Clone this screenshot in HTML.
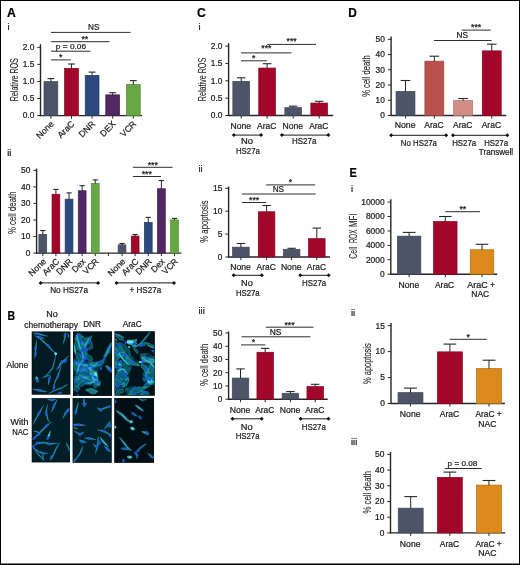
<!DOCTYPE html>
<html><head><meta charset="utf-8"><style>
html,body{margin:0;padding:0;background:#fff;}
body{width:520px;height:565px;overflow:hidden;}
svg{display:block;font-family:"Liberation Sans", sans-serif;will-change:transform;}
text{stroke:#1a1a1a;stroke-width:0.22px;paint-order:stroke;}
</style></head><body>
<svg width="520" height="565" viewBox="0 0 520 565">
<rect x="0" y="0" width="520" height="565" fill="#fff"/>
<text x="7.00" y="17.00" font-size="12.2" text-anchor="start" fill="#000" font-weight="bold">A</text>
<text x="7.50" y="29.50" font-size="9.4" text-anchor="start" fill="#1a1a1a">i</text>
<text x="197.00" y="17.00" font-size="12.2" text-anchor="start" fill="#000" font-weight="bold">C</text>
<text x="198.50" y="29.50" font-size="9.4" text-anchor="start" fill="#1a1a1a">i</text>
<text x="348.30" y="17.00" font-size="12.2" text-anchor="start" fill="#000" font-weight="bold" textLength="8.60" lengthAdjust="spacingAndGlyphs">D</text>
<text x="7.20" y="156.00" font-size="9.4" text-anchor="start" fill="#1a1a1a">ii</text>
<text x="7.50" y="320.00" font-size="12.2" text-anchor="start" fill="#000" font-weight="bold" textLength="7.60" lengthAdjust="spacingAndGlyphs">B</text>
<text x="198.50" y="171.80" font-size="9.4" text-anchor="start" fill="#1a1a1a">ii</text>
<text x="198.50" y="313.50" font-size="9.4" text-anchor="start" fill="#1a1a1a">iii</text>
<text x="349.60" y="176.50" font-size="12.2" text-anchor="start" fill="#000" font-weight="bold" textLength="7.30" lengthAdjust="spacingAndGlyphs">E</text>
<text x="351.00" y="191.50" font-size="9.4" text-anchor="start" fill="#1a1a1a">i</text>
<text x="351.00" y="315.50" font-size="9.4" text-anchor="start" fill="#1a1a1a">ii</text>
<text x="351.00" y="445.00" font-size="9.4" text-anchor="start" fill="#1a1a1a">iii</text>
<line x1="40.50" y1="44.20" x2="40.50" y2="116.10" stroke="#262626" stroke-width="1.4"/>
<line x1="37.30" y1="47.30" x2="40.50" y2="47.30" stroke="#262626" stroke-width="1.0"/>
<text x="34.30" y="50.19" font-size="8.4" text-anchor="end" fill="#1a1a1a">2.0</text>
<line x1="37.30" y1="64.38" x2="40.50" y2="64.38" stroke="#262626" stroke-width="1.0"/>
<text x="34.30" y="67.26" font-size="8.4" text-anchor="end" fill="#1a1a1a">1.5</text>
<line x1="37.30" y1="81.45" x2="40.50" y2="81.45" stroke="#262626" stroke-width="1.0"/>
<text x="34.30" y="84.34" font-size="8.4" text-anchor="end" fill="#1a1a1a">1.0</text>
<line x1="37.30" y1="98.52" x2="40.50" y2="98.52" stroke="#262626" stroke-width="1.0"/>
<text x="34.30" y="101.41" font-size="8.4" text-anchor="end" fill="#1a1a1a">0.5</text>
<line x1="37.30" y1="115.60" x2="40.50" y2="115.60" stroke="#262626" stroke-width="1.0"/>
<text x="34.30" y="118.49" font-size="8.4" text-anchor="end" fill="#1a1a1a">0.0</text>
<text transform="translate(17.70,79.75) rotate(-90)" font-size="10.4" text-anchor="middle" fill="#1a1a1a" textLength="43.10" lengthAdjust="spacingAndGlyphs" style="stroke-width:0.08px">Relative ROS</text>
<line x1="39.50" y1="115.60" x2="142.00" y2="115.60" stroke="#262626" stroke-width="1.4"/>
<line x1="50.90" y1="115.60" x2="50.90" y2="118.60" stroke="#262626" stroke-width="1.0"/>
<line x1="71.50" y1="115.60" x2="71.50" y2="118.60" stroke="#262626" stroke-width="1.0"/>
<line x1="92.10" y1="115.60" x2="92.10" y2="118.60" stroke="#262626" stroke-width="1.0"/>
<line x1="112.70" y1="115.60" x2="112.70" y2="118.60" stroke="#262626" stroke-width="1.0"/>
<line x1="133.30" y1="115.60" x2="133.30" y2="118.60" stroke="#262626" stroke-width="1.0"/>
<rect x="44.00" y="81.65" width="13.80" height="33.95" fill="#4c5567" stroke="#3e4554" stroke-width="0.7"/>
<line x1="50.90" y1="78.60" x2="50.90" y2="81.80" stroke="#262626" stroke-width="1.0"/>
<line x1="47.50" y1="78.60" x2="54.30" y2="78.60" stroke="#262626" stroke-width="1.1"/>
<rect x="64.60" y="68.35" width="13.80" height="47.25" fill="#a3062b" stroke="#850423" stroke-width="0.7"/>
<line x1="71.50" y1="64.00" x2="71.50" y2="68.50" stroke="#262626" stroke-width="1.0"/>
<line x1="68.10" y1="64.00" x2="74.90" y2="64.00" stroke="#262626" stroke-width="1.1"/>
<rect x="85.20" y="75.35" width="13.80" height="40.25" fill="#2c4a7e" stroke="#243c67" stroke-width="0.7"/>
<line x1="92.10" y1="72.10" x2="92.10" y2="75.50" stroke="#262626" stroke-width="1.0"/>
<line x1="88.70" y1="72.10" x2="95.50" y2="72.10" stroke="#262626" stroke-width="1.1"/>
<rect x="105.80" y="94.85" width="13.80" height="20.75" fill="#532761" stroke="#441f4f" stroke-width="0.7"/>
<line x1="112.70" y1="92.70" x2="112.70" y2="95.00" stroke="#262626" stroke-width="1.0"/>
<line x1="109.30" y1="92.70" x2="116.10" y2="92.70" stroke="#262626" stroke-width="1.1"/>
<rect x="126.40" y="84.55" width="13.80" height="31.05" fill="#66a843" stroke="#538936" stroke-width="0.7"/>
<line x1="133.30" y1="80.60" x2="133.30" y2="84.70" stroke="#262626" stroke-width="1.0"/>
<line x1="129.90" y1="80.60" x2="136.70" y2="80.60" stroke="#262626" stroke-width="1.1"/>
<text transform="translate(54.40,124.50) rotate(-45)" font-size="8.7" text-anchor="end" fill="#1a1a1a">None</text>
<text transform="translate(75.00,124.50) rotate(-45)" font-size="8.7" text-anchor="end" fill="#1a1a1a">AraC</text>
<text transform="translate(95.60,124.50) rotate(-45)" font-size="8.7" text-anchor="end" fill="#1a1a1a">DNR</text>
<text transform="translate(116.20,124.50) rotate(-45)" font-size="8.7" text-anchor="end" fill="#1a1a1a">DEX</text>
<text transform="translate(136.80,124.50) rotate(-45)" font-size="8.7" text-anchor="end" fill="#1a1a1a">VCR</text>
<line x1="51.00" y1="32.40" x2="130.50" y2="32.40" stroke="#2e2e2e" stroke-width="1.0"/>
<text x="93.70" y="30.30" font-size="8.7" text-anchor="middle" fill="#1a1a1a" textLength="11.40" lengthAdjust="spacingAndGlyphs">NS</text>
<line x1="51.00" y1="41.70" x2="109.50" y2="41.70" stroke="#2e2e2e" stroke-width="1.0"/>
<text x="84.85" y="42.00" font-size="8.7" text-anchor="middle" fill="#1a1a1a">**</text>
<line x1="51.00" y1="51.20" x2="90.50" y2="51.20" stroke="#2e2e2e" stroke-width="1.0"/>
<text x="70.95" y="48.90" font-size="7.9" text-anchor="middle" fill="#1a1a1a" textLength="30.20" lengthAdjust="spacingAndGlyphs">p = 0.06</text>
<line x1="51.00" y1="59.90" x2="70.80" y2="59.90" stroke="#2e2e2e" stroke-width="1.0"/>
<text x="60.80" y="60.10" font-size="8.7" text-anchor="middle" fill="#1a1a1a">*</text>
<line x1="36.60" y1="168.50" x2="36.60" y2="253.60" stroke="#262626" stroke-width="1.4"/>
<line x1="33.40" y1="170.35" x2="36.60" y2="170.35" stroke="#262626" stroke-width="1.0"/>
<text x="30.40" y="173.24" font-size="8.4" text-anchor="end" fill="#1a1a1a">50</text>
<line x1="33.40" y1="186.90" x2="36.60" y2="186.90" stroke="#262626" stroke-width="1.0"/>
<text x="30.40" y="189.79" font-size="8.4" text-anchor="end" fill="#1a1a1a">40</text>
<line x1="33.40" y1="203.45" x2="36.60" y2="203.45" stroke="#262626" stroke-width="1.0"/>
<text x="30.40" y="206.34" font-size="8.4" text-anchor="end" fill="#1a1a1a">30</text>
<line x1="33.40" y1="220.00" x2="36.60" y2="220.00" stroke="#262626" stroke-width="1.0"/>
<text x="30.40" y="222.89" font-size="8.4" text-anchor="end" fill="#1a1a1a">20</text>
<line x1="33.40" y1="236.55" x2="36.60" y2="236.55" stroke="#262626" stroke-width="1.0"/>
<text x="30.40" y="239.44" font-size="8.4" text-anchor="end" fill="#1a1a1a">10</text>
<line x1="33.40" y1="253.10" x2="36.60" y2="253.10" stroke="#262626" stroke-width="1.0"/>
<text x="30.40" y="255.99" font-size="8.4" text-anchor="end" fill="#1a1a1a">0</text>
<text transform="translate(16.00,212.75) rotate(-90)" font-size="10.4" text-anchor="middle" fill="#1a1a1a" textLength="42.50" lengthAdjust="spacingAndGlyphs" style="stroke-width:0.08px">% cell death</text>
<line x1="36.10" y1="253.10" x2="181.30" y2="253.10" stroke="#262626" stroke-width="1.4"/>
<line x1="42.80" y1="253.10" x2="42.80" y2="256.10" stroke="#262626" stroke-width="1.0"/>
<line x1="55.92" y1="253.10" x2="55.92" y2="256.10" stroke="#262626" stroke-width="1.0"/>
<line x1="69.04" y1="253.10" x2="69.04" y2="256.10" stroke="#262626" stroke-width="1.0"/>
<line x1="82.16" y1="253.10" x2="82.16" y2="256.10" stroke="#262626" stroke-width="1.0"/>
<line x1="95.28" y1="253.10" x2="95.28" y2="256.10" stroke="#262626" stroke-width="1.0"/>
<line x1="108.40" y1="253.10" x2="108.40" y2="256.10" stroke="#262626" stroke-width="1.0"/>
<line x1="122.02" y1="253.10" x2="122.02" y2="256.10" stroke="#262626" stroke-width="1.0"/>
<line x1="135.14" y1="253.10" x2="135.14" y2="256.10" stroke="#262626" stroke-width="1.0"/>
<line x1="148.26" y1="253.10" x2="148.26" y2="256.10" stroke="#262626" stroke-width="1.0"/>
<line x1="161.38" y1="253.10" x2="161.38" y2="256.10" stroke="#262626" stroke-width="1.0"/>
<line x1="174.50" y1="253.10" x2="174.50" y2="256.10" stroke="#262626" stroke-width="1.0"/>
<rect x="38.90" y="234.35" width="7.80" height="18.75" fill="#4c5567" stroke="#3e4554" stroke-width="0.7"/>
<line x1="42.80" y1="230.50" x2="42.80" y2="234.50" stroke="#262626" stroke-width="1.0"/>
<line x1="40.20" y1="230.50" x2="45.40" y2="230.50" stroke="#262626" stroke-width="1.1"/>
<text transform="translate(46.80,262.00) rotate(-45)" font-size="8.7" text-anchor="end" fill="#1a1a1a">None</text>
<rect x="52.02" y="194.25" width="7.80" height="58.85" fill="#a3062b" stroke="#850423" stroke-width="0.7"/>
<line x1="55.92" y1="189.40" x2="55.92" y2="194.40" stroke="#262626" stroke-width="1.0"/>
<line x1="53.32" y1="189.40" x2="58.52" y2="189.40" stroke="#262626" stroke-width="1.1"/>
<text transform="translate(59.92,262.00) rotate(-45)" font-size="8.7" text-anchor="end" fill="#1a1a1a">AraC</text>
<rect x="65.14" y="199.15" width="7.80" height="53.95" fill="#2c4a7e" stroke="#243c67" stroke-width="0.7"/>
<line x1="69.04" y1="192.90" x2="69.04" y2="199.30" stroke="#262626" stroke-width="1.0"/>
<line x1="66.44" y1="192.90" x2="71.64" y2="192.90" stroke="#262626" stroke-width="1.1"/>
<text transform="translate(73.04,262.00) rotate(-45)" font-size="8.7" text-anchor="end" fill="#1a1a1a">DNR</text>
<rect x="78.26" y="190.75" width="7.80" height="62.35" fill="#532761" stroke="#441f4f" stroke-width="0.7"/>
<line x1="82.16" y1="185.70" x2="82.16" y2="190.90" stroke="#262626" stroke-width="1.0"/>
<line x1="79.56" y1="185.70" x2="84.76" y2="185.70" stroke="#262626" stroke-width="1.1"/>
<text transform="translate(86.16,262.00) rotate(-45)" font-size="8.7" text-anchor="end" fill="#1a1a1a">Dex</text>
<rect x="91.38" y="183.35" width="7.80" height="69.75" fill="#66a843" stroke="#538936" stroke-width="0.7"/>
<line x1="95.28" y1="179.90" x2="95.28" y2="183.50" stroke="#262626" stroke-width="1.0"/>
<line x1="92.68" y1="179.90" x2="97.88" y2="179.90" stroke="#262626" stroke-width="1.1"/>
<text transform="translate(99.28,262.00) rotate(-45)" font-size="8.7" text-anchor="end" fill="#1a1a1a">VCR</text>
<rect x="118.12" y="244.85" width="7.80" height="8.25" fill="#4c5567" stroke="#3e4554" stroke-width="0.7"/>
<line x1="122.02" y1="243.50" x2="122.02" y2="245.00" stroke="#262626" stroke-width="1.0"/>
<line x1="119.42" y1="243.50" x2="124.62" y2="243.50" stroke="#262626" stroke-width="1.1"/>
<text transform="translate(126.02,262.00) rotate(-45)" font-size="8.7" text-anchor="end" fill="#1a1a1a">None</text>
<rect x="131.24" y="236.05" width="7.80" height="17.05" fill="#a3062b" stroke="#850423" stroke-width="0.7"/>
<line x1="135.14" y1="234.50" x2="135.14" y2="236.20" stroke="#262626" stroke-width="1.0"/>
<line x1="132.54" y1="234.50" x2="137.74" y2="234.50" stroke="#262626" stroke-width="1.1"/>
<text transform="translate(139.14,262.00) rotate(-45)" font-size="8.7" text-anchor="end" fill="#1a1a1a">AraC</text>
<rect x="144.36" y="222.35" width="7.80" height="30.75" fill="#2c4a7e" stroke="#243c67" stroke-width="0.7"/>
<line x1="148.26" y1="217.40" x2="148.26" y2="222.50" stroke="#262626" stroke-width="1.0"/>
<line x1="145.66" y1="217.40" x2="150.86" y2="217.40" stroke="#262626" stroke-width="1.1"/>
<text transform="translate(152.26,262.00) rotate(-45)" font-size="8.7" text-anchor="end" fill="#1a1a1a">DNR</text>
<rect x="157.48" y="188.75" width="7.80" height="64.35" fill="#532761" stroke="#441f4f" stroke-width="0.7"/>
<line x1="161.38" y1="180.50" x2="161.38" y2="188.90" stroke="#262626" stroke-width="1.0"/>
<line x1="158.78" y1="180.50" x2="163.98" y2="180.50" stroke="#262626" stroke-width="1.1"/>
<text transform="translate(165.38,262.00) rotate(-45)" font-size="8.7" text-anchor="end" fill="#1a1a1a">Dex</text>
<rect x="170.60" y="219.95" width="7.80" height="33.15" fill="#66a843" stroke="#538936" stroke-width="0.7"/>
<line x1="174.50" y1="218.40" x2="174.50" y2="220.10" stroke="#262626" stroke-width="1.0"/>
<line x1="171.90" y1="218.40" x2="177.10" y2="218.40" stroke="#262626" stroke-width="1.1"/>
<text transform="translate(178.50,262.00) rotate(-45)" font-size="8.7" text-anchor="end" fill="#1a1a1a">VCR</text>
<line x1="132.90" y1="167.30" x2="172.60" y2="167.30" stroke="#2e2e2e" stroke-width="1.0"/>
<text x="152.75" y="167.60" font-size="8.7" text-anchor="middle" fill="#1a1a1a">***</text>
<line x1="132.90" y1="176.50" x2="161.00" y2="176.50" stroke="#2e2e2e" stroke-width="1.0"/>
<text x="146.75" y="177.10" font-size="8.7" text-anchor="middle" fill="#1a1a1a">***</text>
<line x1="40.60" y1="282.90" x2="98.10" y2="282.90" stroke="#1a1a1a" stroke-width="1.0"/>
<path d="M38.60 282.90 L40.60 280.90 L42.60 282.90 L40.60 284.90 Z" fill="#111"/>
<path d="M96.10 282.90 L98.10 280.90 L100.10 282.90 L98.10 284.90 Z" fill="#111"/>
<line x1="116.50" y1="282.90" x2="174.00" y2="282.90" stroke="#1a1a1a" stroke-width="1.0"/>
<path d="M114.50 282.90 L116.50 280.90 L118.50 282.90 L116.50 284.90 Z" fill="#111"/>
<path d="M172.00 282.90 L174.00 280.90 L176.00 282.90 L174.00 284.90 Z" fill="#111"/>
<text x="69.10" y="293.30" font-size="8.7" text-anchor="middle" fill="#1a1a1a" textLength="37.80" lengthAdjust="spacingAndGlyphs">No HS27a</text>
<text x="145.40" y="293.30" font-size="8.7" text-anchor="middle" fill="#1a1a1a" textLength="31.60" lengthAdjust="spacingAndGlyphs">+ HS27a</text>
<line x1="228.60" y1="43.30" x2="228.60" y2="116.00" stroke="#262626" stroke-width="1.4"/>
<line x1="225.40" y1="46.10" x2="228.60" y2="46.10" stroke="#262626" stroke-width="1.0"/>
<text x="222.40" y="48.99" font-size="8.4" text-anchor="end" fill="#1a1a1a">2.0</text>
<line x1="225.40" y1="63.45" x2="228.60" y2="63.45" stroke="#262626" stroke-width="1.0"/>
<text x="222.40" y="66.34" font-size="8.4" text-anchor="end" fill="#1a1a1a">1.5</text>
<line x1="225.40" y1="80.80" x2="228.60" y2="80.80" stroke="#262626" stroke-width="1.0"/>
<text x="222.40" y="83.69" font-size="8.4" text-anchor="end" fill="#1a1a1a">1.0</text>
<line x1="225.40" y1="98.15" x2="228.60" y2="98.15" stroke="#262626" stroke-width="1.0"/>
<text x="222.40" y="101.04" font-size="8.4" text-anchor="end" fill="#1a1a1a">0.5</text>
<line x1="225.40" y1="115.50" x2="228.60" y2="115.50" stroke="#262626" stroke-width="1.0"/>
<text x="222.40" y="118.39" font-size="8.4" text-anchor="end" fill="#1a1a1a">0.0</text>
<text transform="translate(205.50,79.55) rotate(-90)" font-size="10.4" text-anchor="middle" fill="#1a1a1a" textLength="43.50" lengthAdjust="spacingAndGlyphs" style="stroke-width:0.08px">Relative ROS</text>
<line x1="228.10" y1="115.50" x2="333.20" y2="115.50" stroke="#262626" stroke-width="1.4"/>
<line x1="241.20" y1="115.50" x2="241.20" y2="118.50" stroke="#262626" stroke-width="1.0"/>
<line x1="267.10" y1="115.50" x2="267.10" y2="118.50" stroke="#262626" stroke-width="1.0"/>
<line x1="293.20" y1="115.50" x2="293.20" y2="118.50" stroke="#262626" stroke-width="1.0"/>
<line x1="319.20" y1="115.50" x2="319.20" y2="118.50" stroke="#262626" stroke-width="1.0"/>
<rect x="232.85" y="81.35" width="16.70" height="34.15" fill="#4c5567" stroke="#3e4554" stroke-width="0.7"/>
<line x1="241.20" y1="77.80" x2="241.20" y2="81.50" stroke="#262626" stroke-width="1.0"/>
<line x1="237.00" y1="77.80" x2="245.40" y2="77.80" stroke="#262626" stroke-width="1.1"/>
<rect x="258.75" y="68.05" width="16.70" height="47.45" fill="#a3062b" stroke="#850423" stroke-width="0.7"/>
<line x1="267.10" y1="63.70" x2="267.10" y2="68.20" stroke="#262626" stroke-width="1.0"/>
<line x1="262.90" y1="63.70" x2="271.30" y2="63.70" stroke="#262626" stroke-width="1.1"/>
<rect x="284.85" y="107.65" width="16.70" height="7.85" fill="#4c5567" stroke="#3e4554" stroke-width="0.7"/>
<line x1="293.20" y1="106.20" x2="293.20" y2="107.80" stroke="#262626" stroke-width="1.0"/>
<line x1="289.00" y1="106.20" x2="297.40" y2="106.20" stroke="#262626" stroke-width="1.1"/>
<rect x="310.85" y="103.05" width="16.70" height="12.45" fill="#a3062b" stroke="#850423" stroke-width="0.7"/>
<line x1="319.20" y1="101.30" x2="319.20" y2="103.20" stroke="#262626" stroke-width="1.0"/>
<line x1="315.00" y1="101.30" x2="323.40" y2="101.30" stroke="#262626" stroke-width="1.1"/>
<text x="240.80" y="128.80" font-size="8.7" text-anchor="middle" fill="#1a1a1a" textLength="20.60" lengthAdjust="spacingAndGlyphs">None</text>
<text x="266.70" y="128.80" font-size="8.7" text-anchor="middle" fill="#1a1a1a" textLength="19.20" lengthAdjust="spacingAndGlyphs">AraC</text>
<text x="292.80" y="128.80" font-size="8.7" text-anchor="middle" fill="#1a1a1a" textLength="20.60" lengthAdjust="spacingAndGlyphs">None</text>
<text x="318.80" y="128.80" font-size="8.7" text-anchor="middle" fill="#1a1a1a" textLength="19.20" lengthAdjust="spacingAndGlyphs">AraC</text>
<line x1="241.00" y1="60.80" x2="266.90" y2="60.80" stroke="#2e2e2e" stroke-width="1.0"/>
<text x="253.80" y="61.30" font-size="8.7" text-anchor="middle" fill="#1a1a1a">*</text>
<line x1="241.00" y1="52.90" x2="291.60" y2="52.90" stroke="#2e2e2e" stroke-width="1.0"/>
<text x="266.40" y="51.25" font-size="8.7" text-anchor="middle" fill="#1a1a1a">***</text>
<line x1="267.30" y1="44.40" x2="316.00" y2="44.40" stroke="#2e2e2e" stroke-width="1.0"/>
<text x="291.70" y="44.30" font-size="8.7" text-anchor="middle" fill="#1a1a1a">***</text>
<line x1="233.80" y1="135.10" x2="261.10" y2="135.10" stroke="#1a1a1a" stroke-width="1.0"/>
<path d="M231.80 135.10 L233.80 133.10 L235.80 135.10 L233.80 137.10 Z" fill="#111"/>
<path d="M259.10 135.10 L261.10 133.10 L263.10 135.10 L261.10 137.10 Z" fill="#111"/>
<line x1="281.90" y1="135.10" x2="328.40" y2="135.10" stroke="#1a1a1a" stroke-width="1.0"/>
<path d="M279.90 135.10 L281.90 133.10 L283.90 135.10 L281.90 137.10 Z" fill="#111"/>
<path d="M326.40 135.10 L328.40 133.10 L330.40 135.10 L328.40 137.10 Z" fill="#111"/>
<text x="247.00" y="143.80" font-size="8.7" text-anchor="middle" fill="#1a1a1a" textLength="12.00" lengthAdjust="spacingAndGlyphs">No</text>
<text x="247.90" y="153.80" font-size="8.7" text-anchor="middle" fill="#1a1a1a" textLength="23.80" lengthAdjust="spacingAndGlyphs">HS27a</text>
<text x="304.20" y="143.80" font-size="8.7" text-anchor="middle" fill="#1a1a1a" textLength="24.30" lengthAdjust="spacingAndGlyphs">HS27a</text>
<line x1="228.60" y1="186.50" x2="228.60" y2="257.50" stroke="#262626" stroke-width="1.4"/>
<line x1="225.40" y1="188.30" x2="228.60" y2="188.30" stroke="#262626" stroke-width="1.0"/>
<text x="222.40" y="191.19" font-size="8.4" text-anchor="end" fill="#1a1a1a">15</text>
<line x1="225.40" y1="211.20" x2="228.60" y2="211.20" stroke="#262626" stroke-width="1.0"/>
<text x="222.40" y="214.09" font-size="8.4" text-anchor="end" fill="#1a1a1a">10</text>
<line x1="225.40" y1="234.10" x2="228.60" y2="234.10" stroke="#262626" stroke-width="1.0"/>
<text x="222.40" y="236.99" font-size="8.4" text-anchor="end" fill="#1a1a1a">5</text>
<line x1="225.40" y1="257.00" x2="228.60" y2="257.00" stroke="#262626" stroke-width="1.0"/>
<text x="222.40" y="259.89" font-size="8.4" text-anchor="end" fill="#1a1a1a">0</text>
<text transform="translate(207.60,221.60) rotate(-90)" font-size="10.4" text-anchor="middle" fill="#1a1a1a" textLength="42.20" lengthAdjust="spacingAndGlyphs" style="stroke-width:0.08px">% apoptosis</text>
<line x1="228.10" y1="257.00" x2="330.00" y2="257.00" stroke="#262626" stroke-width="1.4"/>
<line x1="240.90" y1="257.00" x2="240.90" y2="260.00" stroke="#262626" stroke-width="1.0"/>
<line x1="266.60" y1="257.00" x2="266.60" y2="260.00" stroke="#262626" stroke-width="1.0"/>
<line x1="291.60" y1="257.00" x2="291.60" y2="260.00" stroke="#262626" stroke-width="1.0"/>
<line x1="316.80" y1="257.00" x2="316.80" y2="260.00" stroke="#262626" stroke-width="1.0"/>
<rect x="232.60" y="247.15" width="16.60" height="9.85" fill="#4c5567" stroke="#3e4554" stroke-width="0.7"/>
<line x1="240.90" y1="243.50" x2="240.90" y2="247.30" stroke="#262626" stroke-width="1.0"/>
<line x1="236.70" y1="243.50" x2="245.10" y2="243.50" stroke="#262626" stroke-width="1.1"/>
<rect x="258.30" y="211.75" width="16.60" height="45.25" fill="#a3062b" stroke="#850423" stroke-width="0.7"/>
<line x1="266.60" y1="205.50" x2="266.60" y2="211.90" stroke="#262626" stroke-width="1.0"/>
<line x1="262.40" y1="205.50" x2="270.80" y2="205.50" stroke="#262626" stroke-width="1.1"/>
<rect x="283.30" y="249.45" width="16.60" height="7.55" fill="#4c5567" stroke="#3e4554" stroke-width="0.7"/>
<line x1="291.60" y1="248.30" x2="291.60" y2="249.60" stroke="#262626" stroke-width="1.0"/>
<line x1="287.40" y1="248.30" x2="295.80" y2="248.30" stroke="#262626" stroke-width="1.1"/>
<rect x="308.50" y="238.65" width="16.60" height="18.35" fill="#a3062b" stroke="#850423" stroke-width="0.7"/>
<line x1="316.80" y1="228.10" x2="316.80" y2="238.80" stroke="#262626" stroke-width="1.0"/>
<line x1="312.60" y1="228.10" x2="321.00" y2="228.10" stroke="#262626" stroke-width="1.1"/>
<text x="240.50" y="270.40" font-size="8.7" text-anchor="middle" fill="#1a1a1a" textLength="20.60" lengthAdjust="spacingAndGlyphs">None</text>
<text x="266.20" y="270.40" font-size="8.7" text-anchor="middle" fill="#1a1a1a" textLength="19.20" lengthAdjust="spacingAndGlyphs">AraC</text>
<text x="291.20" y="270.40" font-size="8.7" text-anchor="middle" fill="#1a1a1a" textLength="20.60" lengthAdjust="spacingAndGlyphs">None</text>
<text x="316.40" y="270.40" font-size="8.7" text-anchor="middle" fill="#1a1a1a" textLength="19.20" lengthAdjust="spacingAndGlyphs">AraC</text>
<line x1="242.00" y1="202.50" x2="266.20" y2="202.50" stroke="#2e2e2e" stroke-width="1.0"/>
<text x="254.20" y="202.80" font-size="8.7" text-anchor="middle" fill="#1a1a1a">***</text>
<line x1="242.00" y1="194.00" x2="315.60" y2="194.00" stroke="#2e2e2e" stroke-width="1.0"/>
<text x="278.40" y="192.20" font-size="8.7" text-anchor="middle" fill="#1a1a1a" textLength="11.40" lengthAdjust="spacingAndGlyphs">NS</text>
<line x1="266.20" y1="184.90" x2="315.10" y2="184.90" stroke="#2e2e2e" stroke-width="1.0"/>
<text x="290.50" y="185.40" font-size="8.7" text-anchor="middle" fill="#1a1a1a">*</text>
<line x1="233.60" y1="275.30" x2="261.80" y2="275.30" stroke="#1a1a1a" stroke-width="1.0"/>
<path d="M231.60 275.30 L233.60 273.30 L235.60 275.30 L233.60 277.30 Z" fill="#111"/>
<path d="M259.80 275.30 L261.80 273.30 L263.80 275.30 L261.80 277.30 Z" fill="#111"/>
<line x1="300.30" y1="275.30" x2="328.70" y2="275.30" stroke="#1a1a1a" stroke-width="1.0"/>
<path d="M298.30 275.30 L300.30 273.30 L302.30 275.30 L300.30 277.30 Z" fill="#111"/>
<path d="M326.70 275.30 L328.70 273.30 L330.70 275.30 L328.70 277.30 Z" fill="#111"/>
<text x="246.90" y="285.80" font-size="8.7" text-anchor="middle" fill="#1a1a1a" textLength="11.80" lengthAdjust="spacingAndGlyphs">No</text>
<text x="247.80" y="296.40" font-size="8.7" text-anchor="middle" fill="#1a1a1a" textLength="23.80" lengthAdjust="spacingAndGlyphs">HS27a</text>
<text x="314.10" y="286.30" font-size="8.7" text-anchor="middle" fill="#1a1a1a" textLength="24.20" lengthAdjust="spacingAndGlyphs">HS27a</text>
<line x1="228.60" y1="331.50" x2="228.60" y2="399.70" stroke="#262626" stroke-width="1.4"/>
<line x1="225.40" y1="333.00" x2="228.60" y2="333.00" stroke="#262626" stroke-width="1.0"/>
<text x="222.40" y="335.89" font-size="8.4" text-anchor="end" fill="#1a1a1a">50</text>
<line x1="225.40" y1="346.24" x2="228.60" y2="346.24" stroke="#262626" stroke-width="1.0"/>
<text x="222.40" y="349.13" font-size="8.4" text-anchor="end" fill="#1a1a1a">40</text>
<line x1="225.40" y1="359.48" x2="228.60" y2="359.48" stroke="#262626" stroke-width="1.0"/>
<text x="222.40" y="362.37" font-size="8.4" text-anchor="end" fill="#1a1a1a">30</text>
<line x1="225.40" y1="372.72" x2="228.60" y2="372.72" stroke="#262626" stroke-width="1.0"/>
<text x="222.40" y="375.61" font-size="8.4" text-anchor="end" fill="#1a1a1a">20</text>
<line x1="225.40" y1="385.96" x2="228.60" y2="385.96" stroke="#262626" stroke-width="1.0"/>
<text x="222.40" y="388.85" font-size="8.4" text-anchor="end" fill="#1a1a1a">10</text>
<line x1="225.40" y1="399.20" x2="228.60" y2="399.20" stroke="#262626" stroke-width="1.0"/>
<text x="222.40" y="402.09" font-size="8.4" text-anchor="end" fill="#1a1a1a">0</text>
<text transform="translate(208.00,364.85) rotate(-90)" font-size="10.4" text-anchor="middle" fill="#1a1a1a" textLength="42.10" lengthAdjust="spacingAndGlyphs" style="stroke-width:0.08px">% cell death</text>
<line x1="228.10" y1="399.20" x2="327.70" y2="399.20" stroke="#262626" stroke-width="1.4"/>
<line x1="240.50" y1="399.20" x2="240.50" y2="402.20" stroke="#262626" stroke-width="1.0"/>
<line x1="265.20" y1="399.20" x2="265.20" y2="402.20" stroke="#262626" stroke-width="1.0"/>
<line x1="290.40" y1="399.20" x2="290.40" y2="402.20" stroke="#262626" stroke-width="1.0"/>
<line x1="315.20" y1="399.20" x2="315.20" y2="402.20" stroke="#262626" stroke-width="1.0"/>
<rect x="232.25" y="378.05" width="16.50" height="21.15" fill="#4c5567" stroke="#3e4554" stroke-width="0.7"/>
<line x1="240.50" y1="368.90" x2="240.50" y2="378.20" stroke="#262626" stroke-width="1.0"/>
<line x1="236.30" y1="368.90" x2="244.70" y2="368.90" stroke="#262626" stroke-width="1.1"/>
<rect x="256.95" y="352.25" width="16.50" height="46.95" fill="#a3062b" stroke="#850423" stroke-width="0.7"/>
<line x1="265.20" y1="348.40" x2="265.20" y2="352.40" stroke="#262626" stroke-width="1.0"/>
<line x1="261.00" y1="348.40" x2="269.40" y2="348.40" stroke="#262626" stroke-width="1.1"/>
<rect x="282.15" y="393.25" width="16.50" height="5.95" fill="#4c5567" stroke="#3e4554" stroke-width="0.7"/>
<line x1="290.40" y1="391.50" x2="290.40" y2="393.40" stroke="#262626" stroke-width="1.0"/>
<line x1="286.20" y1="391.50" x2="294.60" y2="391.50" stroke="#262626" stroke-width="1.1"/>
<rect x="306.95" y="386.55" width="16.50" height="12.65" fill="#a3062b" stroke="#850423" stroke-width="0.7"/>
<line x1="315.20" y1="384.30" x2="315.20" y2="386.70" stroke="#262626" stroke-width="1.0"/>
<line x1="311.00" y1="384.30" x2="319.40" y2="384.30" stroke="#262626" stroke-width="1.1"/>
<text x="240.10" y="412.70" font-size="8.7" text-anchor="middle" fill="#1a1a1a" textLength="20.60" lengthAdjust="spacingAndGlyphs">None</text>
<text x="264.80" y="412.70" font-size="8.7" text-anchor="middle" fill="#1a1a1a" textLength="19.20" lengthAdjust="spacingAndGlyphs">AraC</text>
<text x="290.00" y="412.70" font-size="8.7" text-anchor="middle" fill="#1a1a1a" textLength="20.60" lengthAdjust="spacingAndGlyphs">None</text>
<text x="314.80" y="412.70" font-size="8.7" text-anchor="middle" fill="#1a1a1a" textLength="19.20" lengthAdjust="spacingAndGlyphs">AraC</text>
<line x1="241.00" y1="344.90" x2="265.40" y2="344.90" stroke="#2e2e2e" stroke-width="1.0"/>
<text x="253.50" y="345.10" font-size="8.7" text-anchor="middle" fill="#1a1a1a">*</text>
<line x1="241.50" y1="336.80" x2="310.50" y2="336.80" stroke="#2e2e2e" stroke-width="1.0"/>
<text x="275.60" y="334.60" font-size="8.7" text-anchor="middle" fill="#1a1a1a" textLength="11.80" lengthAdjust="spacingAndGlyphs">NS</text>
<line x1="265.80" y1="327.20" x2="313.50" y2="327.20" stroke="#2e2e2e" stroke-width="1.0"/>
<text x="289.55" y="328.20" font-size="8.7" text-anchor="middle" fill="#1a1a1a">***</text>
<line x1="232.50" y1="418.80" x2="261.70" y2="418.80" stroke="#1a1a1a" stroke-width="1.0"/>
<path d="M230.50 418.80 L232.50 416.80 L234.50 418.80 L232.50 420.80 Z" fill="#111"/>
<path d="M259.70 418.80 L261.70 416.80 L263.70 418.80 L261.70 420.80 Z" fill="#111"/>
<line x1="300.60" y1="418.80" x2="328.50" y2="418.80" stroke="#1a1a1a" stroke-width="1.0"/>
<path d="M298.60 418.80 L300.60 416.80 L302.60 418.80 L300.60 420.80 Z" fill="#111"/>
<path d="M326.50 418.80 L328.50 416.80 L330.50 418.80 L328.50 420.80 Z" fill="#111"/>
<text x="246.70" y="429.50" font-size="8.7" text-anchor="middle" fill="#1a1a1a" textLength="11.80" lengthAdjust="spacingAndGlyphs">No</text>
<text x="247.60" y="438.80" font-size="8.7" text-anchor="middle" fill="#1a1a1a" textLength="23.80" lengthAdjust="spacingAndGlyphs">HS27a</text>
<text x="313.80" y="429.50" font-size="8.7" text-anchor="middle" fill="#1a1a1a" textLength="24.20" lengthAdjust="spacingAndGlyphs">HS27a</text>
<line x1="391.10" y1="36.60" x2="391.10" y2="116.00" stroke="#262626" stroke-width="1.4"/>
<line x1="387.90" y1="39.30" x2="391.10" y2="39.30" stroke="#262626" stroke-width="1.0"/>
<text x="384.90" y="42.19" font-size="8.4" text-anchor="end" fill="#1a1a1a">50</text>
<line x1="387.90" y1="54.54" x2="391.10" y2="54.54" stroke="#262626" stroke-width="1.0"/>
<text x="384.90" y="57.43" font-size="8.4" text-anchor="end" fill="#1a1a1a">40</text>
<line x1="387.90" y1="69.78" x2="391.10" y2="69.78" stroke="#262626" stroke-width="1.0"/>
<text x="384.90" y="72.67" font-size="8.4" text-anchor="end" fill="#1a1a1a">30</text>
<line x1="387.90" y1="85.02" x2="391.10" y2="85.02" stroke="#262626" stroke-width="1.0"/>
<text x="384.90" y="87.91" font-size="8.4" text-anchor="end" fill="#1a1a1a">20</text>
<line x1="387.90" y1="100.26" x2="391.10" y2="100.26" stroke="#262626" stroke-width="1.0"/>
<text x="384.90" y="103.15" font-size="8.4" text-anchor="end" fill="#1a1a1a">10</text>
<line x1="387.90" y1="115.50" x2="391.10" y2="115.50" stroke="#262626" stroke-width="1.0"/>
<text x="384.90" y="118.39" font-size="8.4" text-anchor="end" fill="#1a1a1a">0</text>
<text transform="translate(370.40,76.10) rotate(-90)" font-size="10.4" text-anchor="middle" fill="#1a1a1a" textLength="41.40" lengthAdjust="spacingAndGlyphs" style="stroke-width:0.08px">% cell death</text>
<line x1="390.60" y1="115.50" x2="506.30" y2="115.50" stroke="#262626" stroke-width="1.4"/>
<line x1="405.50" y1="115.50" x2="405.50" y2="118.50" stroke="#262626" stroke-width="1.0"/>
<line x1="434.35" y1="115.50" x2="434.35" y2="118.50" stroke="#262626" stroke-width="1.0"/>
<line x1="463.10" y1="115.50" x2="463.10" y2="118.50" stroke="#262626" stroke-width="1.0"/>
<line x1="491.75" y1="115.50" x2="491.75" y2="118.50" stroke="#262626" stroke-width="1.0"/>
<rect x="396.05" y="91.45" width="18.90" height="24.05" fill="#4c5567" stroke="#3e4554" stroke-width="0.7"/>
<line x1="405.50" y1="80.50" x2="405.50" y2="91.60" stroke="#262626" stroke-width="1.0"/>
<line x1="400.70" y1="80.50" x2="410.30" y2="80.50" stroke="#262626" stroke-width="1.1"/>
<rect x="424.90" y="61.15" width="18.90" height="54.35" fill="#b9524c" stroke="#97433e" stroke-width="0.7"/>
<line x1="434.35" y1="56.20" x2="434.35" y2="61.30" stroke="#262626" stroke-width="1.0"/>
<line x1="429.55" y1="56.20" x2="439.15" y2="56.20" stroke="#262626" stroke-width="1.1"/>
<rect x="453.65" y="100.45" width="18.90" height="15.05" fill="#d28e84" stroke="#ac746c" stroke-width="0.7"/>
<line x1="463.10" y1="98.50" x2="463.10" y2="100.60" stroke="#262626" stroke-width="1.0"/>
<line x1="458.30" y1="98.50" x2="467.90" y2="98.50" stroke="#262626" stroke-width="1.1"/>
<rect x="482.30" y="50.85" width="18.90" height="64.65" fill="#a3062b" stroke="#850423" stroke-width="0.7"/>
<line x1="491.75" y1="44.20" x2="491.75" y2="51.00" stroke="#262626" stroke-width="1.0"/>
<line x1="486.95" y1="44.20" x2="496.55" y2="44.20" stroke="#262626" stroke-width="1.1"/>
<text x="405.10" y="128.40" font-size="8.7" text-anchor="middle" fill="#1a1a1a" textLength="20.90" lengthAdjust="spacingAndGlyphs">None</text>
<text x="433.95" y="128.40" font-size="8.7" text-anchor="middle" fill="#1a1a1a" textLength="19.40" lengthAdjust="spacingAndGlyphs">AraC</text>
<text x="462.70" y="128.40" font-size="8.7" text-anchor="middle" fill="#1a1a1a" textLength="19.40" lengthAdjust="spacingAndGlyphs">AraC</text>
<text x="491.35" y="128.40" font-size="8.7" text-anchor="middle" fill="#1a1a1a" textLength="19.40" lengthAdjust="spacingAndGlyphs">AraC</text>
<line x1="434.00" y1="40.50" x2="491.60" y2="40.50" stroke="#2e2e2e" stroke-width="1.0"/>
<text x="462.25" y="37.90" font-size="8.7" text-anchor="middle" fill="#1a1a1a" textLength="11.50" lengthAdjust="spacingAndGlyphs">NS</text>
<line x1="461.60" y1="30.10" x2="490.80" y2="30.10" stroke="#2e2e2e" stroke-width="1.0"/>
<text x="476.20" y="30.30" font-size="8.7" text-anchor="middle" fill="#1a1a1a">***</text>
<line x1="391.20" y1="135.30" x2="446.20" y2="135.30" stroke="#1a1a1a" stroke-width="1.0"/>
<path d="M389.20 135.30 L391.20 133.30 L393.20 135.30 L391.20 137.30 Z" fill="#111"/>
<path d="M444.20 135.30 L446.20 133.30 L448.20 135.30 L446.20 137.30 Z" fill="#111"/>
<line x1="453.00" y1="135.30" x2="507.30" y2="135.30" stroke="#1a1a1a" stroke-width="1.0"/>
<path d="M451.00 135.30 L453.00 133.30 L455.00 135.30 L453.00 137.30 Z" fill="#111"/>
<path d="M505.30 135.30 L507.30 133.30 L509.30 135.30 L507.30 137.30 Z" fill="#111"/>
<text x="418.90" y="145.70" font-size="8.7" text-anchor="middle" fill="#1a1a1a" textLength="36.20" lengthAdjust="spacingAndGlyphs">No HS27a</text>
<text x="464.20" y="145.70" font-size="8.7" text-anchor="middle" fill="#1a1a1a" textLength="24.00" lengthAdjust="spacingAndGlyphs">HS27a</text>
<text x="496.10" y="145.70" font-size="8.7" text-anchor="middle" fill="#1a1a1a" textLength="23.80" lengthAdjust="spacingAndGlyphs">HS27a</text>
<text x="496.00" y="155.40" font-size="8.7" text-anchor="middle" fill="#1a1a1a" textLength="34.30" lengthAdjust="spacingAndGlyphs">Transwell</text>
<line x1="390.80" y1="199.20" x2="390.80" y2="274.70" stroke="#262626" stroke-width="1.4"/>
<line x1="387.60" y1="202.10" x2="390.80" y2="202.10" stroke="#262626" stroke-width="1.0"/>
<text x="384.60" y="204.99" font-size="8.4" text-anchor="end" fill="#1a1a1a">10000</text>
<line x1="387.60" y1="216.52" x2="390.80" y2="216.52" stroke="#262626" stroke-width="1.0"/>
<text x="384.60" y="219.41" font-size="8.4" text-anchor="end" fill="#1a1a1a">8000</text>
<line x1="387.60" y1="230.94" x2="390.80" y2="230.94" stroke="#262626" stroke-width="1.0"/>
<text x="384.60" y="233.83" font-size="8.4" text-anchor="end" fill="#1a1a1a">6000</text>
<line x1="387.60" y1="245.36" x2="390.80" y2="245.36" stroke="#262626" stroke-width="1.0"/>
<text x="384.60" y="248.25" font-size="8.4" text-anchor="end" fill="#1a1a1a">4000</text>
<line x1="387.60" y1="259.78" x2="390.80" y2="259.78" stroke="#262626" stroke-width="1.0"/>
<text x="384.60" y="262.67" font-size="8.4" text-anchor="end" fill="#1a1a1a">2000</text>
<line x1="387.60" y1="274.20" x2="390.80" y2="274.20" stroke="#262626" stroke-width="1.0"/>
<text x="384.60" y="277.09" font-size="8.4" text-anchor="end" fill="#1a1a1a">0</text>
<text transform="translate(356.80,252.75) rotate(-90)" font-size="10.4" text-anchor="middle" fill="#1a1a1a" textLength="12.10" lengthAdjust="spacingAndGlyphs" style="stroke-width:0.08px">Cell</text>
<text transform="translate(356.80,236.40) rotate(-90)" font-size="10.4" text-anchor="middle" fill="#1a1a1a" textLength="13.40" lengthAdjust="spacingAndGlyphs" style="stroke-width:0.08px">ROX</text>
<text transform="translate(356.80,220.25) rotate(-90)" font-size="10.4" text-anchor="middle" fill="#1a1a1a" textLength="13.50" lengthAdjust="spacingAndGlyphs" style="stroke-width:0.08px">MFI</text>
<line x1="390.30" y1="274.20" x2="497.20" y2="274.20" stroke="#262626" stroke-width="1.4"/>
<line x1="409.10" y1="274.20" x2="409.10" y2="277.20" stroke="#262626" stroke-width="1.0"/>
<line x1="445.30" y1="274.20" x2="445.30" y2="277.20" stroke="#262626" stroke-width="1.0"/>
<line x1="482.00" y1="274.20" x2="482.00" y2="277.20" stroke="#262626" stroke-width="1.0"/>
<rect x="397.35" y="236.15" width="23.50" height="38.05" fill="#4c5567" stroke="#3e4554" stroke-width="0.7"/>
<line x1="409.10" y1="232.40" x2="409.10" y2="236.30" stroke="#262626" stroke-width="1.0"/>
<line x1="402.80" y1="232.40" x2="415.40" y2="232.40" stroke="#262626" stroke-width="1.1"/>
<rect x="433.55" y="221.45" width="23.50" height="52.75" fill="#a3062b" stroke="#850423" stroke-width="0.7"/>
<line x1="445.30" y1="216.50" x2="445.30" y2="221.60" stroke="#262626" stroke-width="1.0"/>
<line x1="439.00" y1="216.50" x2="451.60" y2="216.50" stroke="#262626" stroke-width="1.1"/>
<rect x="470.25" y="249.75" width="23.50" height="24.45" fill="#dc8a1b" stroke="#b47116" stroke-width="0.7"/>
<line x1="482.00" y1="244.30" x2="482.00" y2="249.90" stroke="#262626" stroke-width="1.0"/>
<line x1="475.70" y1="244.30" x2="488.30" y2="244.30" stroke="#262626" stroke-width="1.1"/>
<text x="408.90" y="287.80" font-size="8.7" text-anchor="middle" fill="#1a1a1a" textLength="20.70" lengthAdjust="spacingAndGlyphs">None</text>
<text x="444.60" y="287.80" font-size="8.7" text-anchor="middle" fill="#1a1a1a" textLength="19.20" lengthAdjust="spacingAndGlyphs">AraC</text>
<text x="481.30" y="287.80" font-size="8.7" text-anchor="middle" fill="#1a1a1a" textLength="28.10" lengthAdjust="spacingAndGlyphs">AraC +</text>
<text x="480.30" y="296.80" font-size="8.7" text-anchor="middle" fill="#1a1a1a" textLength="17.90" lengthAdjust="spacingAndGlyphs">NAC</text>
<line x1="445.30" y1="211.70" x2="479.90" y2="211.70" stroke="#2e2e2e" stroke-width="1.0"/>
<text x="462.85" y="211.90" font-size="8.7" text-anchor="middle" fill="#1a1a1a">**</text>
<line x1="391.00" y1="323.00" x2="391.00" y2="404.00" stroke="#262626" stroke-width="1.4"/>
<line x1="387.80" y1="325.65" x2="391.00" y2="325.65" stroke="#262626" stroke-width="1.0"/>
<text x="384.80" y="328.54" font-size="8.4" text-anchor="end" fill="#1a1a1a">15</text>
<line x1="387.80" y1="351.60" x2="391.00" y2="351.60" stroke="#262626" stroke-width="1.0"/>
<text x="384.80" y="354.49" font-size="8.4" text-anchor="end" fill="#1a1a1a">10</text>
<line x1="387.80" y1="377.55" x2="391.00" y2="377.55" stroke="#262626" stroke-width="1.0"/>
<text x="384.80" y="380.44" font-size="8.4" text-anchor="end" fill="#1a1a1a">5</text>
<line x1="387.80" y1="403.50" x2="391.00" y2="403.50" stroke="#262626" stroke-width="1.0"/>
<text x="384.80" y="406.39" font-size="8.4" text-anchor="end" fill="#1a1a1a">0</text>
<text transform="translate(370.50,363.65) rotate(-90)" font-size="10.4" text-anchor="middle" fill="#1a1a1a" textLength="40.70" lengthAdjust="spacingAndGlyphs" style="stroke-width:0.08px">% apoptosis</text>
<line x1="390.50" y1="403.50" x2="504.90" y2="403.50" stroke="#262626" stroke-width="1.4"/>
<line x1="410.50" y1="403.50" x2="410.50" y2="406.50" stroke="#262626" stroke-width="1.0"/>
<line x1="449.90" y1="403.50" x2="449.90" y2="406.50" stroke="#262626" stroke-width="1.0"/>
<line x1="489.00" y1="403.50" x2="489.00" y2="406.50" stroke="#262626" stroke-width="1.0"/>
<rect x="398.05" y="392.65" width="24.90" height="10.85" fill="#4c5567" stroke="#3e4554" stroke-width="0.7"/>
<line x1="410.50" y1="388.10" x2="410.50" y2="392.80" stroke="#262626" stroke-width="1.0"/>
<line x1="404.10" y1="388.10" x2="416.90" y2="388.10" stroke="#262626" stroke-width="1.1"/>
<rect x="437.45" y="351.85" width="24.90" height="51.65" fill="#a3062b" stroke="#850423" stroke-width="0.7"/>
<line x1="449.90" y1="344.10" x2="449.90" y2="352.00" stroke="#262626" stroke-width="1.0"/>
<line x1="443.50" y1="344.10" x2="456.30" y2="344.10" stroke="#262626" stroke-width="1.1"/>
<rect x="476.55" y="368.45" width="24.90" height="35.05" fill="#dc8a1b" stroke="#b47116" stroke-width="0.7"/>
<line x1="489.00" y1="360.20" x2="489.00" y2="368.60" stroke="#262626" stroke-width="1.0"/>
<line x1="482.60" y1="360.20" x2="495.40" y2="360.20" stroke="#262626" stroke-width="1.1"/>
<text x="410.20" y="417.30" font-size="8.7" text-anchor="middle" fill="#1a1a1a" textLength="20.70" lengthAdjust="spacingAndGlyphs">None</text>
<text x="449.50" y="417.30" font-size="8.7" text-anchor="middle" fill="#1a1a1a" textLength="19.50" lengthAdjust="spacingAndGlyphs">AraC</text>
<text x="488.60" y="417.30" font-size="8.7" text-anchor="middle" fill="#1a1a1a" textLength="26.20" lengthAdjust="spacingAndGlyphs">AraC +</text>
<text x="487.30" y="426.90" font-size="8.7" text-anchor="middle" fill="#1a1a1a" textLength="18.20" lengthAdjust="spacingAndGlyphs">NAC</text>
<line x1="449.60" y1="339.30" x2="486.90" y2="339.30" stroke="#2e2e2e" stroke-width="1.0"/>
<text x="468.10" y="339.80" font-size="8.7" text-anchor="middle" fill="#1a1a1a">*</text>
<line x1="390.50" y1="452.00" x2="390.50" y2="533.40" stroke="#262626" stroke-width="1.4"/>
<line x1="387.30" y1="454.40" x2="390.50" y2="454.40" stroke="#262626" stroke-width="1.0"/>
<text x="384.30" y="457.29" font-size="8.4" text-anchor="end" fill="#1a1a1a">50</text>
<line x1="387.30" y1="470.10" x2="390.50" y2="470.10" stroke="#262626" stroke-width="1.0"/>
<text x="384.30" y="472.99" font-size="8.4" text-anchor="end" fill="#1a1a1a">40</text>
<line x1="387.30" y1="485.80" x2="390.50" y2="485.80" stroke="#262626" stroke-width="1.0"/>
<text x="384.30" y="488.69" font-size="8.4" text-anchor="end" fill="#1a1a1a">30</text>
<line x1="387.30" y1="501.50" x2="390.50" y2="501.50" stroke="#262626" stroke-width="1.0"/>
<text x="384.30" y="504.39" font-size="8.4" text-anchor="end" fill="#1a1a1a">20</text>
<line x1="387.30" y1="517.20" x2="390.50" y2="517.20" stroke="#262626" stroke-width="1.0"/>
<text x="384.30" y="520.09" font-size="8.4" text-anchor="end" fill="#1a1a1a">10</text>
<line x1="387.30" y1="532.90" x2="390.50" y2="532.90" stroke="#262626" stroke-width="1.0"/>
<text x="384.30" y="535.79" font-size="8.4" text-anchor="end" fill="#1a1a1a">0</text>
<text transform="translate(370.50,492.25) rotate(-90)" font-size="10.4" text-anchor="middle" fill="#1a1a1a" textLength="42.50" lengthAdjust="spacingAndGlyphs" style="stroke-width:0.08px">% cell death</text>
<line x1="390.00" y1="532.90" x2="505.20" y2="532.90" stroke="#262626" stroke-width="1.4"/>
<line x1="410.70" y1="532.90" x2="410.70" y2="535.90" stroke="#262626" stroke-width="1.0"/>
<line x1="449.85" y1="532.90" x2="449.85" y2="535.90" stroke="#262626" stroke-width="1.0"/>
<line x1="488.95" y1="532.90" x2="488.95" y2="535.90" stroke="#262626" stroke-width="1.0"/>
<rect x="398.25" y="508.15" width="24.90" height="24.75" fill="#4c5567" stroke="#3e4554" stroke-width="0.7"/>
<line x1="410.70" y1="496.60" x2="410.70" y2="508.30" stroke="#262626" stroke-width="1.0"/>
<line x1="404.30" y1="496.60" x2="417.10" y2="496.60" stroke="#262626" stroke-width="1.1"/>
<rect x="437.40" y="477.35" width="24.90" height="55.55" fill="#a3062b" stroke="#850423" stroke-width="0.7"/>
<line x1="449.85" y1="472.10" x2="449.85" y2="477.50" stroke="#262626" stroke-width="1.0"/>
<line x1="443.45" y1="472.10" x2="456.25" y2="472.10" stroke="#262626" stroke-width="1.1"/>
<rect x="476.50" y="485.05" width="24.90" height="47.85" fill="#dc8a1b" stroke="#b47116" stroke-width="0.7"/>
<line x1="488.95" y1="480.50" x2="488.95" y2="485.20" stroke="#262626" stroke-width="1.0"/>
<line x1="482.55" y1="480.50" x2="495.35" y2="480.50" stroke="#262626" stroke-width="1.1"/>
<text x="410.20" y="546.60" font-size="8.7" text-anchor="middle" fill="#1a1a1a" textLength="20.70" lengthAdjust="spacingAndGlyphs">None</text>
<text x="449.50" y="546.60" font-size="8.7" text-anchor="middle" fill="#1a1a1a" textLength="19.50" lengthAdjust="spacingAndGlyphs">AraC</text>
<text x="488.60" y="546.60" font-size="8.7" text-anchor="middle" fill="#1a1a1a" textLength="26.20" lengthAdjust="spacingAndGlyphs">AraC +</text>
<text x="487.30" y="556.20" font-size="8.7" text-anchor="middle" fill="#1a1a1a" textLength="18.20" lengthAdjust="spacingAndGlyphs">NAC</text>
<line x1="444.80" y1="468.50" x2="481.80" y2="468.50" stroke="#2e2e2e" stroke-width="1.0"/>
<text x="462.45" y="465.60" font-size="7.9" text-anchor="middle" fill="#1a1a1a" textLength="29.70" lengthAdjust="spacingAndGlyphs">p = 0.08</text>
<text x="52.10" y="317.00" font-size="8.7" text-anchor="middle" fill="#1a1a1a" textLength="11.50" lengthAdjust="spacingAndGlyphs">No</text>
<text x="51.10" y="327.90" font-size="8.7" text-anchor="middle" fill="#1a1a1a" textLength="53.70" lengthAdjust="spacingAndGlyphs">chemotherapy</text>
<text x="92.10" y="327.40" font-size="8.7" text-anchor="middle" fill="#1a1a1a" textLength="17.80" lengthAdjust="spacingAndGlyphs">DNR</text>
<text x="132.20" y="327.40" font-size="8.7" text-anchor="middle" fill="#1a1a1a" textLength="19.00" lengthAdjust="spacingAndGlyphs">AraC</text>
<text x="17.40" y="367.70" font-size="8.7" text-anchor="middle" fill="#1a1a1a" textLength="21.80" lengthAdjust="spacingAndGlyphs">Alone</text>
<text x="19.50" y="424.80" font-size="8.7" text-anchor="middle" fill="#1a1a1a" textLength="17.80" lengthAdjust="spacingAndGlyphs">With</text>
<text x="20.30" y="434.60" font-size="8.7" text-anchor="middle" fill="#1a1a1a" textLength="16.20" lengthAdjust="spacingAndGlyphs">NAC</text>
<defs><filter id="mb" color-interpolation-filters="sRGB" x="-5%" y="-5%" width="110%" height="110%"><feGaussianBlur stdDeviation="3"/></filter>
<filter id="tex" color-interpolation-filters="sRGB" x="0" y="0" width="100%" height="100%"><feTurbulence type="fractalNoise" baseFrequency="0.022" numOctaves="3" seed="11" result="n"/><feColorMatrix in="n" type="matrix" values="0 0 0 0 0  0 0 0 0 0  0 0 0 0 0  0 0 0 2.6 -0.55" result="a"/><feComposite in="SourceGraphic" in2="a" operator="in" result="t"/><feGaussianBlur in="t" stdDeviation="4"/></filter>
<clipPath id="c0"><rect x="31.8" y="331.6" width="38.50" height="63.00"/></clipPath>
<clipPath id="c1"><rect x="73.0" y="331.5" width="39.00" height="64.40"/></clipPath>
<clipPath id="c2"><rect x="114.6" y="331.3" width="40.20" height="64.40"/></clipPath>
<clipPath id="c3"><rect x="31.8" y="398.2" width="38.20" height="64.10"/></clipPath>
<clipPath id="c4"><rect x="72.7" y="398.1" width="39.00" height="64.70"/></clipPath>
<clipPath id="c5"><rect x="114.3" y="398.1" width="39.70" height="64.70"/></clipPath>
</defs>
<rect x="31.8" y="331.6" width="38.50" height="63.00" fill="#021a22"/>
<g clip-path="url(#c0)"><g transform="translate(31,331) scale(0.11494)" filter="url(#mb)">
<path d="M14.7 22.3 L23.9 25.5 L33.2 28.1 L42.4 30.3 L51.8 32.3 L59.9 34.1 L69.0 36.8 L78.1 39.3 L87.3 41.4 L96.6 43.3 L106.2 44.8 L115.7 45.9 L125.2 46.7 L134.8 47.3 L144.5 47.3 L145.5 42.7 L136.7 38.6 L127.8 35.0 L118.8 31.8 L109.8 28.8 L100.9 26.1 L91.8 23.4 L82.7 20.9 L73.5 18.8 L64.2 16.9 L53.6 16.1 L44.0 16.0 L34.5 16.1 L24.9 16.6 L15.3 17.7 Z" fill="#1a7a98" fill-opacity="0.6"/>
<path d="M14.9 20.9 L24.2 22.7 L33.6 24.4 L42.9 25.9 L52.3 27.3 L61.2 28.8 L70.3 31.2 L79.5 33.6 L88.7 35.8 L98.0 38.0 L107.3 39.8 L116.7 41.5 L126.0 43.1 L135.4 44.6 L144.8 45.9 L145.2 44.1 L136.1 41.3 L127.0 38.7 L117.9 36.2 L108.7 33.7 L99.6 31.4 L90.4 29.0 L81.3 26.6 L72.1 24.4 L62.8 22.2 L53.0 21.1 L43.5 20.4 L34.1 19.8 L24.6 19.3 L15.1 19.1 Z" fill="#2aa6c4" fill-opacity="0.85"/>
<path d="M29.5 41.8 L35.5 45.3 L41.6 48.4 L47.9 51.2 L54.1 53.9 L60.5 56.4 L66.9 58.6 L73.3 60.7 L79.4 62.5 L85.8 64.6 L92.4 66.4 L99.0 68.1 L105.7 69.6 L112.4 70.9 L119.4 71.7 L120.6 68.3 L114.9 64.3 L108.9 60.9 L102.9 57.6 L96.8 54.5 L90.7 51.6 L84.5 48.9 L77.6 46.6 L71.0 44.8 L64.5 43.1 L57.8 41.7 L51.1 40.5 L44.3 39.4 L37.5 38.6 L30.5 38.2 Z" fill="#1a7a98" fill-opacity="0.6"/>
<path d="M29.8 40.7 L36.1 43.2 L42.5 45.6 L48.9 47.9 L55.3 50.1 L61.7 52.3 L68.2 54.3 L74.7 56.3 L80.9 58.3 L87.3 60.6 L93.8 62.7 L100.2 64.9 L106.7 66.9 L113.2 68.9 L119.8 70.7 L120.2 69.3 L114.1 66.4 L107.9 63.6 L101.7 60.9 L95.5 58.2 L89.2 55.6 L82.9 53.1 L76.3 51.0 L69.8 49.0 L63.2 47.2 L56.7 45.5 L50.1 43.8 L43.5 42.2 L36.9 40.7 L30.2 39.3 Z" fill="#2aa6c4" fill-opacity="0.85"/>
<path d="M38.9 52.1 L53.2 61.6 L67.8 70.6 L82.5 79.3 L93.5 89.3 L105.6 101.3 L117.9 113.2 L130.3 124.8 L143.0 136.2 L154.2 147.9 L166.2 160.0 L178.4 172.0 L190.8 183.7 L207.5 192.8 L224.1 197.2 L225.9 192.8 L210.8 184.5 L199.6 175.7 L189.1 162.2 L178.3 149.0 L167.4 135.9 L155.6 122.5 L143.1 110.9 L130.4 99.4 L117.6 88.2 L104.6 77.2 L89.0 66.4 L73.2 59.9 L57.2 53.6 L41.1 47.9 Z" fill="#1a7a98" fill-opacity="0.6"/>
<path d="M39.6 50.8 L54.5 59.2 L69.5 67.3 L84.5 75.3 L96.9 85.6 L109.3 97.3 L121.8 108.9 L134.3 120.5 L146.9 132.0 L158.3 144.2 L170.0 156.6 L181.7 168.9 L193.5 181.2 L208.5 190.3 L224.7 195.8 L225.3 194.2 L209.8 187.1 L196.9 178.2 L185.8 165.2 L174.6 152.4 L163.3 139.6 L151.7 126.7 L139.1 115.2 L126.6 103.7 L113.9 92.3 L101.1 81.0 L87.0 70.4 L71.5 63.2 L56.0 56.1 L40.4 49.2 Z" fill="#2aa6c4" fill-opacity="0.85"/>
<path d="M213.2 199.7 L208.6 217.1 L204.5 234.6 L200.6 252.1 L196.2 268.9 L191.3 286.2 L186.7 303.5 L182.6 317.5 L171.5 331.6 L160.5 345.8 L149.8 360.1 L138.4 372.1 L125.1 384.0 L111.8 396.1 L98.9 408.6 L101.1 411.4 L116.2 401.5 L130.9 391.3 L145.5 380.8 L159.7 368.0 L171.3 354.4 L182.8 340.6 L194.1 326.7 L200.7 307.0 L204.7 289.5 L208.6 272.0 L211.7 253.9 L213.7 236.1 L215.5 218.2 L216.8 200.3 Z" fill="#1a7a98" fill-opacity="0.6"/>
<path d="M214.3 199.9 L210.7 217.4 L207.4 235.0 L204.1 252.6 L200.0 269.9 L195.5 287.2 L191.0 304.6 L186.1 320.4 L175.0 334.4 L163.9 348.4 L152.9 362.5 L140.6 374.8 L126.9 386.2 L113.2 397.8 L99.6 409.5 L100.4 410.5 L114.8 399.9 L129.1 389.0 L143.3 378.1 L156.6 365.6 L168.0 351.7 L179.3 337.8 L190.5 323.9 L196.4 305.9 L200.6 288.5 L204.7 271.1 L208.3 253.3 L210.9 235.6 L213.4 217.9 L215.7 200.1 Z" fill="#2aa6c4" fill-opacity="0.85"/>
<path d="M47.9 79.7 L44.5 90.9 L41.7 102.1 L39.1 113.4 L36.7 124.7 L34.6 136.0 L33.2 147.9 L32.3 159.4 L31.6 170.9 L31.3 182.4 L31.1 193.9 L30.8 204.9 L30.1 216.4 L29.8 228.0 L29.9 239.7 L34.1 240.3 L37.7 229.2 L40.7 218.0 L43.5 206.8 L45.6 194.9 L47.0 183.5 L48.2 172.0 L49.0 160.5 L49.7 149.0 L50.2 138.1 L51.1 126.6 L51.8 115.1 L52.2 103.5 L52.4 91.9 L52.1 80.3 Z" fill="#1a7a98" fill-opacity="0.6"/>
<path d="M49.2 79.9 L47.0 91.2 L44.9 102.5 L43.0 113.9 L41.2 125.3 L39.4 136.6 L38.3 148.3 L37.5 159.8 L36.8 171.3 L36.1 182.7 L35.6 194.2 L34.7 205.5 L33.4 216.9 L32.2 228.4 L31.2 239.9 L32.8 240.1 L35.2 228.8 L37.4 217.5 L39.5 206.2 L41.1 194.6 L42.1 183.1 L43.0 171.7 L43.9 160.2 L44.6 148.7 L45.4 137.4 L46.7 126.0 L47.9 114.5 L49.0 103.1 L50.0 91.6 L50.8 80.1 Z" fill="#2aa6c4" fill-opacity="0.85"/>
<path d="M303.0 14.5 L299.6 21.0 L296.8 27.6 L294.2 34.2 L291.8 40.8 L289.7 47.6 L287.8 54.3 L286.1 60.5 L284.2 67.3 L282.5 74.1 L281.1 81.0 L279.9 88.0 L278.9 95.0 L278.2 102.1 L278.0 109.4 L282.0 110.6 L285.8 104.4 L289.1 98.1 L292.2 91.7 L295.0 85.2 L297.7 78.6 L300.0 72.0 L302.2 65.3 L303.9 57.9 L305.1 51.0 L306.0 44.0 L306.7 37.0 L307.2 29.9 L307.4 22.7 L307.0 15.5 Z" fill="#1a7a98" fill-opacity="0.6"/>
<path d="M304.2 14.8 L302.0 21.5 L300.0 28.3 L298.0 35.0 L296.2 41.8 L294.4 48.6 L292.8 55.4 L291.1 62.0 L289.1 68.7 L287.2 75.5 L285.4 82.3 L283.7 89.1 L282.1 96.0 L280.6 102.8 L279.2 109.8 L280.8 110.2 L283.5 103.7 L286.0 97.1 L288.4 90.5 L290.7 83.9 L293.0 77.2 L295.1 70.6 L297.2 63.8 L298.9 56.8 L300.3 49.9 L301.6 43.0 L302.8 36.1 L303.9 29.1 L305.0 22.2 L305.8 15.2 Z" fill="#2aa6c4" fill-opacity="0.85"/>
<path d="M318.5 20.4 L317.8 23.6 L317.6 26.7 L317.5 29.7 L317.6 32.8 L317.8 35.7 L318.3 38.6 L318.9 41.5 L319.7 44.4 L320.7 47.2 L321.9 49.9 L323.2 52.6 L324.7 55.3 L326.4 57.9 L328.5 60.4 L331.5 59.6 L332.2 56.4 L332.4 53.3 L332.5 50.3 L332.4 47.2 L332.2 44.3 L331.7 41.4 L331.1 38.5 L330.3 35.6 L329.3 32.8 L328.1 30.1 L326.8 27.4 L325.3 24.7 L323.6 22.1 L321.5 19.6 Z" fill="#1a7a98" fill-opacity="0.6"/>
<path d="M319.4 20.1 L319.6 23.1 L320.0 26.1 L320.4 29.0 L320.8 31.9 L321.4 34.8 L322.0 37.7 L322.7 40.6 L323.4 43.4 L324.2 46.3 L325.1 49.1 L326.1 51.9 L327.1 54.7 L328.2 57.4 L329.4 60.1 L330.6 59.9 L330.4 56.9 L330.0 53.9 L329.6 51.0 L329.2 48.1 L328.6 45.2 L328.0 42.3 L327.3 39.4 L326.6 36.6 L325.8 33.7 L324.9 30.9 L323.9 28.1 L322.9 25.3 L321.8 22.6 L320.6 19.9 Z" fill="#2aa6c4" fill-opacity="0.85"/>
<path d="M328.3 213.3 L318.4 220.3 L308.9 227.6 L299.6 235.2 L290.5 243.0 L281.5 250.9 L272.8 259.1 L264.2 267.4 L255.9 275.9 L246.9 286.0 L240.7 296.2 L234.6 306.5 L228.8 317.0 L223.2 327.6 L218.1 338.6 L221.9 341.4 L230.5 332.8 L238.6 323.9 L246.4 314.8 L254.1 305.6 L261.5 296.2 L269.1 289.1 L277.6 280.8 L285.9 272.2 L294.1 263.5 L302.0 254.5 L309.8 245.4 L317.4 236.1 L324.7 226.6 L331.7 216.7 Z" fill="#1a7a98" fill-opacity="0.6"/>
<path d="M329.4 214.4 L320.4 222.2 L311.5 230.3 L302.7 238.4 L294.0 246.6 L285.4 254.8 L276.9 263.1 L268.4 271.5 L260.0 280.0 L251.5 289.2 L244.8 299.1 L238.3 309.1 L231.8 319.1 L225.4 329.2 L219.3 339.5 L220.7 340.5 L228.2 331.2 L235.6 321.8 L242.8 312.2 L249.9 302.7 L257.0 293.1 L265.0 285.0 L273.5 276.6 L281.9 268.1 L290.2 259.6 L298.4 251.0 L306.6 242.3 L314.7 233.5 L322.8 224.6 L330.6 215.6 Z" fill="#2aa6c4" fill-opacity="0.85"/>
<path d="M263.0 299.3 L256.4 313.2 L250.3 327.3 L244.4 341.5 L238.8 355.7 L233.3 370.0 L228.1 384.4 L222.1 397.1 L215.3 410.8 L208.8 424.7 L202.4 439.7 L198.4 454.5 L194.6 469.3 L191.0 484.2 L188.0 499.3 L192.0 500.7 L198.6 486.8 L204.7 472.7 L210.6 458.5 L216.2 444.3 L223.0 431.7 L230.1 418.2 L237.1 404.6 L243.8 389.6 L248.3 375.0 L252.6 360.3 L256.6 345.5 L260.4 330.7 L264.0 315.8 L267.0 300.7 Z" fill="#1a7a98" fill-opacity="0.6"/>
<path d="M264.2 299.7 L258.7 314.0 L253.4 328.4 L248.2 342.7 L243.0 357.1 L238.0 371.6 L233.0 386.0 L226.7 399.4 L219.9 413.1 L213.2 426.9 L206.7 441.1 L202.2 455.7 L197.7 470.4 L193.4 485.0 L189.2 499.7 L190.8 500.3 L196.3 486.0 L201.6 471.6 L206.8 457.3 L212.0 442.9 L218.6 429.5 L225.6 415.9 L232.4 402.3 L239.0 388.0 L243.7 373.5 L248.3 358.9 L252.8 344.3 L257.3 329.6 L261.6 315.0 L265.8 300.3 Z" fill="#2aa6c4" fill-opacity="0.85"/>
<path d="M42.0 395.8 L40.2 400.2 L39.3 404.3 L38.7 408.4 L38.5 412.3 L38.6 416.1 L39.1 419.9 L40.0 424.0 L41.4 427.5 L43.0 430.9 L45.1 434.1 L47.4 437.3 L50.1 440.3 L53.2 443.3 L57.0 446.0 L63.0 444.0 L64.6 439.6 L65.3 435.5 L65.8 431.4 L65.8 427.5 L65.6 423.6 L65.0 419.9 L64.0 416.3 L63.0 413.2 L61.4 409.8 L59.5 406.4 L57.3 403.2 L54.7 400.0 L51.8 397.0 L48.0 394.2 Z" fill="#2ab2c8" fill-opacity="0.6"/>
<path d="M43.8 395.3 L43.8 399.2 L44.1 403.0 L44.5 406.8 L45.0 410.5 L45.7 414.2 L46.5 417.8 L47.5 421.6 L48.7 425.1 L50.0 428.6 L51.5 432.1 L53.1 435.5 L54.8 438.8 L56.7 442.1 L58.9 445.4 L61.1 444.6 L61.0 440.8 L60.6 437.0 L60.1 433.2 L59.4 429.5 L58.6 425.9 L57.7 422.2 L56.6 418.7 L55.6 415.3 L54.4 411.7 L53.0 408.2 L51.5 404.8 L49.9 401.4 L48.2 398.0 L46.2 394.7 Z" fill="#4cd2e4" fill-opacity="0.85"/>
<path d="M168.0 384.4 L164.4 389.9 L161.4 395.5 L158.7 401.2 L156.1 407.0 L153.8 412.8 L151.7 419.4 L150.3 425.5 L149.2 431.7 L148.4 437.8 L147.8 444.1 L147.4 450.4 L147.2 456.7 L147.3 463.1 L147.9 469.6 L152.1 470.4 L155.1 464.7 L157.7 458.8 L160.0 452.9 L162.0 446.9 L163.9 440.9 L165.5 434.9 L166.8 428.8 L167.9 422.7 L169.0 417.2 L170.1 411.0 L171.0 404.8 L171.7 398.5 L172.1 392.1 L172.0 385.6 Z" fill="#1a7a98" fill-opacity="0.6"/>
<path d="M169.2 384.8 L166.8 390.6 L164.6 396.4 L162.5 402.3 L160.5 408.2 L158.5 414.2 L156.7 420.4 L155.4 426.5 L154.3 432.7 L153.2 438.8 L152.2 445.0 L151.3 451.2 L150.5 457.4 L149.7 463.6 L149.2 469.8 L150.8 470.2 L152.7 464.2 L154.4 458.2 L156.1 452.1 L157.6 446.1 L159.1 440.0 L160.4 433.9 L161.7 427.8 L162.9 421.7 L164.3 415.8 L165.8 409.8 L167.2 403.7 L168.5 397.6 L169.7 391.4 L170.8 385.2 Z" fill="#2aa6c4" fill-opacity="0.85"/>
<path d="M14.5 507.6 L22.9 511.7 L31.6 515.1 L40.2 518.2 L48.9 521.1 L57.7 523.6 L66.5 525.9 L75.4 527.8 L84.4 529.4 L93.4 530.7 L102.5 531.8 L111.6 532.5 L120.8 533.0 L130.1 533.1 L139.5 532.6 L140.5 527.4 L132.1 523.3 L123.4 519.9 L114.8 516.8 L106.1 513.9 L97.3 511.4 L88.5 509.1 L79.6 507.2 L70.6 505.6 L61.6 504.3 L52.5 503.2 L43.4 502.5 L34.2 502.0 L24.9 501.9 L15.5 502.4 Z" fill="#1a7a98" fill-opacity="0.6"/>
<path d="M14.8 506.0 L23.6 508.7 L32.4 511.1 L41.2 513.4 L50.0 515.5 L58.9 517.6 L67.8 519.6 L76.7 521.4 L85.7 523.1 L94.6 524.8 L103.6 526.3 L112.6 527.6 L121.6 528.9 L130.7 530.1 L139.8 531.0 L140.2 529.0 L131.4 526.3 L122.6 523.9 L113.8 521.6 L105.0 519.5 L96.1 517.4 L87.2 515.4 L78.3 513.6 L69.3 511.9 L60.4 510.2 L51.4 508.7 L42.4 507.4 L33.4 506.1 L24.3 504.9 L15.2 504.0 Z" fill="#2aa6c4" fill-opacity="0.85"/>
<path d="M318.7 458.3 L306.7 465.0 L294.9 472.1 L283.3 479.5 L273.1 484.8 L260.1 489.0 L247.1 493.5 L234.3 498.2 L221.5 503.1 L208.9 508.2 L195.6 514.0 L183.8 520.9 L172.1 528.0 L160.4 535.3 L149.1 543.1 L150.9 546.9 L164.0 542.5 L176.8 537.5 L189.5 532.4 L202.2 527.1 L214.4 523.0 L227.3 518.6 L240.2 513.9 L252.9 509.0 L265.6 503.8 L278.2 498.5 L291.0 489.7 L301.3 480.7 L311.5 471.4 L321.3 461.7 Z" fill="#1a7a98" fill-opacity="0.6"/>
<path d="M319.5 459.4 L308.2 467.0 L296.9 474.8 L285.7 482.6 L274.7 489.0 L261.8 493.6 L248.9 498.3 L236.1 503.0 L223.3 507.9 L210.6 512.8 L197.7 518.1 L185.6 524.5 L173.5 531.0 L161.5 537.5 L149.6 544.3 L150.4 545.7 L162.9 540.2 L175.4 534.6 L187.8 528.9 L200.1 523.0 L212.7 518.5 L225.5 513.8 L238.4 509.0 L251.1 504.2 L263.9 499.3 L276.6 494.2 L288.7 486.6 L299.4 478.0 L310.0 469.4 L320.5 460.6 Z" fill="#2aa6c4" fill-opacity="0.85"/>
<path d="M100.5 406.5 L106.0 406.2 L111.3 405.4 L116.6 404.5 L121.9 403.5 L127.1 402.2 L132.4 400.7 L137.4 399.0 L142.3 397.0 L147.2 394.9 L152.0 392.6 L156.8 390.1 L161.5 387.5 L166.1 384.7 L170.6 381.5 L169.4 378.5 L164.0 379.1 L158.7 380.0 L153.4 381.1 L148.2 382.3 L143.1 383.8 L138.0 385.4 L133.0 387.2 L128.0 389.1 L123.3 391.0 L118.4 393.1 L113.6 395.4 L108.8 397.8 L104.1 400.5 L99.5 403.5 Z" fill="#1a7a98" fill-opacity="0.6"/>
<path d="M100.2 405.6 L105.4 404.4 L110.6 403.1 L115.7 401.7 L120.8 400.3 L125.9 398.7 L131.1 397.1 L136.0 395.3 L141.0 393.4 L145.9 391.4 L150.8 389.4 L155.7 387.3 L160.6 385.2 L165.4 382.9 L170.2 380.6 L169.8 379.4 L164.6 380.8 L159.5 382.3 L154.4 383.9 L149.4 385.5 L144.3 387.2 L139.3 389.0 L134.4 390.8 L129.4 392.7 L124.5 394.5 L119.5 396.3 L114.5 398.2 L109.6 400.2 L104.7 402.2 L99.8 404.4 Z" fill="#2aa6c4" fill-opacity="0.85"/>
<path d="M268.5 249.4 L265.0 254.6 L261.8 259.9 L258.7 265.2 L255.9 270.6 L253.2 276.1 L250.6 281.7 L248.3 287.3 L246.1 293.0 L244.0 299.2 L242.5 305.1 L241.2 311.1 L240.1 317.2 L239.1 323.3 L238.5 329.5 L241.5 330.5 L244.8 325.2 L247.7 319.7 L250.4 314.1 L252.9 308.6 L255.3 302.9 L257.6 297.7 L260.0 292.0 L262.2 286.3 L264.2 280.5 L266.0 274.7 L267.7 268.8 L269.2 262.8 L270.5 256.8 L271.5 250.6 Z" fill="#1a7a98" fill-opacity="0.6"/>
<path d="M269.4 249.8 L266.7 255.2 L264.1 260.8 L261.5 266.3 L259.0 271.9 L256.6 277.5 L254.2 283.1 L251.9 288.8 L249.7 294.5 L247.5 300.3 L245.8 306.2 L244.1 312.0 L242.4 317.9 L240.8 323.8 L239.4 329.8 L240.6 330.2 L243.0 324.6 L245.3 318.9 L247.5 313.2 L249.7 307.5 L251.8 301.8 L254.1 296.2 L256.4 290.6 L258.6 284.9 L260.8 279.2 L262.9 273.4 L264.9 267.7 L266.9 261.9 L268.8 256.1 L270.6 250.2 Z" fill="#2aa6c4" fill-opacity="0.85"/>
<ellipse cx="215" cy="198" rx="12" ry="14" fill="#62e6ee"/>
<ellipse cx="50" cy="412" rx="8" ry="14" fill="#38c4cf"/>
<ellipse cx="65" cy="25" rx="22" ry="11" transform="rotate(14 65 25)" fill="#26a6c4" fill-opacity="0.5"/>
<ellipse cx="65" cy="25" rx="13.0" ry="9.0" transform="rotate(14 65 25)" fill="#1a4ef5"/>
<ellipse cx="80" cy="58" rx="22" ry="11" transform="rotate(21 80 58)" fill="#26a6c4" fill-opacity="0.5"/>
<ellipse cx="80" cy="58" rx="13.0" ry="9.0" transform="rotate(21 80 58)" fill="#1a4ef5"/>
<ellipse cx="150" cy="128" rx="22" ry="11" transform="rotate(43 150 128)" fill="#26a6c4" fill-opacity="0.5"/>
<ellipse cx="150" cy="128" rx="13.0" ry="9.0" transform="rotate(43 150 128)" fill="#1a4ef5"/>
<ellipse cx="40" cy="200" rx="22" ry="11" transform="rotate(94 40 200)" fill="#26a6c4" fill-opacity="0.5"/>
<ellipse cx="40" cy="200" rx="13.0" ry="9.0" transform="rotate(94 40 200)" fill="#1a4ef5"/>
<ellipse cx="295" cy="35" rx="22" ry="11" transform="rotate(103 295 35)" fill="#26a6c4" fill-opacity="0.5"/>
<ellipse cx="295" cy="35" rx="13.0" ry="9.0" transform="rotate(103 295 35)" fill="#1a4ef5"/>
<ellipse cx="270" cy="272" rx="22" ry="11" transform="rotate(135 270 272)" fill="#26a6c4" fill-opacity="0.5"/>
<ellipse cx="270" cy="272" rx="13.0" ry="9.0" transform="rotate(135 270 272)" fill="#1a4ef5"/>
<ellipse cx="300" cy="262" rx="22" ry="11" transform="rotate(135 300 262)" fill="#26a6c4" fill-opacity="0.5"/>
<ellipse cx="300" cy="262" rx="13.0" ry="9.0" transform="rotate(135 300 262)" fill="#1a4ef5"/>
<ellipse cx="235" cy="390" rx="22" ry="11" transform="rotate(108 235 390)" fill="#26a6c4" fill-opacity="0.5"/>
<ellipse cx="235" cy="390" rx="13.0" ry="9.0" transform="rotate(108 235 390)" fill="#1a4ef5"/>
<ellipse cx="55" cy="430" rx="22" ry="11" transform="rotate(72 55 430)" fill="#26a6c4" fill-opacity="0.5"/>
<ellipse cx="55" cy="430" rx="13.0" ry="9.0" transform="rotate(72 55 430)" fill="#1a4ef5"/>
<ellipse cx="158" cy="420" rx="22" ry="11" transform="rotate(101 158 420)" fill="#26a6c4" fill-opacity="0.5"/>
<ellipse cx="158" cy="420" rx="13.0" ry="9.0" transform="rotate(101 158 420)" fill="#1a4ef5"/>
<ellipse cx="70" cy="515" rx="22" ry="11" transform="rotate(11 70 515)" fill="#26a6c4" fill-opacity="0.5"/>
<ellipse cx="70" cy="515" rx="13.0" ry="9.0" transform="rotate(11 70 515)" fill="#1a4ef5"/>
<ellipse cx="200" cy="490" rx="22" ry="11" transform="rotate(108 200 490)" fill="#26a6c4" fill-opacity="0.5"/>
<ellipse cx="200" cy="490" rx="13.0" ry="9.0" transform="rotate(108 200 490)" fill="#1a4ef5"/>
<ellipse cx="250" cy="540" rx="22" ry="11" transform="rotate(159 250 540)" fill="#26a6c4" fill-opacity="0.5"/>
<ellipse cx="250" cy="540" rx="13.0" ry="9.0" transform="rotate(159 250 540)" fill="#1a4ef5"/>
<ellipse cx="40" cy="150" rx="22" ry="11" transform="rotate(94 40 150)" fill="#26a6c4" fill-opacity="0.5"/>
<ellipse cx="40" cy="150" rx="13.0" ry="9.0" transform="rotate(94 40 150)" fill="#1a4ef5"/>
</g></g>
<rect x="32.05" y="331.85" width="38.00" height="62.50" fill="none" stroke="#000" stroke-width="0.5" stroke-opacity="0.6"/>
<rect x="73.0" y="331.5" width="39.00" height="64.40" fill="#01141a"/>
<g clip-path="url(#c1)"><g transform="translate(72,331) scale(0.11521)" filter="url(#mb)">
<g filter="url(#tex)">
<polygon points="40,15 75,20 105,55 175,55 150,110 128,140 140,200 120,230 150,258 200,268 262,258 292,228 302,262 272,300 232,322 222,360 232,400 252,440 242,480 200,492 160,472 120,462 90,482 40,502 18,482 8,420 8,262 28,232 58,202 38,120" fill="#0a5a66" fill-opacity="1"/>
</g>
<polygon points="73.3,96.5 58.7,90.9 47.6,80.5 21.2,74.1 34.4,51.2 35.4,33.1 49.0,29.8 61.5,25.5 72.2,39.8 95.9,46.9 80.3,67.0 79.9,81.8" fill="#0e7e92" fill-opacity="0.55" stroke="#34cde0" stroke-width="5" stroke-opacity="0.7" stroke-linejoin="round"/>
<polygon points="86.0,109.7 75.2,103.7 95.5,88.0 109.4,71.7 131.6,65.5 173.1,40.5 154.4,70.1 162.2,77.1 167.4,93.9 130.9,108.8 109.3,112.6 85.8,121.9" fill="#0e7e92" fill-opacity="0.55" stroke="#34cde0" stroke-width="5" stroke-opacity="0.7" stroke-linejoin="round"/>
<polygon points="105.7,192.6 94.3,202.0 84.5,183.0 62.9,166.5 81.3,146.3 79.8,121.7 87.7,90.0 104.5,126.8 118.6,132.3 128.2,155.0 122.6,176.5 115.7,189.9" fill="#0e7e92" fill-opacity="0.55" stroke="#34cde0" stroke-width="5" stroke-opacity="0.7" stroke-linejoin="round"/>
<polygon points="99.2,264.8 85.9,268.9 66.3,283.8 52.5,244.7 41.3,226.9 32.1,206.1 16.9,166.7 54.4,191.7 72.1,198.6 83.5,218.7 92.9,232.4 94.7,245.6" fill="#0e7e92" fill-opacity="0.55" stroke="#34cde0" stroke-width="5" stroke-opacity="0.7" stroke-linejoin="round"/>
<polygon points="182.3,245.4 171.9,253.2 153.9,254.9 134.8,244.2 114.8,239.6 75.1,225.6 100.3,215.5 117.8,213.8 116.9,188.5 147.1,210.6 167.2,219.6 172.4,232.2" fill="#0e7e92" fill-opacity="0.55" stroke="#34cde0" stroke-width="5" stroke-opacity="0.7" stroke-linejoin="round"/>
<polygon points="63.9,300.0 70.8,331.4 55.1,358.0 30.0,340.4 17.1,329.7 11.1,314.5 5.2,300.0 2.2,278.6 18.9,274.3 30.0,255.1 42.2,271.9 50.6,284.2" fill="#0e7e92" fill-opacity="0.55" stroke="#34cde0" stroke-width="5" stroke-opacity="0.7" stroke-linejoin="round"/>
<polygon points="151.8,310.9 159.8,332.1 107.3,319.4 85.7,324.5 56.1,318.2 55.4,302.8 36.7,290.6 41.4,277.7 50.7,256.0 94.6,273.9 114.9,286.6 130.4,296.7" fill="#0e7e92" fill-opacity="0.55" stroke="#34cde0" stroke-width="5" stroke-opacity="0.7" stroke-linejoin="round"/>
<polygon points="135.4,316.2 138.2,304.2 154.5,292.0 168.4,268.1 197.1,273.4 220.7,272.3 221.4,284.9 212.2,296.8 204.0,307.5 185.5,315.1 155.2,338.6 148.5,321.5" fill="#0e7e92" fill-opacity="0.55" stroke="#34cde0" stroke-width="5" stroke-opacity="0.7" stroke-linejoin="round"/>
<polygon points="180.0,314.7 205.3,289.6 214.7,276.5 232.2,266.5 249.5,256.5 277.3,243.2 272.8,261.1 269.1,272.0 265.2,283.5 249.3,296.1 232.3,299.0 217.2,302.5" fill="#0e7e92" fill-opacity="0.55" stroke="#34cde0" stroke-width="5" stroke-opacity="0.7" stroke-linejoin="round"/>
<polygon points="168.5,391.3 145.4,395.8 128.5,403.3 101.2,394.1 50.0,392.9 71.0,367.3 56.5,350.5 48.1,324.8 88.7,331.7 121.7,337.9 146.3,356.2 168.2,374.0" fill="#0e7e92" fill-opacity="0.55" stroke="#34cde0" stroke-width="5" stroke-opacity="0.7" stroke-linejoin="round"/>
<polygon points="224.7,440.1 195.4,418.7 177.6,413.3 167.7,392.9 157.1,374.5 161.0,357.3 153.3,316.4 184.9,344.0 198.3,357.8 207.9,369.7 220.4,385.1 216.6,400.8" fill="#36c8d6" fill-opacity="0.55" stroke="#66e8ee" stroke-width="5" stroke-opacity="0.7" stroke-linejoin="round"/>
<polygon points="70.5,448.8 56.4,480.6 45.6,442.7 37.2,428.3 35.1,412.1 32.5,391.0 49.8,392.1 61.8,389.7 86.0,379.1 89.0,409.4 90.1,429.6 85.9,447.4" fill="#0e7e92" fill-opacity="0.55" stroke="#34cde0" stroke-width="5" stroke-opacity="0.7" stroke-linejoin="round"/>
<polygon points="104.2,443.0 88.6,433.5 105.9,417.0 124.6,387.8 156.2,400.9 179.9,400.9 175.1,417.2 203.2,425.7 174.2,443.0 147.9,451.8 127.8,451.9 103.7,456.5" fill="#0e7e92" fill-opacity="0.55" stroke="#34cde0" stroke-width="5" stroke-opacity="0.7" stroke-linejoin="round"/>
<polygon points="220.0,472.5 202.9,494.3 187.1,478.5 200.6,450.0 200.1,432.8 211.2,427.1 220.0,427.2 227.3,431.1 234.4,437.6 238.8,450.0 239.8,467.2 228.3,471.7" fill="#0e7e92" fill-opacity="0.55" stroke="#34cde0" stroke-width="5" stroke-opacity="0.7" stroke-linejoin="round"/>
<polygon points="225.5,524.8 209.9,528.7 206.6,540.9 165.2,542.5 139.5,523.3 116.0,514.0 124.0,506.9 137.4,503.8 149.2,500.3 172.9,498.7 196.7,507.7 208.1,515.7" fill="#36c8d6" fill-opacity="0.55" stroke="#66e8ee" stroke-width="5" stroke-opacity="0.7" stroke-linejoin="round"/>
<polygon points="290.4,222.1 286.2,220.4 272.2,223.3 300.6,175.6 315.0,147.9 323.7,141.3 336.6,122.9 331.2,144.0 329.2,158.0 326.7,187.8 306.3,203.4 293.2,227.6" fill="#0e7e92" fill-opacity="0.55" stroke="#34cde0" stroke-width="5" stroke-opacity="0.7" stroke-linejoin="round"/>
<polygon points="351.9,361.9 340.5,357.4 328.4,351.3 312.2,337.8 301.6,322.7 288.6,306.5 296.8,306.8 296.1,298.0 312.8,311.7 325.9,324.1 348.6,341.3 372.8,369.5" fill="#0e7e92" fill-opacity="0.55" stroke="#34cde0" stroke-width="5" stroke-opacity="0.7" stroke-linejoin="round"/>
<polygon points="70.3,500.0 55.1,513.1 49.2,523.9 40.0,526.3 32.5,519.4 22.2,515.5 5.4,500.0 22.1,484.5 31.0,476.7 40.0,474.0 50.7,472.2 53.8,488.1" fill="#0e7e92" fill-opacity="0.55" stroke="#34cde0" stroke-width="5" stroke-opacity="0.7" stroke-linejoin="round"/>
<polygon points="67.1,120.0 56.5,137.1 49.7,150.2 40.0,164.9 21.1,179.1 16.3,144.6 16.6,120.0 24.3,103.7 30.6,90.8 40.0,40.1 51.5,84.1 59.6,99.6" fill="#0e7e92" fill-opacity="0.55" stroke="#34cde0" stroke-width="5" stroke-opacity="0.7" stroke-linejoin="round"/>
<polygon points="147.6,161.6 144.3,156.9 144.9,147.1 149.1,133.7 158.4,121.0 172.4,99.3 174.7,114.5 176.7,122.1 179.0,131.0 178.1,150.4 161.2,155.0 153.3,161.8" fill="#0e7e92" fill-opacity="0.55" stroke="#34cde0" stroke-width="5" stroke-opacity="0.7" stroke-linejoin="round"/>
<path d="M38.0 30.5 L39.8 47.7 L42.3 64.7 L44.9 81.8 L47.8 98.8 L51.0 115.7 L56.1 133.2 L62.1 149.4 L68.2 165.5 L74.6 181.4 L81.2 197.3 L87.6 213.1 L94.1 229.0 L100.8 244.9 L108.0 260.7 L112.0 259.3 L108.3 242.4 L104.2 225.7 L99.8 209.0 L94.9 192.2 L89.4 175.9 L83.7 159.7 L77.8 143.5 L71.6 127.4 L66.4 112.3 L62.0 95.6 L57.5 79.0 L52.7 62.4 L47.6 45.9 L42.0 29.5 Z" fill="#2ab2c8" fill-opacity="0.6"/>
<path d="M39.2 30.2 L42.2 47.1 L45.5 64.0 L48.8 80.9 L52.2 97.8 L55.7 114.6 L60.9 131.4 L66.9 147.6 L73.0 163.7 L79.2 179.7 L85.4 195.8 L91.4 211.8 L97.2 228.0 L103.1 244.2 L109.2 260.3 L110.8 259.7 L106.0 243.2 L101.0 226.7 L96.0 210.3 L90.6 193.8 L84.8 177.6 L78.9 161.5 L72.9 145.3 L66.8 129.2 L61.6 113.3 L57.6 96.6 L53.6 79.9 L49.4 63.2 L45.2 46.5 L40.8 29.8 Z" fill="#4cd2e4" fill-opacity="0.85"/>
<path d="M148.2 59.0 L142.9 64.5 L138.2 70.3 L133.7 76.2 L129.4 82.2 L125.2 88.3 L121.3 94.6 L117.7 100.9 L114.2 107.4 L111.0 114.0 L107.9 120.8 L105.1 127.6 L102.5 134.6 L100.1 141.6 L98.2 149.0 L101.8 151.0 L107.1 145.5 L111.8 139.7 L116.3 133.8 L120.6 127.8 L124.8 121.7 L128.7 115.4 L132.3 109.1 L135.8 102.6 L139.0 96.0 L142.1 89.2 L144.9 82.4 L147.5 75.4 L149.9 68.4 L151.8 61.0 Z" fill="#2ab2c8" fill-opacity="0.6"/>
<path d="M149.3 59.6 L145.1 65.7 L141.1 71.9 L137.1 78.1 L133.3 84.4 L129.5 90.7 L125.8 97.0 L122.2 103.4 L118.7 109.9 L115.2 116.4 L111.9 122.9 L108.6 129.5 L105.4 136.2 L102.2 142.8 L99.3 149.6 L100.7 150.4 L104.9 144.3 L108.9 138.1 L112.9 131.9 L116.7 125.6 L120.5 119.3 L124.2 113.0 L127.8 106.6 L131.3 100.1 L134.8 93.6 L138.1 87.1 L141.4 80.5 L144.6 73.8 L147.8 67.2 L150.7 60.4 Z" fill="#4cd2e4" fill-opacity="0.85"/>
<path d="M19.4 272.0 L32.9 278.0 L46.5 283.5 L60.2 288.8 L74.0 293.8 L87.8 298.6 L101.7 303.2 L115.7 307.5 L133.4 307.0 L148.0 305.1 L162.5 303.1 L176.9 300.8 L191.4 298.2 L205.8 295.4 L220.2 292.1 L219.8 287.9 L205.0 287.5 L190.3 287.6 L175.7 288.0 L161.0 288.6 L146.4 289.4 L131.8 290.5 L120.5 291.4 L106.5 287.3 L92.4 283.5 L78.2 279.9 L63.9 276.5 L49.6 273.3 L35.2 270.4 L20.6 268.0 Z" fill="#2ab2c8" fill-opacity="0.6"/>
<path d="M19.8 270.8 L33.6 275.7 L47.5 280.4 L61.4 285.0 L75.3 289.5 L89.2 293.9 L103.2 298.3 L117.2 302.5 L132.9 301.9 L147.5 300.3 L162.0 298.6 L176.6 296.8 L191.1 294.9 L205.6 293.0 L220.1 290.8 L219.9 289.2 L205.3 289.9 L190.7 290.9 L176.1 291.9 L161.5 293.1 L146.9 294.3 L132.3 295.6 L119.0 296.4 L105.0 292.2 L91.0 288.1 L76.9 284.2 L62.8 280.3 L48.6 276.5 L34.5 272.7 L20.2 269.2 Z" fill="#4cd2e4" fill-opacity="0.85"/>
<path d="M60.5 352.0 L71.3 351.3 L82.0 350.0 L92.6 348.5 L103.2 346.7 L113.7 344.7 L124.2 342.5 L134.6 340.0 L146.4 336.1 L155.8 330.9 L165.0 325.6 L174.2 320.1 L183.3 314.3 L192.2 308.3 L200.9 301.9 L199.1 298.1 L188.7 301.2 L178.5 304.8 L168.5 308.6 L158.5 312.6 L148.7 316.8 L139.0 321.3 L130.5 323.7 L120.2 326.4 L109.9 329.4 L99.7 332.6 L89.5 336.0 L79.4 339.6 L69.4 343.5 L59.5 348.0 Z" fill="#2ab2c8" fill-opacity="0.6"/>
<path d="M60.2 350.8 L70.7 348.9 L81.2 346.8 L91.7 344.6 L102.1 342.3 L112.5 340.0 L122.9 337.5 L133.3 335.0 L144.1 331.5 L153.6 326.6 L163.0 321.6 L172.4 316.5 L181.8 311.4 L191.1 306.1 L200.4 300.7 L199.6 299.3 L189.8 303.4 L180.0 307.7 L170.2 312.1 L160.5 316.6 L150.9 321.2 L141.3 325.8 L131.8 328.8 L121.4 331.4 L111.1 334.1 L100.8 336.9 L90.5 339.9 L80.2 342.8 L70.0 345.9 L59.8 349.2 Z" fill="#4cd2e4" fill-opacity="0.85"/>
<path d="M30.6 422.0 L42.0 420.7 L53.2 418.9 L64.4 416.9 L75.5 414.6 L86.5 412.1 L97.5 409.3 L103.0 410.1 L113.6 413.9 L124.3 417.5 L135.1 420.9 L146.0 424.1 L157.0 427.1 L168.0 429.8 L179.3 432.0 L180.7 428.0 L170.8 422.3 L160.7 417.1 L150.5 412.1 L140.2 407.3 L129.9 402.8 L119.4 398.4 L108.9 394.4 L92.9 393.4 L82.2 396.9 L71.5 400.6 L60.8 404.5 L50.3 408.7 L39.8 413.1 L29.4 418.0 Z" fill="#2ab2c8" fill-opacity="0.6"/>
<path d="M30.2 420.8 L41.3 418.4 L52.3 415.7 L63.3 413.0 L74.2 410.2 L85.2 407.4 L96.1 404.4 L104.8 405.2 L115.4 409.1 L126.0 413.0 L136.7 416.7 L147.4 420.4 L158.1 424.0 L168.9 427.5 L179.7 430.7 L180.3 429.3 L170.0 424.6 L159.5 420.2 L149.1 415.8 L138.6 411.5 L128.1 407.3 L117.6 403.2 L107.0 399.2 L94.3 398.3 L83.5 401.6 L72.7 404.9 L61.9 408.3 L51.2 411.8 L40.5 415.4 L29.8 419.2 Z" fill="#4cd2e4" fill-opacity="0.85"/>
<path d="M120.5 462.0 L130.1 461.6 L139.7 460.6 L149.1 459.3 L158.5 457.9 L167.8 456.2 L177.1 454.3 L186.3 452.1 L195.4 449.7 L197.4 447.9 L205.4 453.1 L213.4 458.1 L221.7 462.9 L230.0 467.5 L238.7 471.7 L241.3 468.3 L234.8 461.1 L228.1 454.4 L221.1 447.8 L214.1 441.5 L206.9 435.3 L191.4 433.6 L182.2 435.8 L173.1 438.2 L164.0 440.9 L155.0 443.8 L146.0 446.9 L137.1 450.2 L128.2 453.8 L119.5 458.0 Z" fill="#2ab2c8" fill-opacity="0.6"/>
<path d="M120.2 460.8 L129.5 459.2 L138.9 457.4 L148.1 455.5 L157.4 453.5 L166.6 451.4 L175.8 449.3 L185.0 447.0 L194.2 444.7 L200.3 444.0 L208.1 449.5 L215.8 454.9 L223.6 460.3 L231.5 465.5 L239.5 470.6 L240.5 469.4 L233.3 463.1 L226.1 457.0 L218.8 451.0 L211.4 445.1 L204.0 439.2 L192.7 438.6 L183.5 440.8 L174.3 443.2 L165.2 445.6 L156.0 448.1 L146.9 450.7 L137.9 453.4 L128.8 456.2 L119.8 459.2 Z" fill="#4cd2e4" fill-opacity="0.85"/>
<path d="M98.3 238.8 L90.6 247.0 L83.3 255.4 L76.3 264.0 L69.4 272.7 L62.8 281.6 L56.4 290.5 L50.6 303.0 L48.0 313.7 L45.7 324.5 L43.7 335.4 L41.8 346.3 L40.2 357.3 L38.8 368.3 L38.0 379.5 L42.0 380.5 L46.6 370.3 L50.5 359.9 L54.3 349.4 L57.8 338.9 L61.0 328.4 L64.1 317.7 L66.9 307.1 L70.1 299.7 L75.9 290.3 L81.6 280.8 L87.0 271.1 L92.2 261.3 L97.2 251.4 L101.7 241.2 Z" fill="#2ab2c8" fill-opacity="0.6"/>
<path d="M99.3 239.6 L92.6 248.3 L86.1 257.2 L79.6 266.2 L73.2 275.2 L66.9 284.3 L60.6 293.4 L55.6 304.2 L53.0 315.0 L50.5 325.7 L48.0 336.5 L45.7 347.3 L43.4 358.1 L41.2 368.9 L39.2 379.8 L40.8 380.2 L44.2 369.7 L47.3 359.1 L50.4 348.5 L53.4 337.8 L56.3 327.2 L59.1 316.5 L61.8 305.8 L65.9 296.9 L71.9 287.6 L77.8 278.3 L83.7 268.9 L89.4 259.5 L95.1 250.0 L100.7 240.4 Z" fill="#4cd2e4" fill-opacity="0.85"/>
<path d="M285.8 233.8 L294.0 225.2 L301.1 216.1 L307.8 206.9 L314.1 197.4 L319.9 187.8 L325.3 177.9 L330.3 167.8 L334.7 157.5 L338.9 147.6 L342.8 137.0 L346.2 126.2 L349.3 115.2 L353.3 108.5 L358.9 98.1 L353.1 91.9 L342.4 96.8 L330.2 105.7 L323.3 114.7 L316.7 124.0 L310.6 133.5 L304.7 143.6 L299.8 153.7 L295.3 164.0 L291.3 174.5 L287.7 185.2 L284.5 196.1 L281.8 207.2 L279.5 218.5 L278.2 230.2 Z" fill="#1a7a98" fill-opacity="0.6"/>
<path d="M283.5 232.7 L289.5 223.1 L295.1 213.4 L300.6 203.5 L305.9 193.6 L311.0 183.6 L316.0 173.6 L320.8 163.5 L325.4 153.2 L330.1 143.2 L334.7 133.0 L339.1 122.7 L343.4 112.3 L349.9 104.9 L357.1 96.2 L354.9 93.8 L345.7 100.5 L336.1 108.6 L330.4 118.3 L324.8 128.0 L319.3 137.9 L314.0 147.9 L309.2 158.1 L304.6 168.3 L300.1 178.6 L295.8 189.0 L291.7 199.4 L287.7 209.9 L284.0 220.5 L280.5 231.3 Z" fill="#2aa6c4" fill-opacity="0.85"/>
<path d="M297.4 302.6 L299.2 309.1 L301.7 314.9 L304.5 320.4 L307.6 325.6 L311.0 330.5 L314.7 335.1 L318.6 339.4 L322.0 342.9 L326.3 346.9 L331.0 350.6 L336.0 354.1 L341.3 357.2 L346.9 360.1 L353.2 362.4 L358.8 357.6 L357.4 351.0 L355.4 345.0 L353.0 339.3 L350.3 333.9 L347.2 328.8 L343.9 323.9 L339.4 318.6 L335.1 314.7 L330.5 311.0 L325.6 307.6 L320.4 304.5 L314.9 301.7 L309.1 299.2 L302.6 297.4 Z" fill="#1a7a98" fill-opacity="0.6"/>
<path d="M299.0 301.0 L302.3 306.0 L305.8 310.8 L309.4 315.5 L313.2 320.0 L317.0 324.5 L321.0 328.8 L325.1 333.0 L328.8 337.0 L332.8 341.3 L337.0 345.4 L341.2 349.5 L345.6 353.5 L350.1 357.3 L354.9 360.9 L357.1 359.1 L354.2 353.8 L351.0 348.8 L347.7 343.9 L344.3 339.1 L340.8 334.4 L337.1 329.8 L333.0 325.1 L328.8 321.0 L324.5 317.0 L320.0 313.2 L315.5 309.4 L310.8 305.8 L306.0 302.3 L301.0 299.0 Z" fill="#2aa6c4" fill-opacity="0.85"/>
<path d="M17.9 120.3 L16.8 126.2 L16.1 132.1 L15.8 137.9 L15.6 143.8 L15.7 149.6 L16.1 155.3 L16.7 161.0 L17.5 166.7 L18.6 172.4 L19.9 178.0 L21.5 183.7 L23.3 189.2 L25.3 194.8 L27.9 200.3 L32.1 199.7 L33.2 193.8 L33.9 187.9 L34.2 182.1 L34.4 176.2 L34.3 170.4 L33.9 164.7 L33.3 159.0 L32.5 153.3 L31.4 147.6 L30.1 142.0 L28.5 136.3 L26.7 130.8 L24.7 125.2 L22.1 119.7 Z" fill="#2ab2c8" fill-opacity="0.6"/>
<path d="M19.2 120.1 L19.2 125.9 L19.4 131.7 L19.7 137.4 L20.1 143.2 L20.6 148.9 L21.2 154.7 L21.8 160.4 L22.6 166.1 L23.4 171.8 L24.4 177.5 L25.4 183.2 L26.6 188.8 L27.8 194.5 L29.2 200.1 L30.8 199.9 L30.8 194.1 L30.6 188.3 L30.3 182.6 L29.9 176.8 L29.4 171.1 L28.8 165.3 L28.2 159.6 L27.4 153.9 L26.6 148.2 L25.6 142.5 L24.6 136.8 L23.4 131.2 L22.2 125.5 L20.8 119.9 Z" fill="#4cd2e4" fill-opacity="0.85"/>
<path d="M148.5 381.5 L153.0 388.6 L157.8 395.4 L162.9 401.9 L168.1 408.4 L173.4 414.6 L179.0 420.7 L183.2 425.1 L187.6 432.0 L192.1 438.9 L196.9 445.6 L201.8 452.2 L207.0 458.7 L212.4 465.0 L218.2 471.1 L221.8 468.9 L219.2 460.9 L216.1 453.2 L212.8 445.6 L209.4 438.1 L205.7 430.8 L201.8 423.5 L197.7 416.4 L190.7 409.0 L184.6 403.4 L178.4 398.1 L171.9 392.9 L165.4 387.8 L158.6 383.0 L151.5 378.5 Z" fill="#2ab2c8" fill-opacity="0.6"/>
<path d="M149.4 380.6 L154.7 386.9 L160.2 393.0 L165.7 399.1 L171.2 405.2 L176.9 411.1 L182.6 417.0 L187.7 422.4 L192.0 429.4 L196.3 436.4 L200.7 443.3 L205.2 450.1 L209.8 457.0 L214.5 463.7 L219.3 470.4 L220.7 469.6 L217.1 462.2 L213.3 454.9 L209.4 447.6 L205.5 440.4 L201.5 433.3 L197.4 426.2 L193.2 419.1 L187.0 412.6 L181.1 406.9 L175.2 401.2 L169.1 395.7 L163.0 390.2 L156.9 384.7 L150.6 379.4 Z" fill="#4cd2e4" fill-opacity="0.85"/>
<ellipse cx="205" cy="375" rx="14" ry="22" fill="#62e6ee"/>
<ellipse cx="60" cy="40" rx="10" ry="10" fill="#38c4cf"/>
<ellipse cx="60" cy="40" rx="14.9" ry="10.3" transform="rotate(77 60 40)" fill="#1a4ef5"/>
<ellipse cx="75" cy="95" rx="14.9" ry="10.3" transform="rotate(77 75 95)" fill="#1a4ef5"/>
<ellipse cx="145" cy="100" rx="14.9" ry="10.3" transform="rotate(119 145 100)" fill="#1a4ef5"/>
<ellipse cx="110" cy="150" rx="14.9" ry="10.3" transform="rotate(119 110 150)" fill="#1a4ef5"/>
<ellipse cx="80" cy="170" rx="14.9" ry="10.3" transform="rotate(69 80 170)" fill="#1a4ef5"/>
<ellipse cx="130" cy="165" rx="14.9" ry="10.3" transform="rotate(119 130 165)" fill="#1a4ef5"/>
<ellipse cx="75" cy="210" rx="14.9" ry="10.3" transform="rotate(72 75 210)" fill="#1a4ef5"/>
<ellipse cx="120" cy="230" rx="14.9" ry="10.3" transform="rotate(72 120 230)" fill="#1a4ef5"/>
<ellipse cx="105" cy="250" rx="14.9" ry="10.3" transform="rotate(72 105 250)" fill="#1a4ef5"/>
<ellipse cx="20" cy="265" rx="14.9" ry="10.3" transform="rotate(17 20 265)" fill="#1a4ef5"/>
<ellipse cx="60" cy="270" rx="14.9" ry="10.3" transform="rotate(17 60 270)" fill="#1a4ef5"/>
<ellipse cx="90" cy="280" rx="14.9" ry="10.3" transform="rotate(17 90 280)" fill="#1a4ef5"/>
<ellipse cx="150" cy="300" rx="14.9" ry="10.3" transform="rotate(-6 150 300)" fill="#1a4ef5"/>
<ellipse cx="180" cy="320" rx="14.9" ry="10.3" transform="rotate(-27 180 320)" fill="#1a4ef5"/>
<ellipse cx="130" cy="330" rx="14.9" ry="10.3" transform="rotate(-14 130 330)" fill="#1a4ef5"/>
<ellipse cx="70" cy="320" rx="14.9" ry="10.3" transform="rotate(104 70 320)" fill="#1a4ef5"/>
<ellipse cx="240" cy="280" rx="14.9" ry="10.3" transform="rotate(-6 240 280)" fill="#1a4ef5"/>
<ellipse cx="250" cy="325" rx="14.9" ry="10.3" transform="rotate(90 250 325)" fill="#1a4ef5"/>
<ellipse cx="60" cy="355" rx="14.9" ry="10.3" transform="rotate(-14 60 355)" fill="#1a4ef5"/>
<ellipse cx="100" cy="350" rx="14.9" ry="10.3" transform="rotate(-14 100 350)" fill="#1a4ef5"/>
<ellipse cx="160" cy="390" rx="14.9" ry="10.3" transform="rotate(45 160 390)" fill="#1a4ef5"/>
<ellipse cx="200" cy="400" rx="14.9" ry="10.3" transform="rotate(45 200 400)" fill="#1a4ef5"/>
<ellipse cx="80" cy="410" rx="14.9" ry="10.3" transform="rotate(-16 80 410)" fill="#1a4ef5"/>
<ellipse cx="120" cy="440" rx="14.9" ry="10.3" transform="rotate(-14 120 440)" fill="#1a4ef5"/>
<ellipse cx="210" cy="445" rx="14.9" ry="10.3" transform="rotate(37 210 445)" fill="#1a4ef5"/>
<ellipse cx="30" cy="440" rx="14.9" ry="10.3" transform="rotate(-16 30 440)" fill="#1a4ef5"/>
<ellipse cx="50" cy="560" rx="14.9" ry="10.3" transform="rotate(90 50 560)" fill="#1a4ef5"/>
<ellipse cx="330" cy="150" rx="14.9" ry="10.3" transform="rotate(-63 330 150)" fill="#1a4ef5"/>
<ellipse cx="330" cy="340" rx="14.9" ry="10.3" transform="rotate(49 330 340)" fill="#1a4ef5"/>
<ellipse cx="280" cy="240" rx="14.9" ry="10.3" transform="rotate(-65 280 240)" fill="#1a4ef5"/>
</g></g>
<rect x="73.25" y="331.75" width="38.50" height="63.90" fill="none" stroke="#000" stroke-width="0.5" stroke-opacity="0.6"/>
<rect x="114.6" y="331.3" width="40.20" height="64.40" fill="#01131a"/>
<g clip-path="url(#c2)"><g transform="translate(113,331) scale(0.11494)" filter="url(#mb)">
<g filter="url(#tex)">
<polygon points="0,100 60,95 110,120 150,170 160,220 210,250 230,300 170,300 150,350 140,420 120,480 60,520 0,520" fill="#0a5a66" fill-opacity="1"/>
<polygon points="230,200 300,190 374,230 374,470 320,470 270,450 250,400 270,340 250,300" fill="#0a5a66" fill-opacity="1"/>
<polygon points="100,500 180,470 260,500 300,540 250,565 120,565" fill="#0a5a66" fill-opacity="1"/>
</g>
<polygon points="208.1,108.5 191.6,114.2 196.3,139.4 156.7,118.9 132.7,114.1 117.5,103.2 124.6,93.8 121.8,82.8 139.1,77.4 163.6,79.8 209.4,74.5 198.7,97.1" fill="#36c8d6" fill-opacity="0.55" stroke="#66e8ee" stroke-width="5" stroke-opacity="0.7" stroke-linejoin="round"/>
<polygon points="90.9,74.4 95.4,82.4 76.9,77.5 53.1,74.7 37.7,58.5 30.1,50.5 21.7,42.1 34.6,43.9 31.3,30.2 64.2,50.9 79.5,61.3 87.8,68.9" fill="#0e7e92" fill-opacity="0.55" stroke="#34cde0" stroke-width="5" stroke-opacity="0.7" stroke-linejoin="round"/>
<polygon points="87.8,218.1 70.1,215.3 50.9,208.1 36.8,183.4 28.1,160.5 5.4,119.9 13.4,89.3 49.3,122.0 67.8,137.1 84.7,155.7 92.6,179.7 96.8,203.8" fill="#0e7e92" fill-opacity="0.55" stroke="#34cde0" stroke-width="5" stroke-opacity="0.7" stroke-linejoin="round"/>
<polygon points="151.9,271.9 135.4,271.5 116.7,271.1 94.1,245.9 43.0,219.2 37.3,185.5 66.1,186.1 82.9,185.8 103.4,189.4 127.3,212.7 144.3,235.6 161.9,261.8" fill="#0e7e92" fill-opacity="0.55" stroke="#34cde0" stroke-width="5" stroke-opacity="0.7" stroke-linejoin="round"/>
<polygon points="237.8,302.0 191.9,297.2 163.7,289.3 145.0,283.8 118.1,278.4 101.6,264.1 109.0,255.1 119.6,250.3 117.1,223.6 155.4,255.0 176.5,263.0 194.0,275.4" fill="#0e7e92" fill-opacity="0.55" stroke="#34cde0" stroke-width="5" stroke-opacity="0.7" stroke-linejoin="round"/>
<polygon points="63.6,337.5 51.2,331.3 38.4,326.1 16.2,312.3 25.5,288.0 30.8,275.2 38.4,268.1 48.8,268.6 69.7,255.5 74.1,291.2 74.9,312.2 70.3,326.2" fill="#0e7e92" fill-opacity="0.55" stroke="#34cde0" stroke-width="5" stroke-opacity="0.7" stroke-linejoin="round"/>
<polygon points="88.0,425.2 73.3,431.2 63.5,405.0 26.7,389.4 47.4,355.8 59.1,339.8 69.7,321.5 86.4,331.0 96.7,354.7 101.9,376.1 134.5,420.5 100.2,418.8" fill="#0e7e92" fill-opacity="0.55" stroke="#34cde0" stroke-width="5" stroke-opacity="0.7" stroke-linejoin="round"/>
<polygon points="55.3,476.4 43.5,480.5 29.0,476.8 19.7,461.7 11.0,446.1 5.9,424.7 23.9,422.1 33.8,396.1 49.4,427.1 59.5,438.7 96.7,457.6 63.4,467.4" fill="#0e7e92" fill-opacity="0.55" stroke="#34cde0" stroke-width="5" stroke-opacity="0.7" stroke-linejoin="round"/>
<polygon points="94.0,485.1 98.3,460.9 87.1,451.4 108.6,433.4 116.1,419.9 124.8,420.7 135.6,412.9 138.4,422.3 137.1,434.1 133.7,447.9 123.8,459.6 113.1,467.7" fill="#0e7e92" fill-opacity="0.55" stroke="#34cde0" stroke-width="5" stroke-opacity="0.7" stroke-linejoin="round"/>
<polygon points="418.6,281.8 357.2,276.8 320.7,269.3 294.0,272.2 259.0,259.5 255.1,246.1 253.5,237.5 250.7,227.0 278.7,230.1 304.7,232.6 329.3,243.2 396.2,258.3" fill="#36c8d6" fill-opacity="0.55" stroke="#66e8ee" stroke-width="5" stroke-opacity="0.7" stroke-linejoin="round"/>
<polygon points="305.0,350.9 295.5,351.7 289.4,374.0 270.9,340.8 259.3,329.3 244.2,313.0 247.6,302.9 249.7,287.4 274.3,303.6 291.5,316.3 308.2,331.0 313.9,346.1" fill="#0e7e92" fill-opacity="0.55" stroke="#34cde0" stroke-width="5" stroke-opacity="0.7" stroke-linejoin="round"/>
<polygon points="350.0,451.9 329.5,442.8 305.9,459.3 292.5,415.9 282.4,388.8 289.7,372.2 297.5,361.1 310.2,356.1 326.9,370.8 346.0,385.0 351.8,409.5 383.7,458.4" fill="#0e7e92" fill-opacity="0.55" stroke="#34cde0" stroke-width="5" stroke-opacity="0.7" stroke-linejoin="round"/>
<polygon points="267.5,497.2 262.8,487.8 272.5,471.2 286.5,454.0 305.5,444.9 343.9,408.7 324.5,449.4 368.1,437.4 323.7,469.0 313.2,485.7 295.7,489.7 273.9,506.5" fill="#0e7e92" fill-opacity="0.55" stroke="#34cde0" stroke-width="5" stroke-opacity="0.7" stroke-linejoin="round"/>
<polygon points="152.2,537.4 152.1,528.2 159.5,513.9 191.4,496.4 229.7,486.3 252.5,489.3 298.1,484.3 250.1,511.4 244.6,526.7 207.6,540.9 170.7,553.2 122.5,565.2" fill="#0e7e92" fill-opacity="0.55" stroke="#34cde0" stroke-width="5" stroke-opacity="0.7" stroke-linejoin="round"/>
<polygon points="319.0,546.9 304.5,551.2 296.1,557.9 274.3,572.2 242.9,559.7 251.9,542.2 251.0,534.9 246.6,524.7 263.9,522.2 282.5,525.7 301.7,528.5 309.3,537.7" fill="#0e7e92" fill-opacity="0.55" stroke="#34cde0" stroke-width="5" stroke-opacity="0.7" stroke-linejoin="round"/>
<polygon points="-5.3,567.7 28.6,537.8 31.0,524.4 49.8,512.3 67.0,509.7 84.1,505.0 86.9,514.5 90.8,522.4 87.7,535.3 67.0,542.2 51.8,553.5 21.5,570.0" fill="#0e7e92" fill-opacity="0.55" stroke="#34cde0" stroke-width="5" stroke-opacity="0.7" stroke-linejoin="round"/>
<polygon points="219.7,131.0 188.0,131.1 225.1,116.7 245.4,107.2 263.6,105.2 281.5,101.9 284.8,107.3 277.9,115.0 281.5,124.1 254.1,131.4 238.6,132.4 228.5,132.3" fill="#0e7e92" fill-opacity="0.55" stroke="#34cde0" stroke-width="5" stroke-opacity="0.7" stroke-linejoin="round"/>
<polygon points="366.9,143.4 351.9,142.5 341.9,143.0 326.7,138.9 311.9,132.4 299.8,124.6 294.7,117.1 279.6,101.1 304.6,102.4 334.4,117.9 352.8,127.0 368.7,136.9" fill="#0e7e92" fill-opacity="0.55" stroke="#34cde0" stroke-width="5" stroke-opacity="0.7" stroke-linejoin="round"/>
<polygon points="216.7,190.0 214.3,195.6 203.2,188.4 191.6,177.1 183.2,163.9 182.4,155.7 167.8,131.6 180.1,134.3 197.0,153.1 208.5,162.9 213.2,174.8 217.7,184.4" fill="#0e7e92" fill-opacity="0.55" stroke="#34cde0" stroke-width="5" stroke-opacity="0.7" stroke-linejoin="round"/>
<polygon points="362.9,330.0 369.2,352.4 365.8,389.7 340.0,361.3 323.5,368.1 298.9,361.6 306.8,330.0 318.4,313.4 325.9,297.4 340.0,287.0 353.6,298.5 368.1,308.4" fill="#0e7e92" fill-opacity="0.55" stroke="#34cde0" stroke-width="5" stroke-opacity="0.7" stroke-linejoin="round"/>
<polygon points="56.8,230.0 36.5,253.8 27.8,263.8 20.0,287.3 8.9,277.9 2.0,255.9 0.6,230.0 2.0,204.0 5.0,165.1 20.0,189.6 30.4,184.8 35.4,207.8" fill="#0e7e92" fill-opacity="0.55" stroke="#34cde0" stroke-width="5" stroke-opacity="0.7" stroke-linejoin="round"/>
<path d="M-0.7 22.2 L5.9 26.7 L12.7 30.6 L19.7 34.2 L26.7 37.5 L33.8 40.6 L41.0 43.5 L48.2 46.0 L55.6 48.3 L61.5 50.7 L68.7 53.5 L76.1 56.1 L83.5 58.5 L91.1 60.6 L98.9 62.1 L101.1 57.9 L95.1 52.5 L88.9 47.7 L82.5 43.2 L76.1 38.9 L69.5 34.8 L61.5 30.7 L54.2 28.1 L46.8 25.8 L39.4 23.8 L31.9 22.0 L24.2 20.5 L16.5 19.2 L8.7 18.2 L0.7 17.8 Z" fill="#1a7a98" fill-opacity="0.6"/>
<path d="M-0.3 20.9 L6.8 24.1 L13.9 27.0 L21.1 29.9 L28.3 32.7 L35.5 35.4 L42.8 38.0 L50.1 40.5 L57.4 42.9 L64.0 45.8 L71.0 49.0 L78.1 52.1 L85.2 55.1 L92.3 58.1 L99.6 60.8 L100.4 59.2 L93.9 55.0 L87.2 51.1 L80.5 47.2 L73.8 43.4 L67.0 39.7 L59.7 36.1 L52.4 33.7 L45.0 31.3 L37.7 29.0 L30.3 26.8 L22.8 24.7 L15.4 22.7 L7.9 20.8 L0.3 19.1 Z" fill="#2aa6c4" fill-opacity="0.85"/>
<path d="M328.1 -1.4 L318.2 8.3 L308.7 18.4 L299.5 28.6 L290.6 38.5 L281.3 48.6 L272.1 58.9 L263.2 69.3 L254.6 80.0 L246.1 90.8 L237.8 99.3 L227.6 108.6 L217.7 118.2 L207.9 127.9 L198.5 138.2 L201.5 141.8 L213.5 134.9 L225.2 127.5 L236.7 119.9 L248.0 112.1 L259.8 102.2 L268.9 91.9 L277.8 81.4 L286.4 70.8 L294.9 60.0 L303.2 49.0 L311.1 37.3 L318.3 25.6 L325.4 13.7 L331.9 1.4 Z" fill="#1a7a98" fill-opacity="0.6"/>
<path d="M329.3 -0.5 L320.4 10.0 L311.7 20.6 L303.1 31.3 L294.5 41.8 L285.5 52.1 L276.6 62.6 L267.7 73.1 L259.0 83.7 L250.3 94.3 L240.9 103.3 L230.4 112.1 L220.0 121.1 L209.6 130.1 L199.4 139.3 L200.6 140.7 L211.8 132.8 L222.9 124.6 L233.9 116.4 L244.8 108.1 L255.5 98.6 L264.4 88.2 L273.3 77.7 L282.0 67.1 L290.7 56.5 L299.3 45.8 L307.5 34.6 L315.4 23.3 L323.1 12.0 L330.7 0.5 Z" fill="#2aa6c4" fill-opacity="0.85"/>
<path d="M8.5 61.5 L9.3 65.0 L10.5 68.1 L11.9 71.0 L13.4 73.7 L15.1 76.3 L17.0 78.7 L19.1 80.9 L21.3 83.0 L23.7 84.9 L26.3 86.6 L29.0 88.1 L31.9 89.5 L35.0 90.7 L38.5 91.5 L41.5 88.5 L40.7 85.0 L39.5 81.9 L38.1 79.0 L36.6 76.3 L34.9 73.7 L33.0 71.3 L30.9 69.1 L28.7 67.0 L26.3 65.1 L23.7 63.4 L21.0 61.9 L18.1 60.5 L15.0 59.3 L11.5 58.5 Z" fill="#1a7a98" fill-opacity="0.6"/>
<path d="M9.4 60.6 L11.1 63.2 L12.8 65.7 L14.7 68.2 L16.6 70.5 L18.6 72.8 L20.6 75.1 L22.7 77.3 L24.9 79.4 L27.2 81.4 L29.5 83.4 L31.8 85.3 L34.3 87.2 L36.8 88.9 L39.4 90.6 L40.6 89.4 L38.9 86.8 L37.2 84.3 L35.3 81.8 L33.4 79.5 L31.4 77.2 L29.4 74.9 L27.3 72.7 L25.1 70.6 L22.8 68.6 L20.5 66.6 L18.2 64.7 L15.7 62.8 L13.2 61.1 L10.6 59.4 Z" fill="#2aa6c4" fill-opacity="0.85"/>
<path d="M298.9 122.1 L303.1 126.6 L307.6 130.5 L312.1 134.1 L316.8 137.6 L321.6 140.7 L326.6 143.7 L331.6 146.4 L338.4 149.2 L344.0 150.4 L349.7 151.4 L355.5 152.1 L361.3 152.5 L367.2 152.7 L373.3 152.3 L374.7 147.7 L369.8 144.1 L364.7 141.0 L359.6 138.2 L354.3 135.7 L349.0 133.4 L343.7 131.4 L340.1 129.5 L334.9 127.0 L329.6 124.9 L324.1 122.9 L318.6 121.2 L312.9 119.8 L307.1 118.5 L301.1 117.9 Z" fill="#1a7a98" fill-opacity="0.6"/>
<path d="M299.6 120.8 L304.4 124.1 L309.2 127.2 L314.1 130.1 L319.1 133.0 L324.1 135.8 L329.1 138.5 L334.2 141.1 L340.0 143.7 L345.6 145.2 L351.1 146.5 L356.7 147.8 L362.4 149.0 L368.0 150.0 L373.7 150.9 L374.3 149.1 L369.0 146.7 L363.7 144.6 L358.3 142.5 L352.9 140.5 L347.5 138.7 L342.0 136.9 L337.5 134.7 L332.3 132.2 L327.1 129.8 L321.9 127.5 L316.6 125.2 L311.3 123.1 L305.9 121.0 L300.4 119.2 Z" fill="#2aa6c4" fill-opacity="0.85"/>
<path d="M18.3 151.2 L24.6 163.6 L31.4 175.6 L38.4 187.5 L45.6 199.3 L53.0 210.9 L60.6 222.4 L68.4 233.8 L76.4 245.0 L85.7 256.9 L95.9 266.2 L106.3 275.3 L116.8 284.3 L127.4 293.1 L138.5 301.5 L141.5 298.5 L133.1 287.4 L124.3 276.8 L115.3 266.3 L106.2 255.9 L96.9 245.7 L89.9 235.5 L82.2 224.1 L74.2 212.9 L66.0 201.9 L57.5 191.0 L48.9 180.2 L40.2 169.5 L31.2 159.0 L21.7 148.8 Z" fill="#2ab2c8" fill-opacity="0.6"/>
<path d="M19.3 150.5 L26.7 162.2 L34.1 173.7 L41.7 185.2 L49.3 196.7 L57.0 208.1 L64.8 219.5 L72.7 230.8 L80.6 242.1 L89.2 253.4 L99.1 263.0 L109.1 272.5 L119.1 282.0 L129.2 291.3 L139.4 300.6 L140.6 299.4 L131.3 289.2 L122.0 279.1 L112.5 269.1 L103.0 259.1 L93.4 249.2 L85.8 238.4 L77.9 227.1 L70.0 215.9 L61.9 204.7 L53.9 193.5 L45.7 182.4 L37.5 171.4 L29.1 160.4 L20.7 149.5 Z" fill="#4cd2e4" fill-opacity="0.85"/>
<path d="M30.7 352.0 L39.9 350.9 L48.9 349.3 L57.9 347.5 L66.8 345.4 L75.6 343.1 L84.4 340.6 L83.7 335.6 L89.5 342.6 L95.4 349.4 L101.6 356.1 L108.0 362.7 L114.5 369.1 L121.2 375.4 L128.4 381.3 L131.6 378.7 L127.4 370.4 L122.8 362.5 L118.0 354.7 L113.0 347.1 L107.8 339.6 L102.4 332.2 L96.8 325.1 L79.1 324.9 L70.6 328.1 L62.2 331.6 L53.8 335.3 L45.6 339.2 L37.4 343.3 L29.3 348.0 Z" fill="#2ab2c8" fill-opacity="0.6"/>
<path d="M30.3 350.8 L39.1 348.6 L47.9 346.2 L56.6 343.7 L65.4 341.1 L74.1 338.5 L82.7 335.7 L87.7 332.3 L93.5 339.4 L99.3 346.4 L105.1 353.3 L111.1 360.2 L117.1 367.1 L123.1 373.9 L129.4 380.5 L130.6 379.5 L125.5 372.0 L120.2 364.5 L114.9 357.2 L109.4 349.9 L104.0 342.6 L98.4 335.4 L92.7 328.3 L80.8 329.8 L72.2 332.8 L63.6 335.9 L55.1 339.1 L46.6 342.3 L38.1 345.7 L29.7 349.2 Z" fill="#4cd2e4" fill-opacity="0.85"/>
<path d="M259.0 241.8 L267.0 248.6 L275.3 254.9 L283.7 261.0 L292.3 266.8 L300.9 272.5 L309.7 277.9 L318.6 283.2 L324.8 286.8 L331.6 294.6 L338.5 302.3 L345.6 309.8 L352.9 317.2 L360.4 324.4 L368.4 331.3 L371.6 328.7 L366.7 319.4 L361.3 310.5 L355.6 301.8 L349.9 293.2 L343.9 284.7 L337.7 276.4 L327.0 268.6 L317.9 263.6 L308.8 258.8 L299.5 254.2 L290.1 249.8 L280.6 245.6 L271.0 241.7 L261.0 238.2 Z" fill="#2ab2c8" fill-opacity="0.6"/>
<path d="M259.6 240.7 L268.2 246.4 L276.9 252.0 L285.7 257.5 L294.5 262.9 L303.4 268.2 L312.3 273.5 L321.2 278.7 L328.8 283.6 L335.4 291.5 L342.0 299.5 L348.7 307.3 L355.5 315.1 L362.4 322.9 L369.4 330.5 L370.6 329.5 L364.7 321.0 L358.7 312.6 L352.5 304.3 L346.3 296.0 L340.1 287.8 L333.7 279.6 L324.4 273.1 L315.4 268.0 L306.3 263.0 L297.3 258.1 L288.1 253.3 L278.9 248.5 L269.7 243.8 L260.4 239.3 Z" fill="#4cd2e4" fill-opacity="0.85"/>
<path d="M278.7 381.6 L283.4 387.9 L288.5 393.7 L293.8 399.3 L299.2 404.7 L304.8 409.9 L310.5 415.0 L316.3 419.8 L322.3 424.5 L327.5 428.7 L333.3 433.6 L339.3 438.4 L345.5 443.0 L351.8 447.4 L358.5 451.5 L361.5 448.5 L357.4 441.8 L353.0 435.5 L348.4 429.3 L343.6 423.3 L338.7 417.5 L332.7 411.5 L326.8 406.7 L320.8 402.0 L314.6 397.6 L308.3 393.3 L301.8 389.2 L295.2 385.3 L288.4 381.6 L281.3 378.4 Z" fill="#2ab2c8" fill-opacity="0.6"/>
<path d="M279.5 380.6 L285.0 385.9 L290.6 391.1 L296.3 396.2 L302.0 401.2 L307.8 406.1 L313.7 411.0 L319.6 415.8 L325.5 420.5 L331.0 425.2 L336.5 430.5 L342.1 435.6 L347.8 440.7 L353.5 445.7 L359.4 450.6 L360.6 449.4 L355.7 443.5 L350.7 437.8 L345.6 432.1 L340.5 426.5 L335.2 421.0 L329.5 415.5 L323.6 410.8 L317.6 406.0 L311.6 401.4 L305.5 396.8 L299.3 392.3 L293.1 387.9 L286.9 383.6 L280.5 379.4 Z" fill="#4cd2e4" fill-opacity="0.85"/>
<ellipse cx="150" cy="95" rx="30" ry="15" fill="#62e6ee"/>
<ellipse cx="140" cy="140" rx="10" ry="10" fill="#38c4cf"/>
<ellipse cx="245" cy="270" rx="25" ry="10" fill="#62e6ee"/>
<ellipse cx="320" cy="440" rx="20" ry="20" fill="#38c4cf"/>
<ellipse cx="60" cy="290" rx="12" ry="12" fill="#38c4cf"/>
<ellipse cx="55" cy="120" rx="14.9" ry="10.3" transform="rotate(45 55 120)" fill="#1a4ef5"/>
<ellipse cx="110" cy="100" rx="14.9" ry="10.3" transform="rotate(90 110 100)" fill="#1a4ef5"/>
<ellipse cx="190" cy="110" rx="14.9" ry="10.3" transform="rotate(141 190 110)" fill="#1a4ef5"/>
<ellipse cx="250" cy="125" rx="14.9" ry="10.3" transform="rotate(141 250 125)" fill="#1a4ef5"/>
<ellipse cx="40" cy="185" rx="14.9" ry="10.3" transform="rotate(55 40 185)" fill="#1a4ef5"/>
<ellipse cx="110" cy="210" rx="14.9" ry="10.3" transform="rotate(55 110 210)" fill="#1a4ef5"/>
<ellipse cx="165" cy="265" rx="14.9" ry="10.3" transform="rotate(90 165 265)" fill="#1a4ef5"/>
<ellipse cx="70" cy="275" rx="14.9" ry="10.3" transform="rotate(45 70 275)" fill="#1a4ef5"/>
<ellipse cx="260" cy="270" rx="14.9" ry="10.3" transform="rotate(30 260 270)" fill="#1a4ef5"/>
<ellipse cx="300" cy="235" rx="14.9" ry="10.3" transform="rotate(30 300 235)" fill="#1a4ef5"/>
<ellipse cx="45" cy="320" rx="14.9" ry="10.3" transform="rotate(-18 45 320)" fill="#1a4ef5"/>
<ellipse cx="290" cy="330" rx="14.9" ry="10.3" transform="rotate(90 290 330)" fill="#1a4ef5"/>
<ellipse cx="95" cy="360" rx="14.9" ry="10.3" transform="rotate(51 95 360)" fill="#1a4ef5"/>
<ellipse cx="110" cy="390" rx="14.9" ry="10.3" transform="rotate(51 110 390)" fill="#1a4ef5"/>
<ellipse cx="40" cy="400" rx="14.9" ry="10.3" transform="rotate(90 40 400)" fill="#1a4ef5"/>
<ellipse cx="300" cy="395" rx="14.9" ry="10.3" transform="rotate(39 300 395)" fill="#1a4ef5"/>
<ellipse cx="270" cy="420" rx="14.9" ry="10.3" transform="rotate(39 270 420)" fill="#1a4ef5"/>
<ellipse cx="320" cy="420" rx="14.9" ry="10.3" transform="rotate(39 320 420)" fill="#1a4ef5"/>
<ellipse cx="60" cy="460" rx="14.9" ry="10.3" transform="rotate(90 60 460)" fill="#1a4ef5"/>
<ellipse cx="40" cy="480" rx="14.9" ry="10.3" transform="rotate(90 40 480)" fill="#1a4ef5"/>
<ellipse cx="290" cy="460" rx="14.9" ry="10.3" transform="rotate(90 290 460)" fill="#1a4ef5"/>
<ellipse cx="190" cy="495" rx="14.9" ry="10.3" transform="rotate(90 190 495)" fill="#1a4ef5"/>
<ellipse cx="270" cy="535" rx="14.9" ry="10.3" transform="rotate(90 270 535)" fill="#1a4ef5"/>
<ellipse cx="190" cy="545" rx="14.9" ry="10.3" transform="rotate(90 190 545)" fill="#1a4ef5"/>
<ellipse cx="350" cy="175" rx="14.9" ry="10.3" transform="rotate(16 350 175)" fill="#1a4ef5"/>
</g></g>
<rect x="114.85" y="331.55" width="39.70" height="63.90" fill="none" stroke="#000" stroke-width="0.5" stroke-opacity="0.6"/>
<rect x="31.8" y="398.2" width="38.20" height="64.10" fill="#021f28"/>
<g clip-path="url(#c3)"><g transform="translate(31,397) scale(0.11696)" filter="url(#mb)">
<path d="M139.7 22.3 L144.7 25.2 L149.8 27.5 L155.0 29.4 L160.2 31.2 L165.4 32.6 L170.7 33.8 L178.1 34.2 L183.4 33.7 L188.8 32.9 L194.1 31.8 L199.4 30.4 L204.7 28.8 L210.0 26.9 L215.2 24.4 L214.8 19.6 L209.3 17.9 L203.8 16.8 L198.3 16.0 L192.9 15.5 L187.5 15.2 L182.1 15.1 L176.7 15.4 L173.3 15.4 L167.9 15.0 L162.5 14.9 L157.0 15.1 L151.5 15.6 L146.0 16.3 L140.3 17.7 Z" fill="#1a7a98" fill-opacity="0.6"/>
<path d="M139.9 20.9 L145.1 22.5 L150.3 23.8 L155.6 25.0 L160.9 26.1 L166.2 27.2 L171.5 28.1 L177.6 28.4 L183.0 28.0 L188.4 27.4 L193.7 26.7 L199.1 26.0 L204.4 25.1 L209.8 24.1 L215.1 22.9 L214.9 21.1 L209.5 20.7 L204.1 20.5 L198.7 20.5 L193.3 20.5 L187.9 20.6 L182.5 20.9 L177.1 21.2 L172.5 21.1 L167.2 20.5 L161.8 20.0 L156.4 19.6 L151.0 19.3 L145.6 19.1 L140.1 19.1 Z" fill="#2aa6c4" fill-opacity="0.85"/>
<path d="M223.1 19.1 L217.6 25.9 L212.5 33.1 L207.7 40.3 L203.0 47.6 L198.6 55.1 L194.4 62.6 L190.5 71.0 L187.3 79.0 L184.3 87.1 L181.6 95.3 L179.0 103.6 L176.7 112.0 L174.6 120.5 L173.1 129.2 L176.9 130.8 L182.0 123.6 L186.6 116.1 L190.9 108.6 L195.0 100.9 L198.9 93.2 L202.6 85.4 L206.0 77.4 L209.2 70.0 L212.8 62.2 L216.1 54.1 L219.2 46.0 L222.0 37.8 L224.7 29.5 L226.9 20.9 Z" fill="#1a7a98" fill-opacity="0.6"/>
<path d="M224.3 19.6 L219.8 27.0 L215.5 34.5 L211.2 42.1 L207.1 49.7 L203.0 57.3 L199.0 64.9 L195.3 73.0 L192.0 81.0 L188.8 89.0 L185.7 97.0 L182.7 105.1 L179.8 113.3 L176.9 121.4 L174.3 129.7 L175.7 130.3 L179.7 122.6 L183.5 114.8 L187.2 107.0 L190.8 99.2 L194.4 91.3 L197.8 83.4 L201.2 75.4 L204.6 67.8 L208.4 60.0 L212.0 52.1 L215.6 44.3 L219.1 36.4 L222.5 28.4 L225.7 20.4 Z" fill="#2aa6c4" fill-opacity="0.85"/>
<path d="M108.2 68.9 L99.3 79.8 L90.9 90.9 L82.6 102.2 L74.6 113.6 L66.8 125.1 L59.3 137.4 L52.5 149.5 L46.0 161.8 L39.6 174.2 L33.4 186.9 L27.9 199.8 L22.7 212.7 L17.7 225.8 L13.1 239.1 L16.9 240.9 L24.8 229.3 L32.2 217.5 L39.4 205.5 L46.4 193.5 L53.5 181.8 L60.5 169.7 L67.3 157.6 L73.8 145.3 L80.2 133.4 L87.0 121.2 L93.6 108.9 L99.9 96.5 L106.1 83.9 L111.8 71.1 Z" fill="#1a7a98" fill-opacity="0.6"/>
<path d="M109.3 69.6 L101.4 81.1 L93.7 92.6 L86.0 104.3 L78.5 116.0 L71.0 127.7 L63.8 139.8 L57.1 152.0 L50.5 164.2 L43.9 176.5 L37.4 189.0 L31.5 201.6 L25.6 214.2 L19.9 226.9 L14.3 239.6 L15.7 240.4 L22.6 228.2 L29.3 216.0 L35.9 203.7 L42.4 191.4 L49.2 179.4 L56.0 167.3 L62.7 155.1 L69.3 142.8 L76.1 130.8 L83.2 118.9 L90.2 106.8 L97.1 94.8 L104.0 82.7 L110.7 70.4 Z" fill="#2aa6c4" fill-opacity="0.85"/>
<path d="M137.9 59.7 L134.5 72.2 L131.5 84.7 L128.9 97.2 L126.4 109.8 L124.2 122.4 L122.3 135.1 L124.4 150.8 L128.0 163.1 L131.9 175.2 L136.0 187.4 L140.3 199.4 L144.9 211.4 L161.7 216.4 L174.6 217.1 L175.4 212.9 L163.3 208.6 L155.1 208.5 L152.6 195.9 L150.0 183.4 L147.0 170.9 L143.9 158.5 L140.5 146.2 L138.7 137.1 L139.9 124.4 L140.9 111.6 L141.6 98.8 L142.1 86.0 L142.4 73.2 L142.1 60.3 Z" fill="#1a7a98" fill-opacity="0.6"/>
<path d="M139.2 59.9 L136.9 72.5 L134.8 85.1 L132.8 97.7 L130.9 110.4 L129.1 123.0 L127.4 135.7 L129.4 149.4 L132.9 161.7 L136.6 173.9 L140.3 186.1 L144.1 198.3 L148.0 210.5 L162.2 214.0 L174.8 215.8 L175.2 214.2 L162.8 211.0 L151.9 209.4 L148.8 197.0 L145.6 184.6 L142.3 172.2 L139.0 159.9 L135.5 147.6 L133.6 136.5 L135.1 123.8 L136.4 111.1 L137.7 98.3 L138.8 85.6 L139.9 72.9 L140.8 60.1 Z" fill="#2aa6c4" fill-opacity="0.85"/>
<path d="M173.6 213.1 L160.6 219.7 L148.0 226.9 L134.7 235.1 L123.8 244.7 L113.1 254.4 L102.5 264.3 L92.2 274.4 L82.1 284.7 L72.2 295.2 L62.5 305.9 L53.2 316.3 L43.0 326.6 L33.0 337.2 L23.5 348.2 L26.5 351.8 L38.9 344.0 L50.8 335.8 L62.6 327.3 L74.1 317.5 L84.8 307.8 L95.3 297.9 L105.6 287.8 L115.7 277.5 L125.6 266.9 L135.3 256.2 L144.9 245.3 L155.0 236.7 L165.9 227.1 L176.4 216.9 Z" fill="#1a7a98" fill-opacity="0.6"/>
<path d="M174.5 214.3 L162.2 222.0 L150.2 229.9 L137.8 238.3 L127.3 248.2 L116.9 258.3 L106.6 268.4 L96.4 278.5 L86.2 288.8 L76.1 299.1 L66.1 309.5 L56.1 319.7 L45.5 329.5 L34.9 339.3 L24.4 349.3 L25.6 350.7 L37.1 341.9 L48.4 332.9 L59.7 323.9 L70.5 313.9 L80.9 303.9 L91.2 293.8 L101.5 283.6 L111.6 273.4 L121.7 263.1 L131.8 252.7 L141.7 242.2 L152.8 233.7 L164.2 224.8 L175.5 215.7 Z" fill="#2aa6c4" fill-opacity="0.85"/>
<path d="M162.7 289.3 L159.2 293.8 L156.2 298.5 L153.5 303.2 L151.0 308.1 L148.8 313.0 L146.9 317.9 L145.2 323.0 L143.8 328.1 L142.7 333.4 L142.2 337.3 L140.7 342.5 L139.4 347.8 L138.4 353.2 L137.9 358.9 L142.1 361.1 L146.4 357.2 L150.1 353.2 L153.6 348.9 L156.8 344.6 L159.7 338.5 L161.7 333.5 L163.3 328.4 L164.7 323.3 L165.9 318.1 L166.7 312.8 L167.3 307.4 L167.7 301.9 L167.8 296.4 L167.3 290.7 Z" fill="#2ab2c8" fill-opacity="0.6"/>
<path d="M164.1 289.7 L161.8 294.6 L159.8 299.5 L157.8 304.5 L155.9 309.5 L154.1 314.5 L152.4 319.6 L150.8 324.7 L149.4 329.8 L148.0 334.9 L146.7 339.6 L144.7 344.5 L142.7 349.5 L140.9 354.5 L139.2 359.6 L140.8 360.4 L143.9 356.0 L146.8 351.5 L149.6 346.9 L152.3 342.3 L154.5 336.9 L156.2 331.8 L157.7 326.7 L159.2 321.6 L160.6 316.5 L161.9 311.3 L163.0 306.1 L164.1 300.9 L165.1 295.6 L165.9 290.3 Z" fill="#4cd2e4" fill-opacity="0.85"/>
<path d="M16.1 422.1 L31.4 416.0 L46.4 409.4 L61.2 402.6 L74.4 401.8 L90.6 400.9 L106.9 399.7 L120.1 401.7 L136.1 404.7 L152.2 407.5 L170.6 407.5 L186.8 405.5 L202.9 403.1 L219.1 400.6 L235.2 397.4 L234.8 392.6 L218.5 391.6 L202.1 391.2 L185.8 391.0 L169.5 391.2 L155.6 390.1 L139.8 386.5 L123.8 383.1 L105.0 381.1 L88.9 383.2 L72.7 385.5 L54.2 390.0 L40.5 398.9 L27.0 408.2 L13.9 417.9 Z" fill="#1a7a98" fill-opacity="0.6"/>
<path d="M15.4 420.8 L30.1 413.6 L44.6 406.2 L59.0 398.7 L73.9 396.7 L90.1 395.4 L106.3 393.9 L121.3 395.9 L137.2 399.1 L153.2 402.1 L170.2 402.4 L186.5 401.0 L202.7 399.4 L218.9 397.8 L235.1 395.9 L234.9 394.1 L218.6 394.4 L202.4 394.9 L186.1 395.5 L169.8 396.2 L154.6 395.5 L138.6 392.1 L122.7 388.9 L105.6 386.9 L89.4 388.7 L73.3 390.5 L56.4 393.9 L42.3 402.2 L28.4 410.6 L14.6 419.2 Z" fill="#2aa6c4" fill-opacity="0.85"/>
<path d="M28.7 441.7 L35.1 448.8 L41.8 455.5 L48.7 462.1 L55.7 468.4 L62.9 474.5 L73.5 479.9 L82.4 483.0 L91.3 485.8 L102.7 488.0 L112.1 487.8 L121.6 487.3 L131.0 486.6 L140.4 485.6 L149.9 484.1 L150.1 479.9 L140.8 477.6 L131.4 475.9 L122.1 474.5 L112.7 473.2 L103.3 472.2 L96.6 470.1 L87.7 467.0 L78.7 464.2 L72.4 461.9 L64.5 456.8 L56.4 451.8 L48.2 447.0 L39.9 442.4 L31.3 438.3 Z" fill="#1a7a98" fill-opacity="0.6"/>
<path d="M29.5 440.6 L36.6 446.9 L43.8 452.9 L51.1 458.9 L58.4 464.8 L65.8 470.6 L75.1 475.0 L84.0 478.0 L92.9 481.0 L102.9 483.1 L112.3 483.3 L121.7 483.3 L131.1 483.3 L140.5 483.1 L150.0 482.8 L150.0 481.2 L140.7 480.1 L131.3 479.2 L121.9 478.4 L112.5 477.7 L103.1 477.1 L94.9 475.0 L86.0 472.0 L77.1 469.0 L69.4 465.8 L61.8 460.4 L54.0 455.0 L46.3 449.7 L38.4 444.4 L30.5 439.4 Z" fill="#2aa6c4" fill-opacity="0.85"/>
<path d="M243.2 388.9 L235.3 398.8 L227.8 408.9 L220.6 419.1 L213.6 429.5 L206.7 439.9 L200.3 451.8 L195.4 463.3 L190.7 474.9 L186.2 486.6 L182.0 498.3 L178.0 509.3 L172.8 520.7 L167.7 532.2 L163.2 544.0 L166.8 546.0 L174.7 536.1 L182.0 526.0 L189.2 515.7 L195.4 503.9 L200.8 492.6 L205.9 481.3 L210.9 469.8 L215.5 458.2 L220.4 447.9 L226.1 436.8 L231.7 425.6 L237.0 414.3 L242.2 402.8 L246.8 391.1 Z" fill="#1a7a98" fill-opacity="0.6"/>
<path d="M244.3 389.6 L237.4 400.0 L230.7 410.5 L224.0 421.1 L217.4 431.7 L211.0 442.4 L205.0 453.8 L200.2 465.3 L195.4 476.9 L190.7 488.4 L186.1 500.1 L181.5 511.3 L175.6 522.3 L169.9 533.4 L164.3 544.6 L165.7 545.4 L172.5 534.9 L179.2 524.3 L185.7 513.7 L191.3 502.2 L196.3 490.7 L201.2 479.3 L206.1 467.8 L210.8 456.2 L216.1 445.4 L222.2 434.5 L228.2 423.6 L234.2 412.6 L240.0 401.5 L245.7 390.4 Z" fill="#2aa6c4" fill-opacity="0.85"/>
<path d="M323.3 93.8 L317.4 98.8 L311.9 104.2 L306.6 109.7 L301.5 115.3 L296.6 121.1 L291.6 128.0 L287.9 134.6 L284.4 141.3 L281.1 148.1 L278.1 155.0 L275.2 162.1 L272.5 169.2 L270.1 176.5 L268.2 184.0 L271.8 186.0 L277.1 180.3 L281.9 174.3 L286.5 168.2 L290.8 162.0 L295.0 155.7 L298.9 149.2 L302.7 142.6 L306.2 136.0 L309.5 130.3 L313.4 123.8 L317.1 117.2 L320.6 110.4 L323.9 103.5 L326.7 96.2 Z" fill="#1a7a98" fill-opacity="0.6"/>
<path d="M324.3 94.5 L319.4 100.3 L314.6 106.1 L309.9 112.0 L305.2 118.0 L300.6 124.0 L296.1 130.5 L292.5 137.1 L288.9 143.7 L285.4 150.4 L282.0 157.2 L278.7 164.0 L275.4 170.8 L272.3 177.6 L269.3 184.6 L270.7 185.4 L274.9 179.1 L279.0 172.7 L283.0 166.3 L286.9 159.8 L290.7 153.3 L294.5 146.8 L298.1 140.2 L301.7 133.5 L305.5 127.5 L309.7 121.2 L313.8 114.8 L317.9 108.5 L321.9 102.0 L325.7 95.5 Z" fill="#2aa6c4" fill-opacity="0.85"/>
<path d="M298.1 390.9 L298.9 396.8 L300.2 402.4 L301.8 407.9 L303.5 413.3 L305.4 418.5 L307.6 423.7 L310.0 428.8 L312.6 433.7 L315.4 438.5 L318.5 443.3 L321.8 447.9 L325.2 452.4 L328.9 456.8 L333.1 460.9 L336.9 459.1 L336.1 453.2 L334.8 447.6 L333.2 442.1 L331.5 436.7 L329.6 431.5 L327.4 426.3 L325.0 421.2 L322.4 416.3 L319.6 411.5 L316.5 406.7 L313.2 402.1 L309.8 397.6 L306.1 393.2 L301.9 389.1 Z" fill="#1a7a98" fill-opacity="0.6"/>
<path d="M299.3 390.4 L301.1 395.7 L303.2 400.9 L305.3 406.1 L307.5 411.2 L309.8 416.3 L312.2 421.4 L314.6 426.4 L317.2 431.4 L319.8 436.3 L322.5 441.2 L325.3 446.1 L328.2 450.9 L331.1 455.7 L334.3 460.4 L335.7 459.6 L333.9 454.3 L331.8 449.1 L329.7 443.9 L327.5 438.8 L325.2 433.7 L322.8 428.6 L320.4 423.6 L317.8 418.6 L315.2 413.7 L312.5 408.8 L309.7 403.9 L306.8 399.1 L303.9 394.3 L300.7 389.6 Z" fill="#2aa6c4" fill-opacity="0.85"/>
<path d="M18.5 431.0 L22.9 440.6 L27.7 450.0 L32.7 459.2 L37.9 468.3 L43.3 477.3 L48.8 486.2 L55.9 496.2 L63.7 503.1 L71.7 509.9 L79.8 516.6 L88.0 523.0 L96.4 529.4 L104.9 535.5 L113.8 541.4 L116.2 538.6 L109.6 530.4 L102.7 522.5 L95.6 514.7 L88.3 507.1 L80.9 499.7 L73.4 492.4 L65.8 485.3 L60.8 478.2 L54.8 469.7 L48.5 461.3 L42.1 453.0 L35.5 444.8 L28.7 436.8 L21.5 429.0 Z" fill="#1a7a98" fill-opacity="0.6"/>
<path d="M19.4 430.4 L24.7 439.4 L30.1 448.4 L35.6 457.3 L41.2 466.2 L46.8 475.0 L52.5 483.7 L58.9 492.8 L66.7 499.8 L74.5 506.8 L82.4 513.6 L90.3 520.5 L98.3 527.2 L106.4 533.9 L114.5 540.5 L115.5 539.5 L108.2 532.0 L100.7 524.6 L93.2 517.3 L85.7 510.1 L78.1 502.9 L70.4 495.7 L62.7 488.7 L57.1 480.7 L51.2 472.1 L45.2 463.5 L39.2 454.9 L33.1 446.4 L26.9 438.0 L20.6 429.6 Z" fill="#2aa6c4" fill-opacity="0.85"/>
<path d="M98.2 480.1 L96.9 484.9 L96.1 489.6 L95.5 494.4 L95.1 499.1 L94.9 503.7 L94.9 508.4 L95.2 513.1 L95.6 517.7 L96.3 522.3 L97.2 526.9 L98.3 531.5 L99.6 536.1 L101.2 540.6 L103.2 545.1 L106.8 544.9 L108.1 540.1 L108.9 535.4 L109.5 530.6 L109.9 525.9 L110.1 521.3 L110.1 516.6 L109.8 511.9 L109.4 507.3 L108.7 502.7 L107.8 498.1 L106.7 493.5 L105.4 488.9 L103.8 484.4 L101.8 479.9 Z" fill="#1a7a98" fill-opacity="0.6"/>
<path d="M99.3 480.1 L99.0 484.7 L98.9 489.4 L98.9 494.1 L99.0 498.8 L99.2 503.4 L99.4 508.1 L99.7 512.7 L100.1 517.4 L100.6 522.0 L101.2 526.6 L101.8 531.2 L102.5 535.9 L103.3 540.5 L104.3 545.1 L105.7 544.9 L106.0 540.3 L106.1 535.6 L106.1 530.9 L106.0 526.2 L105.8 521.6 L105.6 516.9 L105.3 512.3 L104.9 507.6 L104.4 503.0 L103.8 498.4 L103.2 493.8 L102.5 489.1 L101.7 484.5 L100.7 479.9 Z" fill="#2aa6c4" fill-opacity="0.85"/>
<path d="M19.5 292.0 L24.4 295.2 L29.4 297.8 L34.5 300.2 L39.7 302.4 L44.9 304.4 L50.1 306.1 L55.5 307.5 L54.7 307.0 L58.1 311.4 L61.7 315.7 L65.5 319.8 L69.4 323.8 L73.6 327.6 L78.3 331.2 L81.7 328.8 L80.3 323.2 L78.3 317.9 L76.2 312.7 L73.8 307.6 L71.3 302.7 L68.5 297.9 L59.5 291.2 L54.1 290.0 L48.7 289.0 L43.2 288.3 L37.6 287.8 L32.0 287.5 L26.3 287.5 L20.5 288.0 Z" fill="#1a7a98" fill-opacity="0.6"/>
<path d="M19.8 290.8 L25.0 292.8 L30.2 294.6 L35.5 296.4 L40.8 298.0 L46.0 299.6 L51.4 301.1 L56.7 302.5 L59.0 304.2 L62.2 308.7 L65.4 313.2 L68.8 317.6 L72.2 321.9 L75.7 326.3 L79.3 330.4 L80.7 329.6 L78.2 324.6 L75.6 319.7 L72.8 314.9 L70.1 310.1 L67.2 305.4 L64.2 300.7 L58.3 296.3 L52.9 295.0 L47.5 293.8 L42.1 292.7 L36.7 291.6 L31.2 290.7 L25.7 289.9 L20.2 289.2 Z" fill="#2aa6c4" fill-opacity="0.85"/>
<ellipse cx="150" cy="330" rx="6" ry="10" fill="#62e6ee"/>
<ellipse cx="175" cy="25" rx="22" ry="11" transform="rotate(8 175 25)" fill="#26a6c4" fill-opacity="0.5"/>
<ellipse cx="175" cy="25" rx="13.0" ry="9.0" transform="rotate(8 175 25)" fill="#1a4ef5"/>
<ellipse cx="197" cy="75" rx="22" ry="11" transform="rotate(113 197 75)" fill="#26a6c4" fill-opacity="0.5"/>
<ellipse cx="197" cy="75" rx="13.0" ry="9.0" transform="rotate(113 197 75)" fill="#1a4ef5"/>
<ellipse cx="70" cy="135" rx="22" ry="11" transform="rotate(122 70 135)" fill="#26a6c4" fill-opacity="0.5"/>
<ellipse cx="70" cy="135" rx="13.0" ry="9.0" transform="rotate(122 70 135)" fill="#1a4ef5"/>
<ellipse cx="130" cy="142" rx="22" ry="11" transform="rotate(74 130 142)" fill="#26a6c4" fill-opacity="0.5"/>
<ellipse cx="130" cy="142" rx="13.0" ry="9.0" transform="rotate(74 130 142)" fill="#1a4ef5"/>
<ellipse cx="135" cy="245" rx="22" ry="11" transform="rotate(135 135 245)" fill="#26a6c4" fill-opacity="0.5"/>
<ellipse cx="135" cy="245" rx="13.0" ry="9.0" transform="rotate(135 135 245)" fill="#1a4ef5"/>
<ellipse cx="65" cy="318" rx="22" ry="11" transform="rotate(135 65 318)" fill="#26a6c4" fill-opacity="0.5"/>
<ellipse cx="65" cy="318" rx="13.0" ry="9.0" transform="rotate(135 65 318)" fill="#1a4ef5"/>
<ellipse cx="28" cy="350" rx="22" ry="11" transform="rotate(139 28 350)" fill="#26a6c4" fill-opacity="0.5"/>
<ellipse cx="28" cy="350" rx="13.0" ry="9.0" transform="rotate(139 28 350)" fill="#1a4ef5"/>
<ellipse cx="145" cy="350" rx="22" ry="11" transform="rotate(117 145 350)" fill="#26a6c4" fill-opacity="0.5"/>
<ellipse cx="145" cy="350" rx="13.0" ry="9.0" transform="rotate(117 145 350)" fill="#1a4ef5"/>
<ellipse cx="60" cy="392" rx="22" ry="11" transform="rotate(-6 60 392)" fill="#26a6c4" fill-opacity="0.5"/>
<ellipse cx="60" cy="392" rx="13.0" ry="9.0" transform="rotate(-6 60 392)" fill="#1a4ef5"/>
<ellipse cx="155" cy="402" rx="22" ry="11" transform="rotate(11 155 402)" fill="#26a6c4" fill-opacity="0.5"/>
<ellipse cx="155" cy="402" rx="13.0" ry="9.0" transform="rotate(11 155 402)" fill="#1a4ef5"/>
<ellipse cx="100" cy="480" rx="22" ry="11" transform="rotate(18 100 480)" fill="#26a6c4" fill-opacity="0.5"/>
<ellipse cx="100" cy="480" rx="13.0" ry="9.0" transform="rotate(18 100 480)" fill="#1a4ef5"/>
<ellipse cx="175" cy="515" rx="22" ry="11" transform="rotate(120 175 515)" fill="#26a6c4" fill-opacity="0.5"/>
<ellipse cx="175" cy="515" rx="13.0" ry="9.0" transform="rotate(120 175 515)" fill="#1a4ef5"/>
<ellipse cx="300" cy="130" rx="22" ry="11" transform="rotate(126 300 130)" fill="#26a6c4" fill-opacity="0.5"/>
<ellipse cx="300" cy="130" rx="13.0" ry="9.0" transform="rotate(126 300 130)" fill="#1a4ef5"/>
<ellipse cx="322" cy="112" rx="22" ry="11" transform="rotate(126 322 112)" fill="#26a6c4" fill-opacity="0.5"/>
<ellipse cx="322" cy="112" rx="13.0" ry="9.0" transform="rotate(126 322 112)" fill="#1a4ef5"/>
<ellipse cx="332" cy="455" rx="22" ry="11" transform="rotate(63 332 455)" fill="#26a6c4" fill-opacity="0.5"/>
<ellipse cx="332" cy="455" rx="13.0" ry="9.0" transform="rotate(63 332 455)" fill="#1a4ef5"/>
<ellipse cx="20" cy="430" rx="22" ry="11" transform="rotate(56 20 430)" fill="#26a6c4" fill-opacity="0.5"/>
<ellipse cx="20" cy="430" rx="13.0" ry="9.0" transform="rotate(56 20 430)" fill="#1a4ef5"/>
</g></g>
<rect x="32.05" y="398.45" width="37.70" height="63.60" fill="none" stroke="#000" stroke-width="0.5" stroke-opacity="0.6"/>
<rect x="72.7" y="398.1" width="39.00" height="64.70" fill="#03202a"/>
<g clip-path="url(#c4)"><g transform="translate(72,397) scale(0.11682)" filter="url(#mb)">
<g filter="url(#tex)">
<polygon points="80,55 130,50 110,90" fill="#15708a" fill-opacity="1"/>
</g>
<path d="M97.9 10.2 L96.4 14.0 L95.4 17.7 L94.7 21.4 L94.2 25.0 L93.9 28.6 L93.9 32.3 L94.1 35.8 L94.6 39.4 L95.4 42.9 L96.3 46.4 L97.5 49.9 L99.0 53.4 L100.7 56.8 L102.9 60.2 L107.1 59.8 L108.6 56.0 L109.6 52.3 L110.3 48.6 L110.8 45.0 L111.1 41.4 L111.1 37.7 L110.9 34.2 L110.4 30.6 L109.6 27.1 L108.7 23.6 L107.5 20.1 L106.0 16.6 L104.3 13.2 L102.1 9.8 Z" fill="#1a7a98" fill-opacity="0.6"/>
<path d="M99.2 10.1 L98.8 13.7 L98.7 17.3 L98.6 21.0 L98.7 24.6 L98.8 28.2 L99.0 31.7 L99.3 35.3 L99.7 38.9 L100.2 42.4 L100.8 46.0 L101.5 49.5 L102.3 53.1 L103.1 56.6 L104.2 60.1 L105.8 59.9 L106.2 56.3 L106.3 52.7 L106.4 49.0 L106.3 45.4 L106.2 41.8 L106.0 38.3 L105.7 34.7 L105.3 31.1 L104.8 27.6 L104.2 24.0 L103.5 20.5 L102.7 16.9 L101.9 13.4 L100.8 9.9 Z" fill="#2aa6c4" fill-opacity="0.85"/>
<path d="M53.0 44.4 L49.2 51.1 L46.0 57.8 L43.0 64.6 L40.2 71.5 L37.7 78.4 L35.4 85.5 L33.3 92.5 L31.5 100.1 L30.3 107.3 L29.3 114.7 L28.5 122.0 L28.0 129.5 L27.7 136.9 L28.0 144.5 L32.0 145.5 L35.5 138.7 L38.4 131.8 L41.1 124.8 L43.5 117.8 L45.7 110.8 L47.7 103.7 L49.5 96.9 L51.4 89.8 L52.9 82.6 L54.3 75.3 L55.4 68.0 L56.3 60.6 L56.9 53.2 L57.0 45.6 Z" fill="#1a7a98" fill-opacity="0.6"/>
<path d="M54.2 44.8 L51.6 51.7 L49.2 58.7 L46.8 65.7 L44.6 72.7 L42.4 79.7 L40.3 86.8 L38.3 93.9 L36.5 101.2 L35.1 108.4 L33.7 115.6 L32.4 122.9 L31.2 130.2 L30.1 137.5 L29.2 144.8 L30.8 145.2 L33.1 138.1 L35.2 131.1 L37.2 124.0 L39.1 116.8 L40.9 109.7 L42.7 102.5 L44.5 95.6 L46.4 88.5 L48.2 81.3 L49.9 74.2 L51.5 67.0 L53.1 59.7 L54.5 52.5 L55.8 45.2 Z" fill="#2aa6c4" fill-opacity="0.85"/>
<path d="M213.5 91.8 L219.1 99.0 L225.1 105.7 L231.2 112.2 L246.1 116.5 L254.6 114.0 L263.0 111.3 L271.4 108.3 L279.6 105.1 L288.1 101.1 L296.0 96.9 L303.7 92.4 L311.3 87.7 L318.7 82.7 L326.0 77.2 L324.0 72.8 L315.1 74.5 L306.4 76.7 L297.8 79.2 L289.3 81.9 L280.9 84.9 L273.1 87.7 L264.7 90.6 L256.5 93.9 L248.4 97.4 L240.3 101.1 L240.3 101.0 L232.6 96.4 L224.7 92.0 L216.5 88.2 Z" fill="#1a7a98" fill-opacity="0.6"/>
<path d="M214.4 90.7 L220.8 96.9 L227.4 102.8 L234.0 108.7 L244.3 111.7 L252.7 108.9 L261.0 105.9 L269.3 102.8 L277.6 99.7 L285.9 96.1 L293.9 92.2 L301.8 88.3 L309.7 84.3 L317.6 80.2 L325.4 75.8 L324.6 74.2 L316.2 77.0 L307.9 80.1 L299.6 83.3 L291.4 86.5 L283.2 89.9 L275.1 93.0 L266.8 96.1 L258.5 99.3 L250.3 102.5 L242.1 105.9 L237.5 104.4 L230.3 99.3 L223.0 94.2 L215.6 89.3 Z" fill="#2aa6c4" fill-opacity="0.85"/>
<path d="M9.9 237.4 L17.2 239.9 L24.6 241.9 L32.1 243.6 L39.5 245.0 L47.0 246.1 L54.5 247.0 L61.8 247.6 L69.3 248.0 L76.9 248.1 L84.4 248.0 L92.0 247.6 L99.6 246.9 L107.2 245.9 L114.8 244.4 L115.2 239.6 L107.8 237.0 L100.4 234.9 L93.0 233.2 L85.6 231.7 L78.2 230.4 L70.7 229.4 L63.2 228.8 L55.6 228.4 L48.0 228.4 L40.5 228.6 L32.9 229.1 L25.4 229.9 L17.8 231.0 L10.1 232.6 Z" fill="#1a7a98" fill-opacity="0.6"/>
<path d="M9.9 235.9 L17.4 237.2 L24.9 238.2 L32.3 239.1 L39.8 239.9 L47.3 240.6 L54.8 241.2 L62.3 241.8 L69.8 242.3 L77.3 242.6 L84.8 242.9 L92.3 243.1 L99.8 243.2 L107.4 243.2 L114.9 242.9 L115.1 241.1 L107.6 239.7 L100.2 238.6 L92.7 237.6 L85.2 236.7 L77.8 235.9 L70.3 235.2 L62.8 234.6 L55.2 234.2 L47.7 233.9 L40.2 233.7 L32.7 233.6 L25.1 233.6 L17.6 233.7 L10.1 234.1 Z" fill="#2aa6c4" fill-opacity="0.85"/>
<path d="M11.5 263.8 L13.8 266.1 L16.2 267.9 L18.7 269.6 L21.2 271.0 L23.8 272.3 L26.4 273.3 L29.1 274.1 L31.9 274.7 L34.7 275.1 L37.5 275.3 L40.4 275.3 L43.4 275.1 L46.4 274.7 L49.5 273.8 L50.5 270.2 L48.2 267.9 L45.8 266.1 L43.3 264.4 L40.8 263.0 L38.2 261.7 L35.6 260.7 L32.9 259.9 L30.1 259.3 L27.3 258.9 L24.5 258.7 L21.6 258.7 L18.6 258.9 L15.6 259.3 L12.5 260.2 Z" fill="#1a7a98" fill-opacity="0.6"/>
<path d="M11.8 262.7 L14.4 264.0 L17.0 265.1 L19.6 266.2 L22.2 267.2 L24.9 268.1 L27.6 269.0 L30.3 269.7 L33.0 270.4 L35.8 271.0 L38.5 271.5 L41.3 271.9 L44.1 272.3 L46.9 272.6 L49.8 272.7 L50.2 271.3 L47.6 270.0 L45.0 268.9 L42.4 267.8 L39.8 266.8 L37.1 265.9 L34.4 265.0 L31.7 264.3 L29.0 263.6 L26.2 263.0 L23.5 262.5 L20.7 262.1 L17.9 261.7 L15.1 261.4 L12.2 261.3 Z" fill="#2aa6c4" fill-opacity="0.85"/>
<path d="M14.0 291.8 L19.6 297.1 L25.5 301.8 L31.5 306.3 L37.6 310.6 L43.8 314.7 L50.2 318.6 L56.6 322.3 L63.2 325.7 L77.8 324.4 L83.7 320.0 L89.5 315.3 L95.3 310.4 L100.8 305.3 L106.1 299.8 L103.9 296.2 L96.6 298.6 L89.6 301.4 L82.7 304.4 L76.0 307.7 L69.4 311.1 L71.1 311.2 L64.7 307.5 L58.1 304.1 L51.4 300.9 L44.6 297.8 L37.6 295.0 L30.6 292.4 L23.4 290.1 L16.0 288.2 Z" fill="#1a7a98" fill-opacity="0.6"/>
<path d="M14.6 290.7 L20.8 294.9 L27.1 298.9 L33.4 302.8 L39.8 306.7 L46.2 310.4 L52.6 314.1 L59.1 317.7 L65.7 321.2 L75.2 320.3 L81.3 316.2 L87.4 311.9 L93.5 307.6 L99.5 303.2 L105.4 298.7 L104.6 297.3 L97.9 300.7 L91.3 304.2 L84.8 307.8 L78.4 311.5 L72.0 315.2 L68.7 315.7 L62.2 312.1 L55.6 308.6 L49.0 305.1 L42.4 301.8 L35.7 298.5 L29.0 295.3 L22.2 292.2 L15.4 289.3 Z" fill="#2aa6c4" fill-opacity="0.85"/>
<path d="M54.3 367.0 L58.8 370.5 L63.5 373.5 L68.3 376.2 L73.1 378.7 L78.0 381.0 L82.9 383.0 L88.0 384.9 L93.1 386.4 L97.4 387.5 L102.5 389.3 L107.7 390.8 L113.0 392.2 L118.4 393.3 L124.1 393.9 L125.9 390.1 L121.9 386.1 L117.6 382.5 L113.3 379.2 L108.8 376.1 L104.2 373.3 L98.4 370.7 L93.3 368.9 L88.2 367.3 L83.0 366.0 L77.7 364.9 L72.3 364.0 L66.9 363.3 L61.4 362.9 L55.7 363.0 Z" fill="#1a7a98" fill-opacity="0.6"/>
<path d="M54.7 365.8 L59.6 368.1 L64.5 370.3 L69.5 372.4 L74.5 374.4 L79.5 376.3 L84.6 378.2 L89.6 379.9 L94.8 381.6 L99.5 383.1 L104.4 385.2 L109.4 387.2 L114.4 389.2 L119.5 391.0 L124.7 392.7 L125.3 391.3 L120.8 388.3 L116.2 385.5 L111.5 382.8 L106.8 380.2 L102.1 377.7 L96.7 375.6 L91.7 373.8 L86.6 372.2 L81.4 370.6 L76.2 369.2 L71.1 367.8 L65.8 366.5 L60.6 365.3 L55.3 364.2 Z" fill="#2aa6c4" fill-opacity="0.85"/>
<path d="M104.8 352.1 L111.7 354.8 L118.8 356.9 L125.8 358.8 L132.9 360.4 L140.0 361.8 L147.2 363.0 L153.7 364.2 L160.9 365.4 L168.0 366.3 L175.3 367.0 L182.5 367.4 L189.8 367.7 L197.2 367.6 L204.6 367.1 L205.4 362.9 L198.6 359.8 L191.7 357.2 L184.8 354.8 L177.9 352.7 L170.9 350.8 L163.8 349.1 L156.7 347.7 L149.0 346.6 L141.8 346.1 L134.5 346.0 L127.3 346.0 L120.0 346.3 L112.6 346.8 L105.2 347.9 Z" fill="#1a7a98" fill-opacity="0.6"/>
<path d="M104.9 350.8 L112.0 352.3 L119.1 353.6 L126.3 354.8 L133.4 355.9 L140.6 357.0 L147.7 357.9 L154.7 359.1 L161.8 360.3 L168.9 361.5 L176.1 362.6 L183.2 363.5 L190.4 364.4 L197.6 365.2 L204.9 365.8 L205.1 364.2 L198.2 362.2 L191.1 360.4 L184.1 358.7 L177.1 357.1 L170.0 355.6 L162.9 354.1 L155.8 352.8 L148.4 351.7 L141.2 351.0 L134.0 350.4 L126.8 350.0 L119.6 349.6 L112.4 349.3 L105.1 349.2 Z" fill="#2aa6c4" fill-opacity="0.85"/>
<path d="M237.9 346.6 L240.6 354.1 L243.8 361.2 L247.3 368.1 L251.0 374.8 L254.9 381.4 L259.1 387.7 L264.9 394.7 L270.4 400.0 L276.1 405.1 L282.0 409.9 L288.2 414.5 L294.5 418.9 L301.1 423.1 L308.1 426.9 L311.9 423.1 L308.1 416.1 L303.9 409.5 L299.5 403.2 L294.9 397.0 L290.1 391.1 L285.0 385.4 L279.7 379.9 L275.7 375.3 L270.7 369.5 L265.5 363.9 L260.1 358.5 L254.5 353.2 L248.6 348.1 L242.1 343.4 Z" fill="#2ab2c8" fill-opacity="0.6"/>
<path d="M239.2 345.6 L243.0 352.2 L247.1 358.7 L251.3 365.1 L255.5 371.4 L259.8 377.7 L264.3 383.9 L269.5 390.2 L274.9 395.5 L280.4 400.7 L286.0 405.9 L291.7 411.0 L297.4 416.0 L303.3 421.0 L309.3 425.7 L310.7 424.3 L306.0 418.3 L301.0 412.4 L296.0 406.7 L290.9 401.0 L285.7 395.4 L280.5 389.9 L275.2 384.5 L270.6 379.2 L265.8 373.2 L261.0 367.3 L256.1 361.4 L251.2 355.7 L246.1 349.9 L240.8 344.4 Z" fill="#4cd2e4" fill-opacity="0.85"/>
<path d="M222.9 334.8 L220.1 345.5 L217.9 356.3 L215.9 367.1 L214.2 377.9 L212.7 388.7 L211.4 399.6 L210.4 410.4 L209.5 419.7 L206.9 430.3 L204.6 441.0 L202.6 451.7 L200.7 462.5 L199.1 473.4 L198.0 484.4 L202.0 485.6 L206.8 475.6 L211.0 465.4 L214.9 455.2 L218.7 444.9 L222.2 434.5 L225.4 424.1 L227.1 411.8 L227.9 400.9 L228.4 390.0 L228.7 379.1 L228.7 368.1 L228.5 357.2 L228.1 346.2 L227.1 335.2 Z" fill="#1a7a98" fill-opacity="0.6"/>
<path d="M224.2 334.9 L222.6 345.7 L221.2 356.6 L219.9 367.4 L218.7 378.3 L217.5 389.1 L216.5 400.0 L215.5 410.8 L214.4 421.1 L211.7 431.6 L209.0 442.2 L206.4 452.8 L203.9 463.4 L201.4 474.1 L199.2 484.8 L200.8 485.2 L204.4 474.9 L207.8 464.5 L211.1 454.1 L214.3 443.7 L217.5 433.2 L220.5 422.8 L221.9 411.4 L222.8 400.5 L223.5 389.6 L224.2 378.7 L224.8 367.8 L225.2 356.9 L225.6 346.0 L225.8 335.1 Z" fill="#2aa6c4" fill-opacity="0.85"/>
<path d="M93.1 419.2 L87.7 427.0 L82.9 435.1 L78.3 443.3 L74.0 451.5 L69.8 459.9 L65.9 468.3 L62.9 475.6 L58.0 483.5 L53.3 491.5 L48.8 499.7 L44.6 508.0 L40.5 516.4 L36.6 525.0 L33.2 533.9 L36.8 536.1 L43.4 529.3 L49.5 522.2 L55.4 514.9 L61.1 507.5 L66.6 500.0 L71.9 492.4 L77.0 484.6 L81.2 474.7 L84.4 466.0 L87.4 457.1 L90.2 448.2 L92.8 439.2 L95.1 430.1 L96.9 420.8 Z" fill="#1a7a98" fill-opacity="0.6"/>
<path d="M94.3 419.7 L90.0 428.0 L86.0 436.4 L82.0 444.8 L78.1 453.3 L74.3 461.8 L70.6 470.3 L67.2 478.4 L62.3 486.2 L57.4 494.2 L52.6 502.1 L47.9 510.2 L43.3 518.2 L38.7 526.3 L34.3 534.6 L35.7 535.4 L41.3 528.0 L46.7 520.4 L52.0 512.8 L57.3 505.1 L62.5 497.4 L67.6 489.6 L72.6 481.8 L76.4 472.7 L79.9 464.1 L83.3 455.4 L86.5 446.7 L89.7 437.9 L92.8 429.2 L95.7 420.3 Z" fill="#2aa6c4" fill-opacity="0.85"/>
<path d="M273.3 421.7 L275.8 427.1 L278.7 432.2 L281.8 437.0 L285.1 441.6 L288.5 446.1 L292.2 450.4 L296.1 454.4 L301.9 459.1 L306.8 461.8 L311.8 464.4 L317.0 466.7 L322.3 468.8 L327.8 470.6 L333.7 472.0 L336.3 468.0 L332.8 463.2 L329.0 458.8 L325.0 454.7 L320.9 450.8 L316.6 447.1 L312.2 443.6 L309.4 441.1 L305.4 437.2 L301.1 433.5 L296.6 430.1 L292.0 426.8 L287.2 423.7 L282.1 420.8 L276.7 418.3 Z" fill="#1a7a98" fill-opacity="0.6"/>
<path d="M274.4 420.6 L277.8 425.2 L281.3 429.5 L284.9 433.8 L288.7 438.1 L292.4 442.2 L296.3 446.3 L300.2 450.3 L305.0 454.3 L309.8 457.3 L314.6 460.2 L319.5 463.0 L324.4 465.7 L329.4 468.3 L334.5 470.7 L335.5 469.3 L331.3 465.5 L326.9 461.9 L322.5 458.4 L318.1 455.0 L313.6 451.6 L309.0 448.4 L305.3 445.2 L301.3 441.3 L297.2 437.4 L293.1 433.7 L288.8 429.9 L284.5 426.3 L280.2 422.8 L275.6 419.4 Z" fill="#2aa6c4" fill-opacity="0.85"/>
<path d="M328.1 203.6 L322.8 207.5 L318.0 211.6 L313.5 216.0 L309.2 220.4 L305.1 225.1 L301.2 229.9 L297.6 234.8 L294.2 239.9 L291.0 245.2 L289.8 248.7 L285.4 253.2 L281.2 257.8 L277.2 262.7 L273.6 268.1 L276.4 271.9 L282.6 269.9 L288.4 267.4 L294.1 264.7 L299.6 261.8 L305.6 255.4 L309.4 250.6 L313.1 245.7 L316.5 240.5 L319.7 235.3 L322.6 229.8 L325.3 224.2 L327.9 218.5 L330.2 212.6 L331.9 206.4 Z" fill="#1a7a98" fill-opacity="0.6"/>
<path d="M329.3 204.5 L325.1 209.1 L321.1 213.8 L317.2 218.5 L313.3 223.3 L309.6 228.2 L306.0 233.2 L302.4 238.2 L298.9 243.2 L295.5 248.4 L292.8 252.8 L288.1 256.7 L283.5 260.8 L278.9 264.9 L274.5 269.3 L275.5 270.7 L280.9 267.7 L286.2 264.5 L291.4 261.1 L296.5 257.7 L301.1 252.2 L304.7 247.3 L308.3 242.3 L311.8 237.2 L315.2 232.1 L318.5 226.9 L321.7 221.7 L324.8 216.4 L327.9 211.0 L330.7 205.5 Z" fill="#2aa6c4" fill-opacity="0.85"/>
<path d="M214.5 282.3 L224.0 286.6 L233.7 290.2 L243.4 293.6 L253.1 296.7 L263.0 299.6 L270.1 302.5 L279.1 307.4 L288.2 312.0 L297.5 316.3 L306.8 320.4 L316.3 324.2 L324.7 328.5 L334.0 333.0 L343.7 337.0 L346.3 333.0 L339.1 325.5 L331.5 318.6 L323.0 311.4 L314.4 305.9 L305.6 300.5 L296.8 295.4 L287.8 290.6 L278.7 286.0 L266.8 282.2 L256.6 280.7 L246.5 279.5 L236.2 278.5 L225.9 277.8 L215.5 277.7 Z" fill="#1a7a98" fill-opacity="0.6"/>
<path d="M214.8 280.9 L224.6 283.8 L234.5 286.6 L244.3 289.2 L254.2 291.7 L264.1 294.2 L272.7 297.4 L281.8 302.2 L290.9 306.8 L300.0 311.4 L309.2 315.9 L318.4 320.3 L326.8 325.4 L335.6 330.7 L344.5 335.7 L345.5 334.3 L337.5 327.8 L329.4 321.6 L320.9 315.4 L312.0 310.3 L303.1 305.4 L294.1 300.6 L285.1 295.8 L276.0 291.1 L265.6 287.6 L255.5 285.7 L245.5 283.8 L235.4 282.1 L225.3 280.5 L215.2 279.1 Z" fill="#2aa6c4" fill-opacity="0.85"/>
<path d="M178.7 401.3 L180.2 405.2 L182.1 408.7 L184.1 412.0 L186.3 415.3 L188.6 418.3 L191.0 421.3 L193.6 424.0 L195.5 426.1 L198.1 428.9 L200.8 431.6 L203.7 434.2 L206.7 436.7 L209.9 439.1 L213.5 441.1 L216.5 438.9 L215.5 434.9 L214.2 431.1 L212.6 427.5 L211.0 424.0 L209.1 420.6 L207.1 417.4 L204.0 413.6 L201.3 411.0 L198.3 408.6 L195.3 406.3 L192.0 404.1 L188.7 402.1 L185.2 400.2 L181.3 398.7 Z" fill="#1a7a98" fill-opacity="0.6"/>
<path d="M179.5 400.5 L181.8 403.6 L184.1 406.6 L186.6 409.6 L189.1 412.5 L191.6 415.3 L194.2 418.1 L196.9 420.8 L199.1 423.4 L201.5 426.4 L203.9 429.3 L206.4 432.1 L209.0 435.0 L211.7 437.8 L214.4 440.4 L215.6 439.6 L213.8 436.2 L211.9 432.8 L209.9 429.6 L207.8 426.4 L205.7 423.2 L203.5 420.1 L200.8 416.9 L198.1 414.2 L195.3 411.6 L192.5 409.1 L189.6 406.6 L186.6 404.1 L183.6 401.8 L180.5 399.5 Z" fill="#2aa6c4" fill-opacity="0.85"/>
<ellipse cx="105" cy="65" rx="22" ry="11" transform="rotate(84 105 65)" fill="#26a6c4" fill-opacity="0.5"/>
<ellipse cx="105" cy="65" rx="13.0" ry="9.0" transform="rotate(84 105 65)" fill="#1a4ef5"/>
<ellipse cx="30" cy="130" rx="22" ry="11" transform="rotate(103 30 130)" fill="#26a6c4" fill-opacity="0.5"/>
<ellipse cx="30" cy="130" rx="13.0" ry="9.0" transform="rotate(103 30 130)" fill="#1a4ef5"/>
<ellipse cx="240" cy="110" rx="22" ry="11" transform="rotate(39 240 110)" fill="#26a6c4" fill-opacity="0.5"/>
<ellipse cx="240" cy="110" rx="13.0" ry="9.0" transform="rotate(39 240 110)" fill="#1a4ef5"/>
<ellipse cx="312" cy="85" rx="22" ry="11" transform="rotate(-24 312 85)" fill="#26a6c4" fill-opacity="0.5"/>
<ellipse cx="312" cy="85" rx="13.0" ry="9.0" transform="rotate(-24 312 85)" fill="#1a4ef5"/>
<ellipse cx="15" cy="240" rx="22" ry="11" transform="rotate(3 15 240)" fill="#26a6c4" fill-opacity="0.5"/>
<ellipse cx="15" cy="240" rx="13.0" ry="9.0" transform="rotate(3 15 240)" fill="#1a4ef5"/>
<ellipse cx="62" cy="238" rx="22" ry="11" transform="rotate(4 62 238)" fill="#26a6c4" fill-opacity="0.5"/>
<ellipse cx="62" cy="238" rx="13.0" ry="9.0" transform="rotate(4 62 238)" fill="#1a4ef5"/>
<ellipse cx="72" cy="320" rx="22" ry="11" transform="rotate(-32 72 320)" fill="#26a6c4" fill-opacity="0.5"/>
<ellipse cx="72" cy="320" rx="13.0" ry="9.0" transform="rotate(-32 72 320)" fill="#1a4ef5"/>
<ellipse cx="85" cy="385" rx="22" ry="11" transform="rotate(18 85 385)" fill="#26a6c4" fill-opacity="0.5"/>
<ellipse cx="85" cy="385" rx="13.0" ry="9.0" transform="rotate(18 85 385)" fill="#1a4ef5"/>
<ellipse cx="145" cy="355" rx="22" ry="11" transform="rotate(6 145 355)" fill="#26a6c4" fill-opacity="0.5"/>
<ellipse cx="145" cy="355" rx="13.0" ry="9.0" transform="rotate(6 145 355)" fill="#1a4ef5"/>
<ellipse cx="215" cy="430" rx="22" ry="11" transform="rotate(105 215 430)" fill="#26a6c4" fill-opacity="0.5"/>
<ellipse cx="215" cy="430" rx="13.0" ry="9.0" transform="rotate(105 215 430)" fill="#1a4ef5"/>
<ellipse cx="25" cy="540" rx="22" ry="11" transform="rotate(122 25 540)" fill="#26a6c4" fill-opacity="0.5"/>
<ellipse cx="25" cy="540" rx="13.0" ry="9.0" transform="rotate(122 25 540)" fill="#1a4ef5"/>
<ellipse cx="235" cy="392" rx="22" ry="11" transform="rotate(95 235 392)" fill="#26a6c4" fill-opacity="0.5"/>
<ellipse cx="235" cy="392" rx="13.0" ry="9.0" transform="rotate(95 235 392)" fill="#1a4ef5"/>
<ellipse cx="305" cy="445" rx="22" ry="11" transform="rotate(45 305 445)" fill="#26a6c4" fill-opacity="0.5"/>
<ellipse cx="305" cy="445" rx="13.0" ry="9.0" transform="rotate(45 305 445)" fill="#1a4ef5"/>
<ellipse cx="325" cy="245" rx="22" ry="11" transform="rotate(125 325 245)" fill="#26a6c4" fill-opacity="0.5"/>
<ellipse cx="325" cy="245" rx="13.0" ry="9.0" transform="rotate(125 325 245)" fill="#1a4ef5"/>
<ellipse cx="270" cy="292" rx="22" ry="11" transform="rotate(12 270 292)" fill="#26a6c4" fill-opacity="0.5"/>
<ellipse cx="270" cy="292" rx="13.0" ry="9.0" transform="rotate(12 270 292)" fill="#1a4ef5"/>
<ellipse cx="332" cy="335" rx="22" ry="11" transform="rotate(34 332 335)" fill="#26a6c4" fill-opacity="0.5"/>
<ellipse cx="332" cy="335" rx="13.0" ry="9.0" transform="rotate(34 332 335)" fill="#1a4ef5"/>
</g></g>
<rect x="72.95" y="398.35" width="38.50" height="64.20" fill="none" stroke="#000" stroke-width="0.5" stroke-opacity="0.6"/>
<rect x="114.3" y="398.1" width="39.70" height="64.70" fill="#010f14"/>
<g clip-path="url(#c5)"><g transform="translate(113,397) scale(0.11669)" filter="url(#mb)">
<path d="M23.1 117.5 L31.4 127.0 L40.1 135.8 L49.0 144.3 L58.1 152.6 L67.4 160.5 L75.0 167.5 L83.5 176.3 L92.2 184.8 L101.3 193.0 L110.6 201.0 L123.0 209.8 L134.6 213.9 L146.4 217.7 L158.6 220.8 L161.4 215.2 L151.9 207.1 L141.9 199.7 L131.8 192.7 L126.0 185.6 L118.0 176.3 L109.8 167.2 L101.3 158.5 L92.5 150.0 L81.4 141.3 L70.9 134.9 L60.3 128.8 L49.5 122.9 L38.4 117.3 L26.9 112.5 Z" fill="#2ab2c8" fill-opacity="0.6"/>
<path d="M24.3 116.0 L33.5 124.0 L43.0 131.8 L52.5 139.5 L62.1 147.1 L71.7 154.6 L80.4 162.1 L89.0 170.8 L97.7 179.4 L106.5 187.8 L115.3 196.2 L125.7 204.5 L136.9 209.5 L148.1 214.4 L159.5 219.1 L160.5 216.9 L150.2 210.4 L139.7 204.1 L129.1 198.0 L121.2 190.3 L112.8 181.5 L104.4 172.7 L95.8 164.0 L87.1 155.4 L77.0 147.3 L67.0 140.4 L56.8 133.6 L46.5 126.9 L36.2 120.3 L25.7 114.0 Z" fill="#4cd2e4" fill-opacity="0.85"/>
<path d="M188.4 70.1 L192.1 75.9 L196.3 81.0 L200.6 86.0 L205.1 90.7 L209.8 95.2 L214.7 99.4 L219.7 103.4 L224.9 107.1 L230.4 110.6 L236.0 113.8 L241.8 116.8 L247.7 119.6 L253.9 122.1 L260.4 124.1 L263.6 119.9 L259.9 114.1 L255.7 109.0 L251.4 104.0 L246.9 99.3 L242.2 94.8 L237.3 90.6 L232.3 86.6 L227.1 82.9 L221.6 79.4 L216.0 76.2 L210.2 73.2 L204.3 70.4 L198.1 67.9 L191.6 65.9 Z" fill="#2ab2c8" fill-opacity="0.6"/>
<path d="M189.4 68.8 L194.0 73.4 L198.8 77.7 L203.6 82.0 L208.5 86.2 L213.5 90.3 L218.5 94.3 L223.6 98.2 L228.8 102.0 L234.0 105.7 L239.4 109.3 L244.7 112.9 L250.2 116.3 L255.7 119.7 L261.4 122.8 L262.6 121.2 L258.0 116.6 L253.2 112.3 L248.4 108.0 L243.5 103.8 L238.5 99.7 L233.5 95.7 L228.4 91.8 L223.2 88.0 L218.0 84.3 L212.6 80.7 L207.3 77.1 L201.8 73.7 L196.3 70.3 L190.6 67.2 Z" fill="#4cd2e4" fill-opacity="0.85"/>
<path d="M158.7 131.6 L161.0 135.9 L163.7 139.8 L166.5 143.4 L169.5 146.9 L172.6 150.2 L175.9 153.3 L179.3 156.2 L183.3 159.0 L187.2 161.3 L191.2 163.4 L195.3 165.3 L199.6 167.1 L204.0 168.6 L208.8 169.7 L211.2 166.3 L208.7 162.1 L205.8 158.4 L202.8 154.9 L199.7 151.6 L196.4 148.5 L193.0 145.6 L189.8 143.1 L186.2 140.4 L182.5 137.9 L178.6 135.5 L174.5 133.4 L170.3 131.4 L166.0 129.7 L161.3 128.4 Z" fill="#1a7a98" fill-opacity="0.6"/>
<path d="M159.5 130.6 L162.6 134.0 L165.7 137.2 L169.0 140.3 L172.3 143.4 L175.6 146.4 L179.1 149.3 L182.5 152.1 L186.3 154.8 L190.0 157.3 L193.8 159.8 L197.6 162.1 L201.5 164.4 L205.5 166.6 L209.5 168.6 L210.5 167.4 L207.2 164.1 L203.9 161.1 L200.5 158.2 L197.1 155.3 L193.5 152.4 L190.0 149.7 L186.5 147.1 L183.0 144.4 L179.4 141.7 L175.7 139.0 L172.0 136.5 L168.3 134.0 L164.5 131.6 L160.5 129.4 Z" fill="#2aa6c4" fill-opacity="0.85"/>
<path d="M148.2 263.2 L149.0 267.5 L150.4 271.0 L151.9 274.0 L153.7 276.8 L155.6 279.1 L157.8 281.1 L160.2 282.8 L162.8 284.0 L165.6 284.9 L168.7 285.3 L171.9 285.5 L175.4 285.2 L179.0 284.6 L183.2 283.2 L186.8 276.8 L186.0 272.5 L184.6 269.0 L183.1 266.0 L181.3 263.2 L179.4 260.9 L177.2 258.9 L174.8 257.2 L172.2 256.0 L169.4 255.1 L166.3 254.7 L163.1 254.5 L159.6 254.8 L156.0 255.4 L151.8 256.8 Z" fill="#50dce8" fill-opacity="0.6"/>
<path d="M149.3 261.2 L151.2 263.7 L153.2 265.9 L155.4 268.0 L157.6 269.9 L159.9 271.7 L162.3 273.4 L164.7 274.9 L167.3 276.2 L169.9 277.4 L172.6 278.5 L175.4 279.4 L178.2 280.2 L181.2 280.9 L184.3 281.2 L185.7 278.8 L183.8 276.3 L181.8 274.1 L179.6 272.0 L177.4 270.1 L175.1 268.3 L172.7 266.6 L170.3 265.1 L167.7 263.8 L165.1 262.6 L162.4 261.5 L159.6 260.6 L156.8 259.8 L153.8 259.1 L150.7 258.8 Z" fill="#7af0f4" fill-opacity="0.85"/>
<path d="M4.0 258.0 L4.4 261.2 L5.2 263.5 L6.1 265.6 L7.1 267.3 L8.2 268.7 L9.5 269.7 L10.8 270.4 L12.3 270.7 L13.9 270.7 L15.7 270.3 L17.5 269.6 L19.5 268.5 L21.6 267.2 L24.0 265.0 L26.0 259.0 L25.6 255.8 L24.8 253.5 L23.9 251.4 L22.9 249.7 L21.8 248.3 L20.5 247.3 L19.2 246.6 L17.7 246.3 L16.1 246.3 L14.3 246.7 L12.5 247.4 L10.5 248.5 L8.4 249.8 L6.0 252.0 Z" fill="#50dce8" fill-opacity="0.6"/>
<path d="M4.6 256.1 L5.7 257.7 L6.9 258.9 L8.1 260.0 L9.3 260.9 L10.7 261.8 L12.0 262.5 L13.4 263.0 L14.9 263.5 L16.4 263.8 L17.9 263.9 L19.5 264.0 L21.1 263.9 L22.8 263.7 L24.6 263.1 L25.4 260.9 L24.3 259.3 L23.1 258.1 L21.9 257.0 L20.7 256.1 L19.3 255.2 L18.0 254.5 L16.6 254.0 L15.1 253.5 L13.6 253.2 L12.1 253.1 L10.5 253.0 L8.9 253.1 L7.2 253.3 L5.4 253.9 Z" fill="#7af0f4" fill-opacity="0.85"/>
<path d="M244.1 297.5 L247.8 301.4 L251.7 304.6 L255.8 307.6 L259.9 310.2 L264.2 312.7 L268.5 314.8 L273.0 316.6 L275.2 317.3 L279.5 319.6 L283.9 321.7 L288.5 323.5 L293.3 325.1 L298.2 326.4 L303.5 327.2 L306.5 322.8 L303.8 318.2 L300.8 314.1 L297.5 310.2 L294.1 306.6 L290.6 303.3 L286.9 300.2 L280.3 296.9 L275.7 295.4 L271.1 294.2 L266.3 293.2 L261.4 292.5 L256.4 292.1 L251.3 292.0 L245.9 292.5 Z" fill="#2ab2c8" fill-opacity="0.6"/>
<path d="M244.7 295.9 L248.9 298.5 L253.2 300.7 L257.5 302.9 L261.9 305.0 L266.3 306.9 L270.8 308.8 L275.3 310.5 L278.8 312.0 L282.9 314.5 L287.1 317.0 L291.3 319.4 L295.6 321.7 L299.9 323.9 L304.4 325.8 L305.6 324.2 L302.1 320.7 L298.4 317.5 L294.7 314.3 L291.0 311.3 L287.2 308.3 L283.3 305.5 L278.1 303.0 L273.5 301.4 L268.9 299.9 L264.3 298.5 L259.6 297.2 L254.9 296.0 L250.2 294.9 L245.3 294.1 Z" fill="#4cd2e4" fill-opacity="0.85"/>
<path d="M53.2 346.5 L58.5 356.6 L64.3 366.3 L70.4 375.8 L76.6 385.1 L83.1 394.3 L89.5 403.2 L96.1 412.3 L103.0 421.2 L110.0 429.9 L117.3 438.4 L128.4 446.3 L138.3 451.8 L148.3 457.1 L158.6 461.9 L161.4 458.1 L153.5 449.8 L145.2 442.1 L136.8 434.6 L130.4 428.6 L124.3 419.2 L117.9 410.0 L111.3 400.9 L104.4 392.0 L97.0 383.2 L89.4 374.9 L81.7 366.8 L73.7 358.8 L65.5 351.0 L56.8 343.5 Z" fill="#2ab2c8" fill-opacity="0.6"/>
<path d="M54.3 345.6 L60.7 354.8 L67.2 363.9 L73.9 373.0 L80.6 382.0 L87.4 390.9 L94.1 399.7 L100.8 408.8 L107.6 417.7 L114.4 426.6 L121.4 435.4 L131.0 442.7 L140.4 448.8 L149.9 454.9 L159.5 460.7 L160.5 459.3 L151.9 452.1 L143.1 445.1 L134.2 438.2 L126.4 431.6 L119.9 422.5 L113.3 413.4 L106.6 404.4 L99.8 395.5 L92.7 386.7 L85.5 378.1 L78.2 369.6 L70.8 361.1 L63.3 352.7 L55.7 344.4 Z" fill="#4cd2e4" fill-opacity="0.85"/>
<path d="M64.7 442.1 L70.6 444.8 L76.5 446.9 L82.4 448.8 L88.4 450.5 L94.3 451.9 L100.4 453.1 L106.4 454.0 L112.4 454.7 L118.5 455.3 L124.7 455.6 L130.9 455.6 L137.1 455.5 L143.3 455.0 L149.7 454.1 L150.3 449.9 L144.5 447.1 L138.7 444.9 L132.8 442.9 L126.8 441.2 L120.9 439.6 L114.8 438.4 L108.7 437.3 L102.6 436.7 L96.4 436.2 L90.3 436.0 L84.1 436.1 L77.9 436.3 L71.6 436.9 L65.3 437.9 Z" fill="#1a7a98" fill-opacity="0.6"/>
<path d="M64.9 440.8 L70.9 442.3 L76.9 443.6 L82.9 444.9 L88.9 446.0 L95.0 447.0 L101.1 448.0 L107.1 448.8 L113.1 449.7 L119.2 450.4 L125.3 451.1 L131.4 451.7 L137.6 452.2 L143.7 452.6 L149.9 452.8 L150.1 451.2 L144.2 449.6 L138.2 448.2 L132.2 446.9 L126.2 445.6 L120.1 444.5 L114.1 443.4 L108.0 442.5 L101.9 441.7 L95.8 441.1 L89.7 440.5 L83.6 440.0 L77.4 439.6 L71.3 439.3 L65.1 439.2 Z" fill="#2aa6c4" fill-opacity="0.85"/>
<path d="M211.4 456.9 L218.0 454.6 L224.2 451.8 L230.3 448.8 L236.2 445.6 L241.9 442.2 L247.5 438.5 L252.9 434.7 L258.0 430.7 L263.1 426.5 L268.1 422.1 L273.0 417.5 L277.7 412.6 L282.2 407.5 L286.4 401.9 L283.6 398.1 L277.0 400.2 L270.7 402.8 L264.6 405.7 L258.6 408.8 L252.8 412.1 L247.2 415.6 L241.5 419.5 L236.3 423.6 L231.2 428.0 L226.3 432.5 L221.6 437.3 L217.0 442.2 L212.6 447.4 L208.6 453.1 Z" fill="#1a7a98" fill-opacity="0.6"/>
<path d="M210.5 455.7 L216.3 452.4 L222.0 448.9 L227.6 445.2 L233.1 441.5 L238.6 437.8 L244.0 433.9 L249.4 430.0 L254.6 426.1 L259.9 422.1 L265.2 418.0 L270.4 413.8 L275.5 409.6 L280.6 405.3 L285.5 400.7 L284.5 399.3 L278.6 402.5 L272.9 405.9 L267.2 409.3 L261.6 412.9 L256.0 416.6 L250.5 420.3 L245.0 424.2 L239.8 428.2 L234.5 432.4 L229.4 436.6 L224.3 440.8 L219.3 445.2 L214.3 449.6 L209.5 454.3 Z" fill="#2aa6c4" fill-opacity="0.85"/>
<path d="M119.3 515.1 L121.2 518.4 L123.2 520.9 L125.4 523.1 L127.6 524.9 L129.9 526.4 L132.2 527.5 L134.7 528.3 L137.2 528.7 L139.9 528.7 L142.6 528.4 L145.4 527.7 L148.2 526.7 L151.2 525.3 L154.3 523.1 L155.7 516.9 L153.8 513.6 L151.8 511.1 L149.6 508.9 L147.4 507.1 L145.1 505.6 L142.8 504.5 L140.3 503.7 L137.8 503.3 L135.1 503.3 L132.4 503.6 L129.6 504.3 L126.8 505.3 L123.8 506.7 L120.7 508.9 Z" fill="#50dce8" fill-opacity="0.6"/>
<path d="M119.7 513.2 L122.0 514.8 L124.3 516.1 L126.7 517.3 L129.1 518.3 L131.5 519.3 L133.9 520.0 L136.4 520.7 L138.9 521.2 L141.5 521.5 L144.1 521.8 L146.7 521.9 L149.3 521.8 L152.0 521.7 L154.7 521.2 L155.3 518.8 L153.0 517.2 L150.7 515.9 L148.3 514.7 L145.9 513.7 L143.5 512.7 L141.1 512.0 L138.6 511.3 L136.1 510.8 L133.5 510.5 L130.9 510.2 L128.3 510.1 L125.7 510.2 L123.0 510.3 L120.3 510.8 Z" fill="#7af0f4" fill-opacity="0.85"/>
<path d="M293.5 481.8 L296.2 486.7 L299.3 491.2 L302.6 495.3 L306.1 499.3 L309.7 503.1 L313.5 506.7 L317.4 510.0 L321.6 513.2 L327.8 516.8 L332.8 518.4 L337.9 519.8 L343.1 520.9 L348.4 521.8 L354.0 522.1 L356.0 517.9 L352.3 513.7 L348.3 510.1 L344.1 506.8 L339.9 503.7 L335.5 500.8 L333.2 498.6 L329.2 495.3 L325.1 492.2 L320.8 489.3 L316.3 486.6 L311.7 484.1 L306.8 481.8 L301.9 479.7 L296.5 478.2 Z" fill="#1a7a98" fill-opacity="0.6"/>
<path d="M294.4 480.7 L298.0 484.6 L301.7 488.3 L305.4 491.9 L309.2 495.4 L313.1 498.8 L317.1 502.2 L321.1 505.5 L325.2 508.7 L330.2 511.8 L335.0 513.8 L339.8 515.8 L344.7 517.6 L349.6 519.3 L354.6 520.8 L355.4 519.2 L351.1 516.2 L346.6 513.5 L342.2 510.8 L337.7 508.2 L333.1 505.7 L329.6 503.1 L325.6 499.9 L321.5 496.7 L317.3 493.5 L313.1 490.5 L308.9 487.6 L304.5 484.7 L300.1 481.9 L295.6 479.3 Z" fill="#2aa6c4" fill-opacity="0.85"/>
<path d="M-2.0 21.6 L-2.5 24.9 L-2.3 27.7 L-2.0 30.4 L-1.4 32.8 L-0.6 35.1 L0.5 37.2 L1.8 39.1 L3.4 40.7 L5.2 42.2 L7.2 43.5 L9.5 44.7 L11.9 45.6 L14.7 46.3 L18.0 46.6 L22.0 43.4 L22.5 40.1 L22.3 37.3 L22.0 34.6 L21.4 32.2 L20.6 29.9 L19.5 27.8 L18.2 25.9 L16.6 24.3 L14.8 22.8 L12.8 21.5 L10.5 20.3 L8.1 19.4 L5.3 18.7 L2.0 18.4 Z" fill="#2ab2c8" fill-opacity="0.6"/>
<path d="M-0.8 20.6 L-0.1 23.0 L0.9 25.2 L1.9 27.3 L3.0 29.3 L4.2 31.3 L5.5 33.2 L6.9 35.0 L8.4 36.7 L9.9 38.4 L11.6 40.0 L13.3 41.6 L15.2 43.0 L17.1 44.4 L19.2 45.6 L20.8 44.4 L20.1 42.0 L19.1 39.8 L18.1 37.7 L17.0 35.7 L15.8 33.7 L14.5 31.8 L13.1 30.0 L11.6 28.3 L10.1 26.6 L8.4 25.0 L6.7 23.4 L4.8 22.0 L2.9 20.6 L0.8 19.4 Z" fill="#4cd2e4" fill-opacity="0.85"/>
<path d="M214.1 13.9 L218.6 18.0 L223.3 21.6 L228.2 25.0 L233.1 28.1 L238.1 31.1 L243.2 33.8 L248.4 36.3 L259.9 37.1 L265.2 34.8 L270.5 32.4 L275.7 29.7 L280.8 26.8 L285.8 23.7 L290.7 20.0 L289.3 16.0 L283.2 16.1 L277.3 16.7 L271.5 17.5 L265.8 18.6 L260.1 19.9 L254.5 21.4 L255.3 20.9 L250.0 18.7 L244.6 16.7 L239.1 14.8 L233.4 13.3 L227.7 11.9 L221.9 10.7 L215.9 10.1 Z" fill="#1a7a98" fill-opacity="0.6"/>
<path d="M214.7 12.7 L219.6 15.8 L224.7 18.6 L229.8 21.3 L234.9 24.0 L240.1 26.6 L245.3 29.1 L250.6 31.5 L258.2 32.2 L263.7 30.2 L269.0 28.1 L274.4 25.9 L279.7 23.7 L285.0 21.3 L290.3 18.8 L289.7 17.2 L284.0 18.4 L278.4 19.8 L272.8 21.3 L267.2 22.9 L261.7 24.5 L256.2 26.3 L253.2 25.7 L247.9 23.3 L242.6 21.1 L237.2 19.0 L231.8 16.9 L226.4 14.9 L220.9 13.0 L215.3 11.3 Z" fill="#2aa6c4" fill-opacity="0.85"/>
<path d="M188.3 471.2 L189.4 476.2 L190.9 481.0 L192.7 485.6 L194.7 490.1 L196.8 494.5 L199.2 498.7 L201.8 502.8 L201.3 499.9 L200.2 504.6 L199.2 509.4 L198.5 514.2 L198.0 519.1 L197.7 524.2 L198.0 529.3 L202.0 530.7 L205.3 526.7 L208.1 522.5 L210.7 518.3 L213.0 514.0 L215.1 509.6 L217.0 505.1 L215.8 493.5 L213.0 489.5 L210.0 485.7 L206.8 482.1 L203.4 478.5 L199.8 475.1 L196.0 471.8 L191.7 468.8 Z" fill="#1a7a98" fill-opacity="0.6"/>
<path d="M189.3 470.4 L191.4 474.9 L193.7 479.2 L196.0 483.4 L198.4 487.6 L200.9 491.8 L203.5 495.9 L206.1 499.9 L206.2 501.5 L204.8 506.1 L203.5 510.8 L202.3 515.5 L201.1 520.2 L200.1 524.9 L199.2 529.7 L200.8 530.3 L203.0 525.9 L205.0 521.5 L206.9 517.0 L208.7 512.5 L210.5 508.0 L212.2 503.5 L211.4 496.4 L208.7 492.4 L205.9 488.4 L203.0 484.6 L200.1 480.7 L197.1 476.9 L193.9 473.2 L190.7 469.6 Z" fill="#2aa6c4" fill-opacity="0.85"/>
<ellipse cx="155" cy="212" rx="14" ry="12" fill="#62e6ee"/>
<ellipse cx="165" cy="270" rx="12" ry="10" fill="#62e6ee"/>
<ellipse cx="15" cy="260" rx="10" ry="10" fill="#62e6ee"/>
<ellipse cx="150" cy="515" rx="12" ry="10" fill="#62e6ee"/>
<ellipse cx="232" cy="175" rx="22" ry="11" transform="rotate(36 232 175)" fill="#26a6c4" fill-opacity="0.5"/>
<ellipse cx="232" cy="175" rx="13.0" ry="9.0" transform="rotate(36 232 175)" fill="#1a4ef5"/>
<ellipse cx="290" cy="305" rx="22" ry="11" transform="rotate(34 290 305)" fill="#26a6c4" fill-opacity="0.5"/>
<ellipse cx="290" cy="305" rx="13.0" ry="9.0" transform="rotate(34 290 305)" fill="#1a4ef5"/>
<ellipse cx="95" cy="443" rx="22" ry="11" transform="rotate(8 95 443)" fill="#26a6c4" fill-opacity="0.5"/>
<ellipse cx="95" cy="443" rx="13.0" ry="9.0" transform="rotate(8 95 443)" fill="#1a4ef5"/>
<ellipse cx="195" cy="485" rx="22" ry="11" transform="rotate(56 195 485)" fill="#26a6c4" fill-opacity="0.5"/>
<ellipse cx="195" cy="485" rx="13.0" ry="9.0" transform="rotate(56 195 485)" fill="#1a4ef5"/>
<ellipse cx="90" cy="548" rx="22" ry="11" transform="rotate(90 90 548)" fill="#26a6c4" fill-opacity="0.5"/>
<ellipse cx="90" cy="548" rx="13.0" ry="9.0" transform="rotate(90 90 548)" fill="#1a4ef5"/>
<ellipse cx="335" cy="515" rx="22" ry="11" transform="rotate(26 335 515)" fill="#26a6c4" fill-opacity="0.5"/>
<ellipse cx="335" cy="515" rx="13.0" ry="9.0" transform="rotate(26 335 515)" fill="#1a4ef5"/>
<ellipse cx="15" cy="35" rx="22" ry="11" transform="rotate(51 15 35)" fill="#26a6c4" fill-opacity="0.5"/>
<ellipse cx="15" cy="35" rx="13.0" ry="9.0" transform="rotate(51 15 35)" fill="#1a4ef5"/>
<ellipse cx="175" cy="145" rx="22" ry="11" transform="rotate(39 175 145)" fill="#26a6c4" fill-opacity="0.5"/>
<ellipse cx="175" cy="145" rx="13.0" ry="9.0" transform="rotate(39 175 145)" fill="#1a4ef5"/>
<ellipse cx="215" cy="460" rx="22" ry="11" transform="rotate(-37 215 460)" fill="#26a6c4" fill-opacity="0.5"/>
<ellipse cx="215" cy="460" rx="13.0" ry="9.0" transform="rotate(-37 215 460)" fill="#1a4ef5"/>
</g></g>
<rect x="114.55" y="398.35" width="39.20" height="64.20" fill="none" stroke="#000" stroke-width="0.5" stroke-opacity="0.6"/>
<rect x="0" y="0" width="520" height="1" fill="#000"/><rect x="0" y="0" width="1" height="565" fill="#000"/><rect x="519" y="0" width="1" height="565" fill="#000"/><rect x="0" y="563.5" width="520" height="1.5" fill="#000"/>
</svg>
</body></html>
